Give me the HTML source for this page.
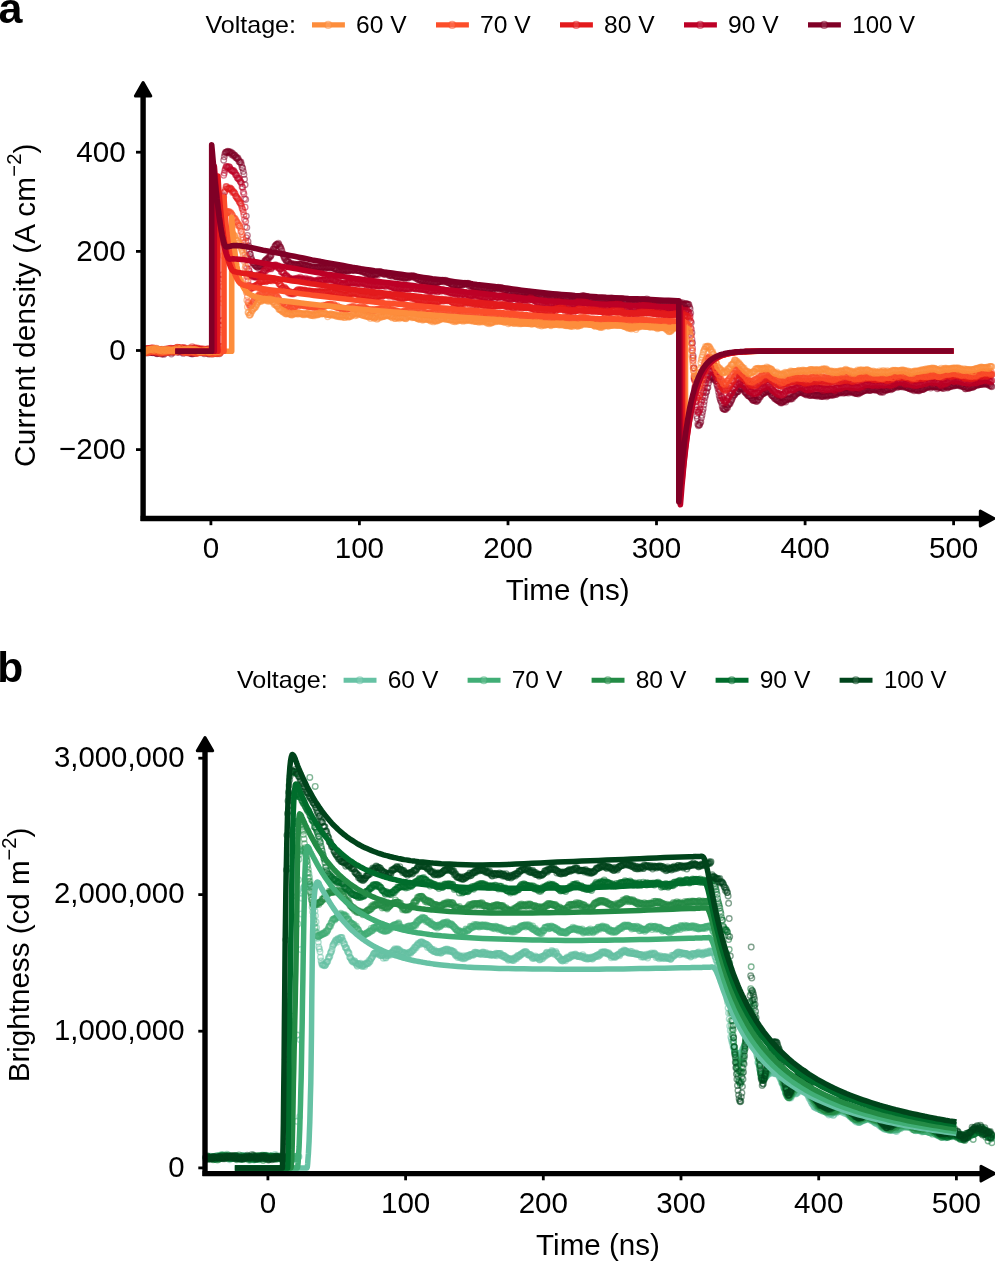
<!DOCTYPE html>
<html><head><meta charset="utf-8"><title>Figure</title>
<style>html,body{margin:0;padding:0;background:#fff}svg{display:block;will-change:transform}</style>
</head><body>
<svg width="995" height="1262" viewBox="0 0 995 1262">
<rect width="995" height="1262" fill="#fff"/>
<defs>
<marker id="r0" markerWidth="9" markerHeight="9" refX="4.5" refY="4.5" markerUnits="userSpaceOnUse"><circle cx="4.5" cy="4.5" r="2.8" fill="none" stroke="#FD8D3C" stroke-opacity=".5" stroke-width="1.35"/></marker>
<marker id="r1" markerWidth="9" markerHeight="9" refX="4.5" refY="4.5" markerUnits="userSpaceOnUse"><circle cx="4.5" cy="4.5" r="2.8" fill="none" stroke="#FC4E2A" stroke-opacity=".5" stroke-width="1.35"/></marker>
<marker id="r2" markerWidth="9" markerHeight="9" refX="4.5" refY="4.5" markerUnits="userSpaceOnUse"><circle cx="4.5" cy="4.5" r="2.8" fill="none" stroke="#E31A1C" stroke-opacity=".5" stroke-width="1.35"/></marker>
<marker id="r3" markerWidth="9" markerHeight="9" refX="4.5" refY="4.5" markerUnits="userSpaceOnUse"><circle cx="4.5" cy="4.5" r="2.8" fill="none" stroke="#BD0026" stroke-opacity=".5" stroke-width="1.35"/></marker>
<marker id="r4" markerWidth="9" markerHeight="9" refX="4.5" refY="4.5" markerUnits="userSpaceOnUse"><circle cx="4.5" cy="4.5" r="2.8" fill="none" stroke="#800026" stroke-opacity=".5" stroke-width="1.35"/></marker>
<marker id="g0" markerWidth="9" markerHeight="9" refX="4.5" refY="4.5" markerUnits="userSpaceOnUse"><circle cx="4.5" cy="4.5" r="2.8" fill="none" stroke="#66C2A4" stroke-opacity=".5" stroke-width="1.35"/></marker>
<marker id="g1" markerWidth="9" markerHeight="9" refX="4.5" refY="4.5" markerUnits="userSpaceOnUse"><circle cx="4.5" cy="4.5" r="2.8" fill="none" stroke="#41AE76" stroke-opacity=".5" stroke-width="1.35"/></marker>
<marker id="g2" markerWidth="9" markerHeight="9" refX="4.5" refY="4.5" markerUnits="userSpaceOnUse"><circle cx="4.5" cy="4.5" r="2.8" fill="none" stroke="#238B45" stroke-opacity=".5" stroke-width="1.35"/></marker>
<marker id="g3" markerWidth="9" markerHeight="9" refX="4.5" refY="4.5" markerUnits="userSpaceOnUse"><circle cx="4.5" cy="4.5" r="2.8" fill="none" stroke="#006D2C" stroke-opacity=".5" stroke-width="1.35"/></marker>
<marker id="g4" markerWidth="9" markerHeight="9" refX="4.5" refY="4.5" markerUnits="userSpaceOnUse"><circle cx="4.5" cy="4.5" r="2.8" fill="none" stroke="#00441B" stroke-opacity=".5" stroke-width="1.35"/></marker>
</defs>
<g fill="none" stroke="none">
<polyline points="144.1,351.4 144.7,350.9 145.2,351.5 145.8,351.7 146.4,352.1 147.0,351.6 147.6,352.9 148.2,350.7 148.8,351.9 149.4,351.1 150.0,352.6 150.6,351.3 151.2,351.7 151.8,352.2 152.4,352.5 153.0,352.7 153.6,350.9 154.2,351.4 154.8,352.2 155.3,352.2 155.9,352.8 156.5,353.6 157.1,353.7 157.7,352.9 158.3,352.7 158.9,353.4 159.5,352.1 160.1,352.4 160.7,352.7 161.3,354.1 161.9,353.1 162.5,352.9 163.1,353.8 163.7,354.4 164.3,351.5 164.9,352.3 165.4,352.9 166.0,351.4 166.6,351.7 167.2,352.0 167.8,352.1 168.4,351.6 169.0,351.1 169.6,352.0 170.2,352.2 170.8,351.6 171.4,354.0 172.0,351.9 172.6,352.2 173.2,351.9 173.8,351.9 174.4,351.5 175.0,351.5 175.5,351.4 176.1,351.5 176.7,350.9 177.3,351.5 177.9,350.4 178.5,352.2 179.1,350.8 179.7,350.6 180.3,351.8 180.9,351.2 181.5,350.1 182.1,351.2 182.7,351.8 183.3,353.4 183.9,351.2 184.5,351.6 185.1,351.4 185.6,350.5 186.2,352.1 186.8,352.1 187.4,352.8 188.0,352.5 188.6,352.6 189.2,352.2 189.8,352.5 190.4,353.6 191.0,353.5 191.6,352.4 192.2,354.1 192.8,353.0 193.4,352.4 194.0,353.1 194.6,353.3 195.2,352.4 195.7,353.0 196.3,353.1 196.9,353.1 197.5,351.9 198.1,352.1 198.7,351.3 199.3,352.4 199.9,352.3 200.5,352.2 201.1,351.6 201.7,352.2 202.3,351.0 202.9,351.3 203.5,352.2 204.1,353.7 204.7,352.9 205.3,350.8 205.8,351.9 206.4,351.9 207.0,352.5 207.6,352.0 208.2,353.7 208.8,353.9 209.4,353.8 210.0,352.7 210.6,352.4 211.2,352.6 211.8,353.2 212.4,354.0 213.0,352.6 213.6,353.4 214.2,353.2 214.8,353.2 215.4,353.4 216.0,353.6 216.5,353.4 217.1,353.8 217.7,352.6 218.3,352.8 218.9,351.8 219.5,353.7 220.1,351.5 220.7,352.3 221.3,347.7 221.9,320.4 222.5,274.8 223.1,195.8 223.7,160.2 224.3,156.8 224.9,153.9 225.5,152.4 226.1,152.4 226.6,151.9 227.2,152.0 227.8,151.1 228.4,151.9 229.0,152.0 229.6,152.0 230.2,152.9 230.8,151.9 231.4,154.4 232.0,153.2 232.6,153.5 233.2,155.7 233.8,154.7 234.4,155.5 235.0,155.5 235.6,157.4 236.2,156.9 236.7,158.3 237.3,158.5 237.9,157.9 238.5,159.6 239.1,161.7 239.7,161.8 240.3,162.5 240.9,162.0 241.5,164.7 242.1,167.5 242.7,168.2 243.3,171.4 243.9,174.4 244.5,179.2 245.1,184.8 245.7,199.4 246.3,216.1 246.8,227.6 247.4,235.4 248.0,241.4 248.6,245.8 249.2,250.9 249.8,254.0 250.4,254.2 251.0,257.5 251.6,259.5 252.2,260.7 252.8,262.9 253.4,262.9 254.0,263.6 254.6,265.3 255.2,264.8 255.8,266.1 256.4,265.9 256.9,266.9 257.5,267.0 258.1,267.5 258.7,266.1 259.3,266.3 259.9,265.9 260.5,266.2 261.1,265.8 261.7,264.9 262.3,263.7 262.9,263.4 263.5,263.6 264.1,262.4 264.7,260.9 265.3,261.5 265.9,259.6 266.5,260.2 267.0,258.9 267.6,259.6 268.2,257.7 268.8,258.6 269.4,256.7 270.0,256.2 270.6,256.4 271.2,254.9 271.8,252.0 272.4,251.3 273.0,249.4 273.6,249.0 274.2,249.9 274.8,246.5 275.4,246.0 276.0,245.0 276.6,244.4 277.1,244.4 277.7,244.5 278.3,243.1 278.9,244.4 279.5,246.1 280.1,247.1 280.7,247.5 281.3,249.3 281.9,251.0 282.5,253.5 283.1,254.4 283.7,256.3 284.3,258.2 284.9,257.4 285.5,259.4 286.1,260.4 286.7,261.6 287.2,261.1 287.8,260.7 288.4,262.2 289.0,262.4 289.6,264.3 290.2,263.6 290.8,263.9 291.4,263.2 292.0,264.5 292.6,265.3 293.2,264.9 293.8,265.2 294.4,264.0 295.0,264.6 295.6,264.8 296.2,264.9 296.8,264.4 297.4,265.3 297.9,265.5 298.5,266.1 299.1,263.9 299.7,264.4 300.3,264.2 300.9,264.6 301.5,263.5 302.1,265.3 302.7,263.8 303.3,265.3 303.9,265.1 304.5,265.7 305.1,264.9 305.7,265.4 306.3,265.1 306.9,266.1 307.5,266.9 308.0,265.8 308.6,265.6 309.2,266.2 309.8,266.9 310.4,266.8 311.0,268.4 311.6,267.5 312.2,266.6 312.8,267.1 313.4,268.0 314.0,266.8 314.6,267.5 315.2,266.9 315.8,268.4 316.4,267.9 317.0,267.3 317.6,267.3 318.1,267.2 318.7,267.6 319.3,267.7 319.9,267.2 320.5,266.9 321.1,268.5 321.7,267.6 322.3,267.4 322.9,267.1 323.5,266.5 324.1,268.1 324.7,266.7 325.3,268.3 325.9,267.5 326.5,267.3 327.1,267.0 327.7,267.2 328.2,267.1 328.8,267.0 329.4,266.9 330.0,268.1 330.6,267.9 331.2,267.4 331.8,266.9 332.4,266.9 333.0,265.8 333.6,268.0 334.2,268.9 334.8,268.5 335.4,268.5 336.0,269.1 336.6,270.2 337.2,269.8 337.8,270.0 338.3,271.1 338.9,271.2 339.5,269.7 340.1,272.2 340.7,270.7 341.3,271.0 341.9,269.9 342.5,270.5 343.1,271.5 343.7,270.1 344.3,271.3 344.9,269.5 345.5,269.7 346.1,270.9 346.7,270.3 347.3,270.7 347.9,271.4 348.4,270.0 349.0,270.4 349.6,270.0 350.2,269.8 350.8,269.5 351.4,269.7 352.0,270.4 352.6,270.2 353.2,269.9 353.8,270.2 354.4,270.3 355.0,268.8 355.6,269.7 356.2,268.8 356.8,270.6 357.4,270.2 358.0,270.5 358.5,270.6 359.1,270.7 359.7,270.7 360.3,271.0 360.9,269.7 361.5,270.6 362.1,271.7 362.7,271.8 363.3,271.1 363.9,271.4 364.5,272.4 365.1,271.6 365.7,273.5 366.3,273.1 366.9,271.9 367.5,275.1 368.1,273.8 368.6,273.2 369.2,274.3 369.8,274.9 370.4,275.2 371.0,276.1 371.6,275.6 372.2,274.6 372.8,275.0 373.4,274.5 374.0,274.5 374.6,274.0 375.2,275.1 375.8,274.0 376.4,273.9 377.0,273.7 377.6,274.0 378.2,274.8 378.8,272.8 379.3,272.6 379.9,271.5 380.5,272.6 381.1,272.0 381.7,272.7 382.3,273.5 382.9,273.0 383.5,274.2 384.1,273.4 384.7,273.7 385.3,274.5 385.9,273.1 386.5,273.3 387.1,273.9 387.7,273.8 388.3,273.4 388.9,274.7 389.4,275.7 390.0,275.5 390.6,274.5 391.2,274.9 391.8,276.2 392.4,274.4 393.0,275.3 393.6,274.5 394.2,275.0 394.8,276.3 395.4,276.1 396.0,276.8 396.6,277.0 397.2,276.8 397.8,276.3 398.4,275.8 399.0,277.5 399.5,276.5 400.1,277.1 400.7,277.3 401.3,276.5 401.9,277.6 402.5,276.5 403.1,277.7 403.7,278.1 404.3,276.9 404.9,278.4 405.5,278.1 406.1,277.3 406.7,277.0 407.3,277.1 407.9,278.2 408.5,277.6 409.1,276.3 409.6,276.2 410.2,277.2 410.8,276.3 411.4,276.3 412.0,275.8 412.6,277.1 413.2,275.7 413.8,277.1 414.4,276.1 415.0,276.7 415.6,278.3 416.2,278.1 416.8,278.0 417.4,277.8 418.0,279.7 418.6,279.4 419.2,278.9 419.7,279.3 420.3,280.7 420.9,280.8 421.5,280.2 422.1,281.4 422.7,280.8 423.3,280.6 423.9,281.4 424.5,283.5 425.1,281.0 425.7,281.2 426.3,281.1 426.9,281.6 427.5,283.4 428.1,281.4 428.7,282.2 429.3,281.8 429.8,282.6 430.4,282.7 431.0,282.7 431.6,281.5 432.2,282.5 432.8,282.9 433.4,283.7 434.0,282.6 434.6,282.9 435.2,282.8 435.8,282.2 436.4,282.4 437.0,282.7 437.6,282.4 438.2,282.3 438.8,281.6 439.4,281.3 439.9,281.4 440.5,281.8 441.1,280.4 441.7,280.2 442.3,281.4 442.9,280.3 443.5,280.9 444.1,282.1 444.7,280.7 445.3,280.2 445.9,281.5 446.5,281.7 447.1,280.7 447.7,282.5 448.3,282.7 448.9,282.6 449.5,282.3 450.0,282.7 450.6,283.8 451.2,284.1 451.8,284.2 452.4,284.8 453.0,285.4 453.6,285.8 454.2,284.7 454.8,285.5 455.4,283.4 456.0,285.1 456.6,286.1 457.2,285.6 457.8,285.4 458.4,285.3 459.0,285.3 459.6,285.2 460.2,285.5 460.7,284.8 461.3,283.6 461.9,285.2 462.5,285.0 463.1,284.0 463.7,283.5 464.3,283.7 464.9,283.3 465.5,284.2 466.1,284.3 466.7,283.7 467.3,283.8 467.9,283.3 468.5,283.5 469.1,286.0 469.7,284.4 470.3,285.5 470.8,286.7 471.4,285.2 472.0,285.8 472.6,286.1 473.2,287.0 473.8,287.1 474.4,286.8 475.0,287.9 475.6,287.2 476.2,287.4 476.8,287.8 477.4,287.7 478.0,288.2 478.6,289.1 479.2,289.1 479.8,288.4 480.4,287.9 480.9,288.5 481.5,288.9 482.1,288.5 482.7,289.8 483.3,289.3 483.9,288.9 484.5,288.7 485.1,289.0 485.7,289.1 486.3,289.9 486.9,289.6 487.5,289.2 488.1,290.8 488.7,290.4 489.3,289.9 489.9,288.7 490.5,289.2 491.0,288.5 491.6,288.6 492.2,289.7 492.8,289.2 493.4,289.8 494.0,288.0 494.6,288.1 495.2,288.1 495.8,287.9 496.4,287.9 497.0,288.0 497.6,287.9 498.2,287.3 498.8,288.7 499.4,288.9 500.0,288.2 500.6,287.5 501.1,288.2 501.7,288.6 502.3,288.0 502.9,288.6 503.5,290.2 504.1,289.8 504.7,290.8 505.3,289.8 505.9,290.3 506.5,290.1 507.1,289.3 507.7,291.5 508.3,291.4 508.9,292.0 509.5,293.9 510.1,292.7 510.7,292.8 511.2,292.2 511.8,293.1 512.4,293.4 513.0,292.1 513.6,292.5 514.2,293.1 514.8,293.0 515.4,292.8 516.0,292.0 516.6,291.7 517.2,293.7 517.8,292.1 518.4,292.9 519.0,292.8 519.6,292.5 520.2,293.9 520.8,292.7 521.3,294.3 521.9,293.8 522.5,294.1 523.1,292.3 523.7,292.3 524.3,292.9 524.9,293.0 525.5,293.7 526.1,292.0 526.7,292.2 527.3,292.5 527.9,293.2 528.5,293.4 529.1,293.2 529.7,292.3 530.3,294.0 530.9,293.3 531.4,292.4 532.0,293.0 532.6,292.5 533.2,293.5 533.8,293.6 534.4,293.0 535.0,293.6 535.6,293.9 536.2,294.6 536.8,295.4 537.4,293.5 538.0,295.0 538.6,295.5 539.2,294.6 539.8,296.1 540.4,296.7 541.0,296.5 541.6,296.4 542.1,296.5 542.7,296.6 543.3,296.5 543.9,297.5 544.5,297.4 545.1,298.0 545.7,298.5 546.3,297.9 546.9,298.1 547.5,297.1 548.1,298.0 548.7,298.8 549.3,297.8 549.9,298.3 550.5,296.8 551.1,298.8 551.7,297.8 552.2,297.6 552.8,296.9 553.4,296.8 554.0,297.7 554.6,297.8 555.2,296.4 555.8,295.5 556.4,295.5 557.0,296.8 557.6,296.2 558.2,297.2 558.8,297.6 559.4,295.7 560.0,296.1 560.6,296.8 561.2,296.9 561.8,296.1 562.3,296.6 562.9,297.2 563.5,297.0 564.1,297.4 564.7,297.9 565.3,298.3 565.9,297.4 566.5,298.6 567.1,299.4 567.7,297.5 568.3,298.2 568.9,298.9 569.5,299.5 570.1,299.6 570.7,300.9 571.3,300.0 571.9,299.9 572.4,300.2 573.0,299.7 573.6,300.4 574.2,299.6 574.8,300.5 575.4,299.2 576.0,299.3 576.6,299.5 577.2,298.6 577.8,298.1 578.4,298.3 579.0,297.0 579.6,297.9 580.2,296.6 580.8,296.6 581.4,297.3 582.0,295.7 582.5,297.5 583.1,296.0 583.7,296.2 584.3,295.6 584.9,297.2 585.5,296.9 586.1,296.8 586.7,296.4 587.3,296.6 587.9,297.0 588.5,297.5 589.1,298.2 589.7,299.0 590.3,298.8 590.9,298.5 591.5,298.6 592.1,300.0 592.6,299.3 593.2,301.2 593.8,300.0 594.4,301.5 595.0,300.7 595.6,301.6 596.2,301.6 596.8,301.2 597.4,299.8 598.0,301.1 598.6,300.1 599.2,300.2 599.8,300.0 600.4,300.0 601.0,299.7 601.6,300.9 602.2,300.0 602.7,299.8 603.3,300.4 603.9,299.7 604.5,300.6 605.1,299.4 605.7,300.3 606.3,300.0 606.9,299.2 607.5,298.9 608.1,299.9 608.7,299.9 609.3,298.7 609.9,301.3 610.5,298.4 611.1,298.3 611.7,299.9 612.3,298.3 612.8,298.8 613.4,298.7 614.0,300.5 614.6,299.2 615.2,299.0 615.8,299.0 616.4,299.0 617.0,298.9 617.6,300.7 618.2,298.9 618.8,299.3 619.4,299.0 620.0,299.4 620.6,299.2 621.2,299.2 621.8,298.4 622.4,300.5 622.9,299.1 623.5,300.8 624.1,301.6 624.7,302.4 625.3,301.2 625.9,303.2 626.5,302.0 627.1,302.7 627.7,303.6 628.3,303.9 628.9,303.3 629.5,303.6 630.1,303.2 630.7,303.7 631.3,303.9 631.9,303.1 632.5,304.2 633.1,302.7 633.6,303.1 634.2,303.8 634.8,303.6 635.4,303.0 636.0,303.9 636.6,301.5 637.2,301.6 637.8,302.8 638.4,301.9 639.0,300.5 639.6,301.1 640.2,301.8 640.8,302.4 641.4,301.8 642.0,299.7 642.6,300.1 643.2,301.0 643.7,299.5 644.3,300.2 644.9,300.4 645.5,300.3 646.1,300.4 646.7,299.0 647.3,301.0 647.9,300.8 648.5,299.9 649.1,300.1 649.7,302.1 650.3,300.4 650.9,301.4 651.5,303.6 652.1,301.7 652.7,304.3 653.3,303.1 653.8,304.6 654.4,305.2 655.0,303.6 655.6,304.0 656.2,304.4 656.8,304.2 657.4,304.4 658.0,304.5 658.6,305.0 659.2,303.8 659.8,304.1 660.4,304.2 661.0,304.4 661.6,304.1 662.2,304.9 662.8,304.0 663.4,304.5 663.9,302.9 664.5,304.4 665.1,304.0 665.7,303.7 666.3,303.2 666.9,303.5 667.5,303.8 668.1,302.4 668.7,303.9 669.3,303.8 669.9,302.2 670.5,304.7 671.1,303.4 671.7,303.8 672.3,305.0 672.9,304.6 673.5,303.6 674.0,305.1 674.6,304.2 675.2,303.4 675.8,304.1 676.4,303.7 677.0,304.3 677.6,304.3 678.2,304.2 678.8,304.1 679.4,303.4 680.0,303.9 680.6,302.6 681.2,303.7 681.8,304.0 682.4,302.7 683.0,304.4 683.6,304.9 684.1,304.3 684.7,305.1 685.3,304.0 685.9,303.4 686.5,303.9 687.1,304.6 687.7,304.4 688.3,304.3 688.9,304.8 689.5,307.1 690.1,308.8 690.7,313.1 691.3,322.6 691.9,332.8 692.5,342.8 693.1,355.7 693.7,368.0 694.2,379.1 694.8,390.5 695.4,401.2 696.0,410.0 696.6,416.1 697.2,418.6 697.8,424.3 698.4,425.7 699.0,424.8 699.6,425.0 700.2,422.9 700.8,421.9 701.4,418.0 702.0,415.3 702.6,412.0 703.2,409.0 703.8,404.9 704.3,401.6 704.9,397.7 705.5,395.6 706.1,392.6 706.7,391.5 707.3,388.2 707.9,387.4 708.5,383.2 709.1,380.4 709.7,379.3 710.3,376.2 710.9,377.6 711.5,376.8 712.1,377.4 712.7,377.4 713.3,377.9 713.9,379.2 714.5,379.6 715.0,378.4 715.6,380.9 716.2,381.1 716.8,384.5 717.4,386.2 718.0,388.7 718.6,392.3 719.2,395.5 719.8,398.0 720.4,400.0 721.0,401.2 721.6,402.8 722.2,406.3 722.8,408.4 723.4,408.5 724.0,409.3 724.6,409.2 725.1,408.9 725.7,409.6 726.3,407.0 726.9,407.4 727.5,407.8 728.1,404.9 728.7,404.4 729.3,403.6 729.9,404.0 730.5,402.2 731.1,400.8 731.7,400.0 732.3,398.3 732.9,396.8 733.5,395.5 734.1,394.7 734.7,394.8 735.2,392.7 735.8,393.0 736.4,391.8 737.0,391.7 737.6,391.7 738.2,391.5 738.8,389.1 739.4,389.1 740.0,388.2 740.6,387.3 741.2,388.8 741.8,389.1 742.4,388.1 743.0,388.5 743.6,389.6 744.2,390.5 744.8,392.1 745.3,391.9 745.9,393.2 746.5,393.2 747.1,393.7 747.7,395.4 748.3,395.4 748.9,396.0 749.5,396.2 750.1,396.2 750.7,397.5 751.3,398.1 751.9,398.6 752.5,400.0 753.1,400.2 753.7,400.4 754.3,400.1 754.9,400.2 755.4,399.5 756.0,401.6 756.6,400.6 757.2,401.2 757.8,399.8 758.4,399.8 759.0,397.1 759.6,396.7 760.2,397.2 760.8,395.5 761.4,394.7 762.0,393.5 762.6,393.7 763.2,393.7 763.8,393.3 764.4,392.3 765.0,392.0 765.5,392.1 766.1,392.2 766.7,390.4 767.3,391.5 767.9,391.2 768.5,390.8 769.1,391.7 769.7,391.4 770.3,393.5 770.9,392.8 771.5,394.9 772.1,395.7 772.7,396.1 773.3,396.0 773.9,397.3 774.5,398.4 775.1,397.2 775.6,399.2 776.2,399.1 776.8,399.4 777.4,400.5 778.0,400.4 778.6,400.7 779.2,401.6 779.8,401.1 780.4,402.4 781.0,402.9 781.6,402.0 782.2,402.7 782.8,401.6 783.4,401.6 784.0,401.5 784.6,400.4 785.2,400.1 785.7,402.1 786.3,399.9 786.9,399.2 787.5,398.6 788.1,399.0 788.7,399.1 789.3,398.0 789.9,397.4 790.5,399.2 791.1,398.6 791.7,397.7 792.3,398.8 792.9,397.0 793.5,395.7 794.1,396.6 794.7,395.3 795.3,395.6 795.9,394.3 796.4,393.7 797.0,392.9 797.6,393.4 798.2,392.3 798.8,392.5 799.4,392.8 800.0,391.3 800.6,392.6 801.2,392.1 801.8,390.6 802.4,391.8 803.0,393.2 803.6,392.6 804.2,393.4 804.8,393.4 805.4,394.6 806.0,393.6 806.5,395.0 807.1,393.9 807.7,394.0 808.3,393.7 808.9,392.8 809.5,395.5 810.1,395.3 810.7,395.2 811.3,394.9 811.9,393.9 812.5,394.8 813.1,395.0 813.7,395.4 814.3,395.2 814.9,395.1 815.5,395.0 816.1,396.0 816.6,395.2 817.2,394.8 817.8,395.0 818.4,396.2 819.0,394.8 819.6,394.8 820.2,395.2 820.8,396.3 821.4,396.5 822.0,395.5 822.6,396.3 823.2,396.6 823.8,395.1 824.4,395.2 825.0,395.4 825.6,395.0 826.2,395.3 826.7,396.7 827.3,395.0 827.9,395.7 828.5,395.3 829.1,394.4 829.7,395.0 830.3,394.1 830.9,394.9 831.5,395.0 832.1,395.0 832.7,394.3 833.3,395.2 833.9,393.8 834.5,393.6 835.1,393.7 835.7,394.6 836.3,394.4 836.8,392.2 837.4,393.2 838.0,391.5 838.6,392.8 839.2,392.0 839.8,393.2 840.4,392.6 841.0,392.4 841.6,391.8 842.2,391.1 842.8,391.6 843.4,393.3 844.0,392.3 844.6,392.5 845.2,392.8 845.8,392.0 846.4,391.3 846.9,392.7 847.5,391.6 848.1,391.4 848.7,393.1 849.3,391.0 849.9,391.0 850.5,392.0 851.1,390.9 851.7,392.0 852.3,391.4 852.9,391.8 853.5,392.9 854.1,392.3 854.7,392.7 855.3,393.0 855.9,393.6 856.5,393.3 857.0,393.6 857.6,391.9 858.2,394.0 858.8,392.4 859.4,392.7 860.0,393.0 860.6,391.4 861.2,392.3 861.8,390.7 862.4,391.4 863.0,390.9 863.6,391.0 864.2,390.3 864.8,389.8 865.4,390.6 866.0,390.1 866.6,388.7 867.1,390.2 867.7,388.4 868.3,389.8 868.9,389.8 869.5,390.5 870.1,389.9 870.7,390.4 871.3,389.6 871.9,388.6 872.5,389.1 873.1,389.4 873.7,389.7 874.3,389.5 874.9,390.1 875.5,390.0 876.1,387.9 876.7,389.3 877.3,390.3 877.8,389.4 878.4,389.1 879.0,390.9 879.6,390.8 880.2,391.8 880.8,392.2 881.4,390.2 882.0,388.8 882.6,391.7 883.2,392.2 883.8,390.0 884.4,390.1 885.0,390.3 885.6,389.4 886.2,390.4 886.8,389.7 887.4,389.1 887.9,389.7 888.5,388.9 889.1,389.2 889.7,388.4 890.3,388.4 890.9,389.7 891.5,388.0 892.1,388.9 892.7,388.2 893.3,388.5 893.9,386.6 894.5,387.1 895.1,387.0 895.7,385.6 896.3,385.8 896.9,386.4 897.5,387.6 898.0,385.6 898.6,386.3 899.2,386.4 899.8,385.6 900.4,386.7 901.0,386.4 901.6,385.8 902.2,386.1 902.8,387.1 903.4,385.8 904.0,386.1 904.6,385.7 905.2,387.2 905.8,387.2 906.4,386.7 907.0,387.3 907.6,387.6 908.1,387.9 908.7,388.2 909.3,388.6 909.9,388.8 910.5,388.2 911.1,388.9 911.7,389.8 912.3,388.9 912.9,388.0 913.5,388.3 914.1,390.8 914.7,390.1 915.3,389.1 915.9,389.7 916.5,389.8 917.1,390.1 917.7,390.0 918.2,390.8 918.8,389.3 919.4,390.8 920.0,390.1 920.6,388.8 921.2,388.9 921.8,389.5 922.4,389.3 923.0,389.4 923.6,389.1 924.2,388.7 924.8,387.3 925.4,388.3 926.0,387.3 926.6,387.2 927.2,387.0 927.8,387.2 928.3,386.4 928.9,386.6 929.5,386.5 930.1,386.8 930.7,387.9 931.3,385.9 931.9,385.9 932.5,386.8 933.1,386.6 933.7,386.4 934.3,387.3 934.9,386.3 935.5,386.4 936.1,386.5 936.7,386.6 937.3,388.7 937.9,387.1 938.4,387.9 939.0,386.9 939.6,387.0 940.2,387.2 940.8,387.8 941.4,385.7 942.0,387.7 942.6,388.3 943.2,386.8 943.8,388.4 944.4,386.0 945.0,386.6 945.6,386.4 946.2,386.5 946.8,386.9 947.4,388.0 948.0,387.4 948.5,386.4 949.1,386.8 949.7,386.2 950.3,386.7 950.9,386.6 951.5,385.6 952.1,385.0 952.7,385.3 953.3,385.8 953.9,386.1 954.5,383.4 955.1,385.5 955.7,385.2 956.3,385.1 956.9,384.0 957.5,385.1 958.1,384.3 958.7,384.6 959.2,385.7 959.8,384.9 960.4,386.0 961.0,385.5 961.6,385.1 962.2,386.0 962.8,386.7 963.4,386.6 964.0,386.7 964.6,386.7 965.2,388.7 965.8,388.7 966.4,387.3 967.0,387.9 967.6,388.0 968.2,387.9 968.8,388.1 969.3,388.2 969.9,387.7 970.5,387.1 971.1,387.1 971.7,387.1 972.3,387.5 972.9,386.4 973.5,387.1 974.1,386.5 974.7,385.7 975.3,385.5 975.9,384.7 976.5,384.7 977.1,384.8 977.7,385.2 978.3,384.8 978.9,384.8 979.4,383.2 980.0,383.9 980.6,384.5 981.2,384.5 981.8,382.9 982.4,384.3 983.0,383.5 983.6,383.6 984.2,383.0 984.8,384.4 985.4,383.6 986.0,383.9 986.6,383.6 987.2,383.3 987.8,384.2 988.4,384.6 989.0,383.9 989.5,385.7 990.1,384.7 990.7,385.8 991.3,386.2 991.9,386.7" marker-start="url(#r4)" marker-mid="url(#r4)" marker-end="url(#r4)"/>
<polyline points="144.1,351.6 144.7,350.9 145.2,350.5 145.8,352.7 146.4,351.0 147.0,350.9 147.6,350.5 148.2,350.2 148.8,350.5 149.4,351.6 150.0,350.7 150.6,351.8 151.2,350.8 151.8,351.4 152.4,351.4 153.0,351.2 153.6,352.4 154.2,351.4 154.8,352.0 155.3,350.4 155.9,350.2 156.5,352.0 157.1,352.5 157.7,350.8 158.3,351.4 158.9,351.7 159.5,349.5 160.1,351.5 160.7,352.0 161.3,351.5 161.9,351.2 162.5,350.4 163.1,351.4 163.7,352.5 164.3,352.0 164.9,350.4 165.4,352.9 166.0,351.7 166.6,350.9 167.2,351.4 167.8,351.7 168.4,352.1 169.0,351.3 169.6,351.0 170.2,351.1 170.8,350.5 171.4,350.9 172.0,350.1 172.6,350.8 173.2,350.1 173.8,350.8 174.4,349.3 175.0,349.5 175.5,349.8 176.1,350.9 176.7,350.0 177.3,352.2 177.9,350.4 178.5,350.0 179.1,350.8 179.7,350.1 180.3,349.8 180.9,349.1 181.5,350.5 182.1,351.7 182.7,352.4 183.3,351.0 183.9,350.3 184.5,350.3 185.1,351.1 185.6,351.7 186.2,351.9 186.8,351.6 187.4,351.5 188.0,351.3 188.6,351.7 189.2,350.5 189.8,351.9 190.4,351.7 191.0,351.4 191.6,351.5 192.2,352.6 192.8,353.2 193.4,352.9 194.0,351.7 194.6,351.4 195.2,351.5 195.7,351.1 196.3,350.7 196.9,352.1 197.5,349.8 198.1,349.7 198.7,351.1 199.3,351.8 199.9,351.5 200.5,352.7 201.1,351.7 201.7,352.3 202.3,351.8 202.9,352.0 203.5,350.3 204.1,352.3 204.7,351.4 205.3,351.9 205.8,350.4 206.4,350.7 207.0,352.5 207.6,352.0 208.2,351.0 208.8,351.6 209.4,350.7 210.0,351.0 210.6,351.8 211.2,351.2 211.8,350.8 212.4,351.3 213.0,351.2 213.6,351.2 214.2,351.6 214.8,350.7 215.4,352.5 216.0,351.3 216.5,351.9 217.1,351.2 217.7,350.8 218.3,350.9 218.9,350.8 219.5,350.6 220.1,350.8 220.7,351.3 221.3,346.5 221.9,320.9 222.5,279.1 223.1,206.4 223.7,175.3 224.3,173.1 224.9,170.3 225.5,168.6 226.1,166.8 226.6,166.4 227.2,167.0 227.8,167.9 228.4,166.9 229.0,166.7 229.6,167.2 230.2,168.8 230.8,169.7 231.4,170.2 232.0,171.0 232.6,170.2 233.2,171.4 233.8,170.8 234.4,171.9 235.0,173.0 235.6,174.9 236.2,174.7 236.7,175.6 237.3,177.7 237.9,178.5 238.5,178.8 239.1,178.2 239.7,180.2 240.3,181.8 240.9,182.0 241.5,183.4 242.1,186.9 242.7,187.4 243.3,192.0 243.9,194.0 244.5,198.6 245.1,207.2 245.7,221.4 246.3,237.8 246.8,250.5 247.4,257.5 248.0,264.0 248.6,269.4 249.2,271.2 249.8,274.0 250.4,274.4 251.0,274.8 251.6,275.6 252.2,275.3 252.8,276.4 253.4,277.0 254.0,275.8 254.6,276.5 255.2,277.1 255.8,276.9 256.4,277.1 256.9,276.5 257.5,276.9 258.1,274.7 258.7,274.8 259.3,276.8 259.9,275.5 260.5,274.5 261.1,274.5 261.7,275.1 262.3,272.6 262.9,273.4 263.5,271.5 264.1,271.1 264.7,269.8 265.3,271.0 265.9,268.6 266.5,270.3 267.0,268.0 267.6,268.0 268.2,268.1 268.8,268.9 269.4,266.7 270.0,267.0 270.6,268.5 271.2,268.9 271.8,267.2 272.4,267.1 273.0,265.7 273.6,265.8 274.2,265.4 274.8,265.8 275.4,264.7 276.0,265.7 276.6,266.3 277.1,267.2 277.7,265.5 278.3,266.8 278.9,268.3 279.5,268.5 280.1,269.0 280.7,269.1 281.3,272.0 281.9,271.7 282.5,271.8 283.1,272.8 283.7,273.3 284.3,273.2 284.9,275.8 285.5,276.2 286.1,275.5 286.7,275.6 287.2,276.8 287.8,277.6 288.4,278.6 289.0,277.7 289.6,278.2 290.2,279.5 290.8,279.4 291.4,279.9 292.0,279.1 292.6,279.8 293.2,278.9 293.8,278.9 294.4,279.7 295.0,279.0 295.6,279.0 296.2,278.6 296.8,279.8 297.4,278.9 297.9,277.9 298.5,278.6 299.1,279.3 299.7,278.8 300.3,277.3 300.9,279.2 301.5,279.4 302.1,278.4 302.7,279.3 303.3,280.2 303.9,280.3 304.5,279.2 305.1,279.7 305.7,278.3 306.3,279.8 306.9,280.5 307.5,280.3 308.0,280.8 308.6,279.3 309.2,281.0 309.8,279.6 310.4,280.5 311.0,279.7 311.6,281.3 312.2,280.7 312.8,282.8 313.4,281.7 314.0,281.9 314.6,280.5 315.2,281.3 315.8,280.7 316.4,281.6 317.0,281.9 317.6,281.0 318.1,279.9 318.7,280.8 319.3,279.5 319.9,280.7 320.5,280.6 321.1,280.4 321.7,280.2 322.3,280.3 322.9,279.8 323.5,280.1 324.1,280.1 324.7,278.2 325.3,278.6 325.9,279.4 326.5,279.6 327.1,280.3 327.7,278.8 328.2,279.7 328.8,277.9 329.4,280.6 330.0,279.2 330.6,278.6 331.2,280.0 331.8,278.4 332.4,279.3 333.0,279.6 333.6,281.2 334.2,280.2 334.8,280.5 335.4,281.4 336.0,280.5 336.6,281.8 337.2,283.8 337.8,282.1 338.3,281.2 338.9,283.0 339.5,282.1 340.1,283.2 340.7,282.9 341.3,284.9 341.9,284.4 342.5,283.5 343.1,283.8 343.7,284.8 344.3,283.0 344.9,283.3 345.5,284.2 346.1,285.0 346.7,283.0 347.3,283.7 347.9,282.7 348.4,282.3 349.0,283.2 349.6,283.0 350.2,282.2 350.8,282.9 351.4,284.0 352.0,282.1 352.6,282.3 353.2,282.9 353.8,282.1 354.4,282.7 355.0,282.7 355.6,281.8 356.2,283.4 356.8,283.5 357.4,282.5 358.0,283.4 358.5,281.9 359.1,283.0 359.7,283.8 360.3,282.9 360.9,284.3 361.5,281.8 362.1,282.9 362.7,282.5 363.3,282.8 363.9,283.2 364.5,284.3 365.1,283.2 365.7,284.1 366.3,284.6 366.9,285.7 367.5,283.5 368.1,284.8 368.6,285.0 369.2,286.2 369.8,284.3 370.4,285.1 371.0,284.3 371.6,285.1 372.2,285.7 372.8,284.7 373.4,286.3 374.0,286.3 374.6,285.3 375.2,284.7 375.8,284.5 376.4,285.5 377.0,285.6 377.6,285.4 378.2,285.8 378.8,286.0 379.3,285.4 379.9,286.1 380.5,285.9 381.1,284.9 381.7,285.5 382.3,286.0 382.9,285.1 383.5,285.6 384.1,285.0 384.7,286.0 385.3,285.9 385.9,286.4 386.5,284.6 387.1,284.4 387.7,284.6 388.3,285.3 388.9,285.6 389.4,286.1 390.0,285.8 390.6,286.6 391.2,287.4 391.8,286.3 392.4,286.7 393.0,287.2 393.6,287.8 394.2,288.1 394.8,287.9 395.4,287.9 396.0,288.9 396.6,288.4 397.2,288.9 397.8,287.4 398.4,289.1 399.0,289.1 399.5,288.9 400.1,288.2 400.7,289.0 401.3,287.2 401.9,287.9 402.5,290.1 403.1,288.3 403.7,288.2 404.3,289.3 404.9,288.5 405.5,288.4 406.1,289.0 406.7,288.6 407.3,288.3 407.9,288.9 408.5,288.6 409.1,289.4 409.6,288.0 410.2,288.8 410.8,287.5 411.4,286.8 412.0,287.0 412.6,288.4 413.2,287.8 413.8,288.2 414.4,287.8 415.0,288.7 415.6,288.9 416.2,288.4 416.8,289.0 417.4,287.8 418.0,288.3 418.6,288.7 419.2,289.1 419.7,289.2 420.3,288.5 420.9,289.1 421.5,289.2 422.1,288.0 422.7,289.2 423.3,289.5 423.9,289.6 424.5,288.7 425.1,290.1 425.7,290.3 426.3,289.4 426.9,289.6 427.5,289.6 428.1,291.4 428.7,290.6 429.3,291.4 429.8,290.8 430.4,292.1 431.0,291.1 431.6,290.1 432.2,290.6 432.8,292.3 433.4,289.9 434.0,290.2 434.6,290.7 435.2,290.5 435.8,290.8 436.4,289.8 437.0,290.7 437.6,291.9 438.2,291.4 438.8,289.7 439.4,290.0 439.9,290.3 440.5,291.4 441.1,290.4 441.7,290.0 442.3,290.7 442.9,290.2 443.5,290.0 444.1,290.1 444.7,290.6 445.3,290.7 445.9,292.1 446.5,291.6 447.1,291.0 447.7,290.6 448.3,291.9 448.9,291.4 449.5,292.3 450.0,293.1 450.6,292.3 451.2,292.3 451.8,293.3 452.4,293.4 453.0,292.8 453.6,293.3 454.2,292.7 454.8,294.1 455.4,292.7 456.0,293.9 456.6,293.4 457.2,294.9 457.8,293.3 458.4,294.0 459.0,292.8 459.6,295.5 460.2,295.7 460.7,293.9 461.3,293.9 461.9,295.7 462.5,294.1 463.1,293.8 463.7,293.5 464.3,294.4 464.9,295.5 465.5,295.8 466.1,293.0 466.7,294.3 467.3,294.0 467.9,295.0 468.5,295.0 469.1,295.1 469.7,295.8 470.3,295.5 470.8,296.1 471.4,295.7 472.0,294.7 472.6,295.5 473.2,296.0 473.8,294.3 474.4,294.6 475.0,295.5 475.6,296.8 476.2,294.7 476.8,294.7 477.4,296.1 478.0,294.8 478.6,296.5 479.2,296.3 479.8,296.6 480.4,296.3 480.9,296.7 481.5,295.8 482.1,297.3 482.7,297.0 483.3,297.4 483.9,297.5 484.5,298.3 485.1,297.9 485.7,297.0 486.3,297.4 486.9,298.8 487.5,298.3 488.1,298.6 488.7,298.3 489.3,298.2 489.9,298.4 490.5,297.1 491.0,296.7 491.6,297.1 492.2,297.4 492.8,296.9 493.4,297.6 494.0,296.3 494.6,295.4 495.2,298.9 495.8,296.8 496.4,297.1 497.0,296.9 497.6,297.2 498.2,298.0 498.8,296.9 499.4,297.1 500.0,296.8 500.6,296.6 501.1,296.8 501.7,294.9 502.3,297.4 502.9,296.8 503.5,297.6 504.1,297.0 504.7,296.1 505.3,297.5 505.9,298.3 506.5,298.9 507.1,297.9 507.7,299.0 508.3,298.3 508.9,299.3 509.5,299.3 510.1,299.0 510.7,300.1 511.2,298.1 511.8,299.6 512.4,298.6 513.0,298.4 513.6,297.0 514.2,298.3 514.8,298.1 515.4,299.1 516.0,299.0 516.6,299.1 517.2,298.5 517.8,300.1 518.4,299.3 519.0,297.7 519.6,300.5 520.2,301.2 520.8,300.3 521.3,300.1 521.9,298.9 522.5,299.7 523.1,299.3 523.7,300.5 524.3,300.0 524.9,299.8 525.5,300.5 526.1,299.6 526.7,299.9 527.3,299.5 527.9,300.5 528.5,300.8 529.1,298.4 529.7,299.3 530.3,299.3 530.9,297.5 531.4,298.7 532.0,299.2 532.6,300.1 533.2,299.7 533.8,300.1 534.4,300.8 535.0,300.0 535.6,300.9 536.2,301.4 536.8,302.8 537.4,303.1 538.0,302.2 538.6,303.2 539.2,304.0 539.8,303.7 540.4,304.1 541.0,304.7 541.6,304.7 542.1,304.2 542.7,304.6 543.3,305.5 543.9,305.6 544.5,304.9 545.1,305.9 545.7,305.1 546.3,305.3 546.9,306.1 547.5,306.8 548.1,305.6 548.7,304.9 549.3,304.7 549.9,303.7 550.5,304.4 551.1,304.3 551.7,303.8 552.2,304.2 552.8,302.6 553.4,304.0 554.0,304.0 554.6,303.5 555.2,302.2 555.8,303.2 556.4,303.2 557.0,302.2 557.6,301.7 558.2,302.8 558.8,302.1 559.4,303.1 560.0,301.8 560.6,303.6 561.2,303.2 561.8,303.5 562.3,304.0 562.9,303.6 563.5,303.4 564.1,304.7 564.7,303.0 565.3,304.5 565.9,304.7 566.5,305.7 567.1,305.4 567.7,304.9 568.3,306.3 568.9,306.1 569.5,306.1 570.1,306.4 570.7,304.9 571.3,305.7 571.9,303.7 572.4,305.5 573.0,304.6 573.6,304.1 574.2,304.5 574.8,305.0 575.4,303.7 576.0,302.9 576.6,303.2 577.2,302.1 577.8,303.3 578.4,301.5 579.0,300.0 579.6,300.6 580.2,300.4 580.8,301.2 581.4,301.2 582.0,300.2 582.5,301.3 583.1,300.8 583.7,302.1 584.3,301.5 584.9,301.9 585.5,303.9 586.1,302.8 586.7,302.6 587.3,302.9 587.9,303.3 588.5,303.0 589.1,304.2 589.7,305.0 590.3,304.1 590.9,303.5 591.5,305.5 592.1,304.4 592.6,305.8 593.2,307.0 593.8,306.7 594.4,306.9 595.0,305.6 595.6,306.4 596.2,306.8 596.8,306.4 597.4,305.5 598.0,306.5 598.6,306.9 599.2,306.2 599.8,307.0 600.4,306.1 601.0,305.8 601.6,306.4 602.2,306.9 602.7,306.5 603.3,307.6 603.9,305.5 604.5,304.9 605.1,306.5 605.7,307.8 606.3,306.7 606.9,307.1 607.5,307.2 608.1,305.8 608.7,305.7 609.3,305.8 609.9,304.5 610.5,305.1 611.1,305.7 611.7,304.6 612.3,305.7 612.8,305.0 613.4,305.3 614.0,304.4 614.6,304.8 615.2,304.9 615.8,304.3 616.4,304.2 617.0,304.3 617.6,303.7 618.2,305.3 618.8,304.4 619.4,303.6 620.0,304.9 620.6,306.7 621.2,304.7 621.8,305.9 622.4,305.6 622.9,306.3 623.5,306.5 624.1,306.5 624.7,307.7 625.3,307.7 625.9,309.6 626.5,309.7 627.1,309.6 627.7,308.7 628.3,310.6 628.9,310.5 629.5,309.9 630.1,310.7 630.7,311.2 631.3,311.5 631.9,309.3 632.5,310.4 633.1,309.0 633.6,308.5 634.2,309.2 634.8,307.8 635.4,309.2 636.0,307.5 636.6,307.8 637.2,306.7 637.8,306.4 638.4,306.2 639.0,305.7 639.6,306.5 640.2,306.9 640.8,306.6 641.4,305.0 642.0,306.3 642.6,305.7 643.2,305.1 643.7,305.4 644.3,306.0 644.9,306.8 645.5,304.7 646.1,305.8 646.7,306.6 647.3,306.0 647.9,305.6 648.5,307.1 649.1,305.7 649.7,305.9 650.3,305.7 650.9,306.1 651.5,306.9 652.1,307.5 652.7,306.7 653.3,307.2 653.8,305.9 654.4,307.4 655.0,307.2 655.6,307.7 656.2,309.2 656.8,307.6 657.4,308.7 658.0,309.5 658.6,308.3 659.2,307.8 659.8,308.8 660.4,308.9 661.0,309.1 661.6,308.9 662.2,307.7 662.8,308.3 663.4,308.0 663.9,307.9 664.5,310.3 665.1,308.2 665.7,308.0 666.3,308.3 666.9,309.6 667.5,309.1 668.1,308.1 668.7,308.3 669.3,308.2 669.9,309.2 670.5,308.1 671.1,307.2 671.7,308.0 672.3,307.1 672.9,307.3 673.5,307.4 674.0,308.4 674.6,308.5 675.2,308.6 675.8,307.5 676.4,307.6 677.0,309.4 677.6,309.8 678.2,309.0 678.8,308.4 679.4,309.4 680.0,309.4 680.6,309.7 681.2,309.9 681.8,310.6 682.4,310.4 683.0,310.4 683.6,311.1 684.1,310.0 684.7,311.9 685.3,311.5 685.9,311.8 686.5,310.4 687.1,310.3 687.7,311.4 688.3,311.7 688.9,312.8 689.5,314.6 690.1,316.4 690.7,321.1 691.3,329.1 691.9,339.1 692.5,347.9 693.1,357.8 693.7,368.0 694.2,378.1 694.8,387.2 695.4,396.0 696.0,401.9 696.6,406.8 697.2,409.8 697.8,411.9 698.4,412.7 699.0,411.8 699.6,409.9 700.2,408.7 700.8,404.3 701.4,402.0 702.0,400.2 702.6,396.6 703.2,392.5 703.8,391.0 704.3,387.9 704.9,385.2 705.5,383.3 706.1,380.2 706.7,379.0 707.3,376.9 707.9,375.2 708.5,373.8 709.1,371.3 709.7,371.3 710.3,371.0 710.9,370.9 711.5,370.5 712.1,370.2 712.7,370.8 713.3,371.5 713.9,372.9 714.5,373.3 715.0,374.3 715.6,376.6 716.2,376.7 716.8,378.4 717.4,381.1 718.0,382.7 718.6,386.1 719.2,389.3 719.8,390.5 720.4,391.9 721.0,395.6 721.6,396.5 722.2,397.4 722.8,399.0 723.4,399.9 724.0,400.4 724.6,402.9 725.1,401.1 725.7,402.2 726.3,401.0 726.9,400.3 727.5,398.2 728.1,398.7 728.7,396.5 729.3,396.8 729.9,393.5 730.5,394.4 731.1,393.2 731.7,393.1 732.3,391.7 732.9,389.4 733.5,389.1 734.1,389.1 734.7,387.8 735.2,386.8 735.8,384.8 736.4,385.4 737.0,384.5 737.6,383.5 738.2,382.2 738.8,383.0 739.4,384.0 740.0,383.8 740.6,382.0 741.2,383.1 741.8,385.0 742.4,384.4 743.0,384.9 743.6,385.3 744.2,385.3 744.8,385.9 745.3,386.1 745.9,389.0 746.5,388.2 747.1,389.1 747.7,390.3 748.3,389.5 748.9,391.4 749.5,391.8 750.1,390.2 750.7,391.5 751.3,391.7 751.9,391.8 752.5,393.9 753.1,392.4 753.7,393.5 754.3,393.3 754.9,393.0 755.4,393.0 756.0,393.5 756.6,392.8 757.2,392.3 757.8,391.2 758.4,392.9 759.0,389.9 759.6,391.0 760.2,388.3 760.8,389.0 761.4,387.7 762.0,388.7 762.6,387.0 763.2,387.4 763.8,386.9 764.4,386.4 765.0,387.9 765.5,386.8 766.1,386.5 766.7,385.1 767.3,385.2 767.9,384.5 768.5,385.1 769.1,384.8 769.7,386.6 770.3,386.5 770.9,387.7 771.5,388.8 772.1,389.9 772.7,389.4 773.3,390.7 773.9,391.0 774.5,391.9 775.1,392.5 775.6,390.1 776.2,392.4 776.8,393.8 777.4,393.4 778.0,393.6 778.6,395.0 779.2,393.5 779.8,395.1 780.4,394.2 781.0,394.9 781.6,395.1 782.2,392.0 782.8,394.4 783.4,394.6 784.0,393.5 784.6,393.3 785.2,391.3 785.7,391.3 786.3,392.0 786.9,389.5 787.5,390.5 788.1,390.9 788.7,389.0 789.3,389.1 789.9,390.2 790.5,390.2 791.1,389.5 791.7,389.9 792.3,388.9 792.9,389.0 793.5,389.9 794.1,389.7 794.7,388.8 795.3,387.5 795.9,388.5 796.4,387.4 797.0,387.9 797.6,386.9 798.2,387.3 798.8,386.4 799.4,387.2 800.0,387.0 800.6,385.1 801.2,386.0 801.8,387.7 802.4,386.2 803.0,387.5 803.6,386.7 804.2,389.0 804.8,388.4 805.4,389.0 806.0,389.4 806.5,389.9 807.1,387.9 807.7,389.3 808.3,389.5 808.9,390.3 809.5,388.2 810.1,388.1 810.7,388.9 811.3,389.6 811.9,388.0 812.5,388.3 813.1,389.2 813.7,386.6 814.3,387.5 814.9,388.6 815.5,388.5 816.1,387.4 816.6,387.2 817.2,387.7 817.8,387.9 818.4,388.6 819.0,387.0 819.6,388.8 820.2,388.5 820.8,388.5 821.4,389.0 822.0,388.4 822.6,387.9 823.2,390.6 823.8,389.3 824.4,388.3 825.0,388.3 825.6,389.7 826.2,388.9 826.7,389.3 827.3,389.3 827.9,389.9 828.5,388.8 829.1,388.6 829.7,388.3 830.3,389.2 830.9,389.3 831.5,388.5 832.1,386.9 832.7,389.4 833.3,389.2 833.9,387.9 834.5,389.8 835.1,390.7 835.7,388.2 836.3,387.8 836.8,387.8 837.4,387.9 838.0,387.7 838.6,388.7 839.2,387.3 839.8,388.5 840.4,388.7 841.0,387.5 841.6,388.0 842.2,387.7 842.8,387.1 843.4,386.8 844.0,386.3 844.6,387.1 845.2,386.8 845.8,386.5 846.4,386.3 846.9,386.2 847.5,386.1 848.1,386.7 848.7,386.7 849.3,386.7 849.9,387.3 850.5,387.3 851.1,388.1 851.7,387.4 852.3,386.9 852.9,388.1 853.5,386.7 854.1,387.9 854.7,386.8 855.3,386.3 855.9,387.3 856.5,387.7 857.0,387.1 857.6,387.6 858.2,387.9 858.8,386.4 859.4,388.3 860.0,386.1 860.6,387.1 861.2,385.6 861.8,386.4 862.4,384.4 863.0,385.8 863.6,386.8 864.2,382.9 864.8,384.8 865.4,384.7 866.0,384.6 866.6,384.7 867.1,384.3 867.7,385.0 868.3,383.0 868.9,385.1 869.5,384.2 870.1,383.8 870.7,384.9 871.3,384.2 871.9,385.2 872.5,385.5 873.1,385.3 873.7,383.9 874.3,383.9 874.9,385.2 875.5,383.8 876.1,385.1 876.7,384.3 877.3,383.9 877.8,385.8 878.4,383.9 879.0,384.6 879.6,385.4 880.2,383.8 880.8,384.1 881.4,384.0 882.0,384.5 882.6,384.8 883.2,385.3 883.8,384.6 884.4,385.2 885.0,384.9 885.6,384.4 886.2,384.2 886.8,384.5 887.4,384.7 887.9,385.1 888.5,384.3 889.1,384.1 889.7,385.3 890.3,385.2 890.9,385.4 891.5,384.8 892.1,384.7 892.7,382.8 893.3,383.0 893.9,384.6 894.5,382.8 895.1,383.2 895.7,384.0 896.3,382.3 896.9,382.7 897.5,381.8 898.0,381.4 898.6,382.1 899.2,380.5 899.8,381.4 900.4,382.0 901.0,382.7 901.6,380.0 902.2,382.3 902.8,381.9 903.4,381.9 904.0,381.7 904.6,383.4 905.2,384.4 905.8,382.7 906.4,384.0 907.0,383.3 907.6,381.8 908.1,383.8 908.7,383.1 909.3,384.6 909.9,381.9 910.5,384.4 911.1,384.0 911.7,384.6 912.3,385.0 912.9,383.9 913.5,385.0 914.1,385.5 914.7,385.3 915.3,385.1 915.9,384.9 916.5,384.8 917.1,385.4 917.7,385.2 918.2,383.2 918.8,384.7 919.4,383.4 920.0,384.5 920.6,383.8 921.2,384.3 921.8,385.1 922.4,384.0 923.0,382.8 923.6,382.4 924.2,382.5 924.8,383.5 925.4,383.2 926.0,383.7 926.6,382.5 927.2,382.0 927.8,382.2 928.3,382.7 928.9,381.7 929.5,381.8 930.1,381.4 930.7,381.8 931.3,381.5 931.9,382.2 932.5,382.3 933.1,383.6 933.7,381.7 934.3,381.9 934.9,382.8 935.5,381.2 936.1,381.5 936.7,381.4 937.3,382.9 937.9,383.2 938.4,383.0 939.0,382.8 939.6,382.6 940.2,384.6 940.8,384.2 941.4,385.7 942.0,384.5 942.6,383.7 943.2,383.8 943.8,382.5 944.4,383.4 945.0,383.9 945.6,383.8 946.2,382.7 946.8,381.4 947.4,383.0 948.0,382.4 948.5,381.3 949.1,381.2 949.7,380.1 950.3,380.8 950.9,380.3 951.5,380.3 952.1,380.1 952.7,379.3 953.3,381.2 953.9,381.5 954.5,381.4 955.1,380.5 955.7,380.2 956.3,379.9 956.9,380.1 957.5,380.2 958.1,381.6 958.7,380.9 959.2,380.2 959.8,381.5 960.4,381.2 961.0,381.3 961.6,380.9 962.2,382.0 962.8,382.8 963.4,382.1 964.0,382.2 964.6,381.5 965.2,382.6 965.8,382.5 966.4,382.7 967.0,382.8 967.6,381.0 968.2,384.3 968.8,382.1 969.3,383.0 969.9,382.4 970.5,383.5 971.1,382.2 971.7,382.8 972.3,381.8 972.9,381.1 973.5,382.9 974.1,383.1 974.7,381.1 975.3,380.4 975.9,381.7 976.5,383.0 977.1,382.5 977.7,380.6 978.3,379.8 978.9,381.0 979.4,381.8 980.0,379.9 980.6,381.5 981.2,381.0 981.8,380.8 982.4,380.7 983.0,379.7 983.6,380.7 984.2,379.8 984.8,379.0 985.4,379.0 986.0,378.8 986.6,380.1 987.2,381.1 987.8,379.9 988.4,380.1 989.0,380.3 989.5,381.0 990.1,380.7 990.7,382.0 991.3,380.9 991.9,380.5" marker-start="url(#r3)" marker-mid="url(#r3)" marker-end="url(#r3)"/>
<polyline points="144.1,349.1 144.7,349.2 145.2,348.8 145.8,349.1 146.4,348.7 147.0,349.2 147.6,348.6 148.2,348.6 148.8,348.4 149.4,348.6 150.0,349.1 150.6,348.8 151.2,347.9 151.8,349.0 152.4,348.8 153.0,347.8 153.6,348.6 154.2,348.6 154.8,349.8 155.3,350.0 155.9,349.4 156.5,348.3 157.1,351.0 157.7,351.1 158.3,349.6 158.9,349.8 159.5,350.7 160.1,349.4 160.7,349.8 161.3,350.2 161.9,349.9 162.5,350.2 163.1,349.6 163.7,350.2 164.3,350.5 164.9,350.2 165.4,349.5 166.0,348.9 166.6,350.1 167.2,350.3 167.8,349.4 168.4,348.8 169.0,349.8 169.6,348.4 170.2,349.9 170.8,348.3 171.4,348.7 172.0,350.2 172.6,348.6 173.2,349.0 173.8,348.8 174.4,349.1 175.0,348.5 175.5,348.9 176.1,348.3 176.7,347.6 177.3,347.3 177.9,347.5 178.5,347.6 179.1,347.9 179.7,348.3 180.3,348.9 180.9,347.5 181.5,348.5 182.1,348.1 182.7,349.2 183.3,348.0 183.9,347.5 184.5,348.7 185.1,348.2 185.6,349.0 186.2,349.0 186.8,349.5 187.4,351.1 188.0,349.1 188.6,349.0 189.2,348.9 189.8,348.0 190.4,348.5 191.0,348.6 191.6,349.3 192.2,346.8 192.8,349.5 193.4,348.8 194.0,348.9 194.6,347.8 195.2,348.3 195.7,348.1 196.3,349.7 196.9,348.9 197.5,347.9 198.1,349.0 198.7,349.6 199.3,348.7 199.9,349.4 200.5,349.1 201.1,349.0 201.7,350.1 202.3,349.6 202.9,348.7 203.5,349.9 204.1,349.9 204.7,350.2 205.3,349.6 205.8,349.5 206.4,350.4 207.0,349.7 207.6,348.6 208.2,350.8 208.8,349.0 209.4,349.1 210.0,350.8 210.6,351.0 211.2,350.3 211.8,349.1 212.4,350.5 213.0,350.1 213.6,350.0 214.2,350.2 214.8,348.8 215.4,349.9 216.0,350.9 216.5,349.9 217.1,349.6 217.7,350.8 218.3,349.9 218.9,350.4 219.5,350.9 220.1,350.6 220.7,349.5 221.3,346.5 221.9,325.0 222.5,286.5 223.1,222.7 223.7,197.0 224.3,192.5 224.9,191.7 225.5,189.5 226.1,186.5 226.6,186.8 227.2,187.9 227.8,188.7 228.4,188.9 229.0,188.7 229.6,188.2 230.2,188.0 230.8,189.3 231.4,189.0 232.0,190.5 232.6,192.4 233.2,191.5 233.8,191.9 234.4,193.0 235.0,193.6 235.6,195.9 236.2,196.5 236.7,197.4 237.3,198.2 237.9,199.0 238.5,199.5 239.1,201.3 239.7,202.5 240.3,203.0 240.9,204.0 241.5,205.8 242.1,208.2 242.7,209.4 243.3,212.0 243.9,215.1 244.5,219.4 245.1,226.8 245.7,241.4 246.3,256.9 246.8,268.1 247.4,276.8 248.0,280.9 248.6,285.7 249.2,285.5 249.8,287.5 250.4,288.5 251.0,288.2 251.6,288.6 252.2,286.9 252.8,286.8 253.4,287.2 254.0,287.3 254.6,286.2 255.2,286.0 255.8,285.7 256.4,285.5 256.9,285.6 257.5,284.9 258.1,284.0 258.7,284.1 259.3,283.2 259.9,281.0 260.5,281.9 261.1,281.3 261.7,282.1 262.3,280.8 262.9,281.5 263.5,281.0 264.1,280.7 264.7,281.1 265.3,279.9 265.9,281.8 266.5,281.2 267.0,280.6 267.6,280.8 268.2,280.3 268.8,279.0 269.4,280.5 270.0,279.9 270.6,280.2 271.2,280.2 271.8,280.9 272.4,279.1 273.0,278.5 273.6,279.4 274.2,278.7 274.8,280.6 275.4,280.0 276.0,280.3 276.6,280.1 277.1,281.1 277.7,281.3 278.3,281.3 278.9,283.8 279.5,283.8 280.1,284.2 280.7,285.7 281.3,285.7 281.9,287.8 282.5,287.9 283.1,288.0 283.7,289.6 284.3,287.3 284.9,288.0 285.5,288.8 286.1,289.5 286.7,289.8 287.2,291.0 287.8,291.3 288.4,292.9 289.0,291.2 289.6,292.3 290.2,293.7 290.8,293.1 291.4,292.3 292.0,293.8 292.6,293.0 293.2,294.0 293.8,292.7 294.4,292.2 295.0,293.6 295.6,292.2 296.2,291.2 296.8,291.4 297.4,289.9 297.9,290.1 298.5,289.7 299.1,291.1 299.7,290.8 300.3,289.8 300.9,289.7 301.5,290.4 302.1,290.3 302.7,290.9 303.3,290.8 303.9,290.4 304.5,289.9 305.1,290.7 305.7,290.7 306.3,291.4 306.9,291.2 307.5,291.0 308.0,292.3 308.6,291.0 309.2,291.2 309.8,290.9 310.4,291.2 311.0,291.9 311.6,291.6 312.2,291.2 312.8,293.0 313.4,291.8 314.0,291.7 314.6,291.7 315.2,292.1 315.8,292.3 316.4,291.9 317.0,292.2 317.6,291.0 318.1,292.0 318.7,292.1 319.3,291.6 319.9,292.2 320.5,292.2 321.1,291.4 321.7,291.5 322.3,292.3 322.9,292.9 323.5,292.4 324.1,291.5 324.7,292.9 325.3,291.9 325.9,291.6 326.5,292.5 327.1,290.7 327.7,291.6 328.2,292.5 328.8,292.2 329.4,291.3 330.0,290.7 330.6,291.5 331.2,291.7 331.8,292.1 332.4,291.0 333.0,291.3 333.6,293.4 334.2,292.5 334.8,292.2 335.4,292.9 336.0,292.6 336.6,292.7 337.2,293.9 337.8,292.6 338.3,293.6 338.9,293.2 339.5,293.9 340.1,294.3 340.7,293.5 341.3,294.3 341.9,293.6 342.5,294.4 343.1,293.4 343.7,295.4 344.3,294.8 344.9,295.3 345.5,295.5 346.1,294.5 346.7,295.6 347.3,294.5 347.9,293.5 348.4,293.9 349.0,294.5 349.6,294.2 350.2,293.4 350.8,292.7 351.4,293.8 352.0,293.4 352.6,293.1 353.2,293.4 353.8,293.0 354.4,293.0 355.0,292.3 355.6,293.7 356.2,293.3 356.8,293.3 357.4,294.2 358.0,294.2 358.5,294.2 359.1,295.4 359.7,295.0 360.3,295.6 360.9,295.3 361.5,295.6 362.1,295.6 362.7,294.9 363.3,294.7 363.9,295.0 364.5,296.2 365.1,295.5 365.7,296.7 366.3,295.5 366.9,295.5 367.5,296.3 368.1,296.1 368.6,295.7 369.2,295.8 369.8,296.7 370.4,296.9 371.0,297.6 371.6,296.8 372.2,297.0 372.8,296.7 373.4,296.4 374.0,297.7 374.6,297.3 375.2,297.0 375.8,297.9 376.4,296.9 377.0,297.0 377.6,296.4 378.2,296.1 378.8,296.0 379.3,296.5 379.9,296.1 380.5,296.0 381.1,295.3 381.7,297.0 382.3,295.8 382.9,296.0 383.5,295.3 384.1,294.5 384.7,294.9 385.3,294.9 385.9,295.3 386.5,294.6 387.1,294.6 387.7,295.5 388.3,294.4 388.9,295.2 389.4,296.4 390.0,295.3 390.6,294.9 391.2,295.1 391.8,295.5 392.4,295.8 393.0,295.5 393.6,295.7 394.2,297.4 394.8,296.9 395.4,296.5 396.0,296.7 396.6,296.3 397.2,296.4 397.8,297.2 398.4,297.8 399.0,296.7 399.5,298.6 400.1,298.4 400.7,297.2 401.3,298.3 401.9,298.4 402.5,298.8 403.1,298.0 403.7,296.7 404.3,298.2 404.9,298.3 405.5,297.2 406.1,296.4 406.7,297.2 407.3,297.8 407.9,296.9 408.5,297.6 409.1,296.4 409.6,297.2 410.2,296.8 410.8,297.2 411.4,296.9 412.0,299.0 412.6,297.6 413.2,297.9 413.8,298.1 414.4,299.5 415.0,297.8 415.6,299.4 416.2,298.8 416.8,299.7 417.4,299.7 418.0,300.0 418.6,300.9 419.2,300.4 419.7,299.2 420.3,301.0 420.9,300.3 421.5,301.7 422.1,299.9 422.7,301.7 423.3,301.7 423.9,301.2 424.5,300.9 425.1,302.3 425.7,301.6 426.3,301.3 426.9,301.7 427.5,302.3 428.1,301.5 428.7,301.1 429.3,300.3 429.8,300.9 430.4,302.9 431.0,300.9 431.6,301.0 432.2,301.5 432.8,301.2 433.4,300.8 434.0,301.7 434.6,302.3 435.2,301.6 435.8,301.0 436.4,301.7 437.0,301.7 437.6,302.1 438.2,300.8 438.8,301.8 439.4,301.1 439.9,301.3 440.5,299.8 441.1,299.9 441.7,298.9 442.3,300.8 442.9,301.0 443.5,300.0 444.1,301.1 444.7,300.5 445.3,299.7 445.9,300.2 446.5,299.7 447.1,300.8 447.7,300.7 448.3,300.6 448.9,300.0 449.5,300.0 450.0,300.1 450.6,301.0 451.2,301.7 451.8,301.8 452.4,301.8 453.0,303.1 453.6,303.0 454.2,303.9 454.8,302.8 455.4,303.1 456.0,304.2 456.6,303.1 457.2,303.9 457.8,304.1 458.4,303.7 459.0,303.9 459.6,304.8 460.2,304.4 460.7,304.8 461.3,303.2 461.9,303.5 462.5,302.6 463.1,303.5 463.7,303.6 464.3,301.9 464.9,302.0 465.5,303.5 466.1,301.8 466.7,303.0 467.3,301.5 467.9,302.2 468.5,303.1 469.1,302.9 469.7,303.0 470.3,305.0 470.8,302.7 471.4,303.5 472.0,302.9 472.6,305.5 473.2,303.3 473.8,303.9 474.4,304.8 475.0,302.8 475.6,303.6 476.2,304.9 476.8,304.9 477.4,304.0 478.0,303.2 478.6,304.0 479.2,304.7 479.8,303.2 480.4,304.8 480.9,303.6 481.5,304.1 482.1,304.8 482.7,305.3 483.3,305.4 483.9,305.2 484.5,304.4 485.1,305.6 485.7,306.2 486.3,304.8 486.9,305.1 487.5,305.8 488.1,305.0 488.7,305.7 489.3,304.6 489.9,305.9 490.5,306.4 491.0,306.1 491.6,305.7 492.2,305.7 492.8,306.1 493.4,306.1 494.0,306.5 494.6,305.9 495.2,304.4 495.8,305.6 496.4,306.0 497.0,305.8 497.6,305.8 498.2,305.4 498.8,305.9 499.4,304.6 500.0,306.0 500.6,305.6 501.1,304.5 501.7,305.5 502.3,304.7 502.9,305.7 503.5,305.0 504.1,304.1 504.7,306.2 505.3,305.3 505.9,306.5 506.5,305.8 507.1,306.4 507.7,306.0 508.3,307.1 508.9,307.9 509.5,306.2 510.1,306.7 510.7,306.0 511.2,306.9 511.8,307.1 512.4,307.8 513.0,308.2 513.6,307.3 514.2,308.2 514.8,306.5 515.4,306.5 516.0,307.1 516.6,306.6 517.2,307.4 517.8,307.7 518.4,305.6 519.0,307.3 519.6,306.2 520.2,307.6 520.8,306.7 521.3,306.4 521.9,308.1 522.5,308.0 523.1,307.5 523.7,307.3 524.3,307.0 524.9,307.6 525.5,307.5 526.1,307.7 526.7,307.7 527.3,306.7 527.9,307.3 528.5,307.7 529.1,307.8 529.7,307.6 530.3,308.3 530.9,307.3 531.4,307.4 532.0,308.9 532.6,308.7 533.2,308.9 533.8,308.4 534.4,309.8 535.0,309.8 535.6,310.6 536.2,310.8 536.8,310.8 537.4,308.3 538.0,309.9 538.6,310.6 539.2,310.7 539.8,312.1 540.4,311.8 541.0,310.6 541.6,311.2 542.1,310.5 542.7,311.3 543.3,311.0 543.9,311.3 544.5,311.1 545.1,311.2 545.7,310.7 546.3,311.8 546.9,311.6 547.5,311.9 548.1,311.4 548.7,311.1 549.3,311.3 549.9,312.7 550.5,311.7 551.1,311.5 551.7,311.3 552.2,311.4 552.8,311.0 553.4,309.9 554.0,309.9 554.6,309.2 555.2,311.0 555.8,310.4 556.4,310.3 557.0,308.5 557.6,308.5 558.2,309.3 558.8,309.2 559.4,308.6 560.0,307.9 560.6,307.8 561.2,309.4 561.8,308.5 562.3,309.4 562.9,308.4 563.5,307.9 564.1,309.5 564.7,309.6 565.3,312.0 565.9,310.0 566.5,311.7 567.1,311.1 567.7,310.2 568.3,312.0 568.9,309.4 569.5,311.5 570.1,310.6 570.7,311.6 571.3,310.7 571.9,311.6 572.4,311.2 573.0,312.7 573.6,310.3 574.2,310.4 574.8,310.9 575.4,310.8 576.0,311.1 576.6,310.7 577.2,309.8 577.8,309.6 578.4,309.1 579.0,308.6 579.6,308.5 580.2,308.8 580.8,308.7 581.4,309.1 582.0,308.0 582.5,309.4 583.1,309.5 583.7,308.8 584.3,310.2 584.9,309.6 585.5,310.6 586.1,310.3 586.7,307.4 587.3,311.1 587.9,309.3 588.5,310.5 589.1,310.9 589.7,311.2 590.3,309.7 590.9,310.4 591.5,310.2 592.1,309.1 592.6,311.2 593.2,311.9 593.8,310.4 594.4,309.7 595.0,310.7 595.6,309.9 596.2,310.3 596.8,310.9 597.4,311.8 598.0,311.2 598.6,310.6 599.2,311.0 599.8,311.4 600.4,311.2 601.0,311.6 601.6,311.1 602.2,311.9 602.7,310.7 603.3,311.7 603.9,311.9 604.5,313.4 605.1,313.7 605.7,312.3 606.3,312.5 606.9,310.8 607.5,312.5 608.1,312.6 608.7,311.2 609.3,313.0 609.9,311.4 610.5,312.2 611.1,313.0 611.7,312.1 612.3,310.7 612.8,310.4 613.4,310.3 614.0,310.5 614.6,309.6 615.2,309.2 615.8,309.2 616.4,308.0 617.0,308.5 617.6,309.8 618.2,309.8 618.8,310.2 619.4,309.7 620.0,309.4 620.6,309.4 621.2,310.8 621.8,311.8 622.4,312.6 622.9,313.4 623.5,311.6 624.1,313.4 624.7,314.0 625.3,312.8 625.9,314.8 626.5,314.8 627.1,314.8 627.7,316.7 628.3,316.6 628.9,313.7 629.5,315.8 630.1,317.6 630.7,316.7 631.3,316.3 631.9,315.7 632.5,316.0 633.1,316.5 633.6,315.4 634.2,314.3 634.8,315.1 635.4,315.2 636.0,314.8 636.6,315.3 637.2,312.6 637.8,313.1 638.4,313.2 639.0,312.8 639.6,312.0 640.2,313.0 640.8,313.5 641.4,311.7 642.0,314.0 642.6,312.5 643.2,311.4 643.7,311.1 644.3,312.1 644.9,312.1 645.5,312.1 646.1,312.2 646.7,312.1 647.3,311.1 647.9,311.8 648.5,311.0 649.1,311.8 649.7,312.5 650.3,312.5 650.9,310.9 651.5,312.9 652.1,311.9 652.7,313.4 653.3,312.5 653.8,313.2 654.4,313.4 655.0,313.8 655.6,313.8 656.2,313.3 656.8,312.6 657.4,313.4 658.0,314.4 658.6,313.6 659.2,315.8 659.8,314.2 660.4,312.7 661.0,316.0 661.6,314.6 662.2,313.8 662.8,313.3 663.4,313.8 663.9,315.1 664.5,313.7 665.1,313.9 665.7,315.4 666.3,315.2 666.9,316.0 667.5,315.7 668.1,314.5 668.7,316.3 669.3,314.6 669.9,315.1 670.5,314.9 671.1,315.4 671.7,314.3 672.3,314.7 672.9,314.6 673.5,315.5 674.0,314.3 674.6,314.5 675.2,313.5 675.8,313.9 676.4,314.0 677.0,314.2 677.6,314.2 678.2,314.2 678.8,313.2 679.4,314.7 680.0,314.8 680.6,313.7 681.2,313.1 681.8,314.1 682.4,314.8 683.0,313.5 683.6,315.0 684.1,315.9 684.7,315.7 685.3,315.3 685.9,316.5 686.5,315.8 687.1,316.6 687.7,316.3 688.3,316.9 688.9,319.6 689.5,318.3 690.1,321.6 690.7,327.4 691.3,335.1 691.9,343.4 692.5,350.7 693.1,360.6 693.7,368.2 694.2,376.8 694.8,380.3 695.4,387.3 696.0,392.2 696.6,396.2 697.2,397.8 697.8,397.7 698.4,400.1 699.0,395.8 699.6,395.4 700.2,393.1 700.8,389.7 701.4,385.5 702.0,383.6 702.6,379.8 703.2,378.5 703.8,375.5 704.3,372.0 704.9,371.3 705.5,370.6 706.1,367.9 706.7,366.5 707.3,365.4 707.9,363.9 708.5,363.2 709.1,363.4 709.7,362.3 710.3,362.5 710.9,362.3 711.5,363.3 712.1,362.7 712.7,364.1 713.3,363.9 713.9,366.8 714.5,366.2 715.0,369.1 715.6,369.2 716.2,371.6 716.8,373.1 717.4,373.8 718.0,377.4 718.6,377.8 719.2,379.0 719.8,381.8 720.4,384.9 721.0,384.8 721.6,386.6 722.2,387.7 722.8,388.9 723.4,389.0 724.0,389.2 724.6,390.4 725.1,389.6 725.7,390.6 726.3,388.0 726.9,389.6 727.5,388.8 728.1,387.5 728.7,385.8 729.3,384.9 729.9,385.9 730.5,383.8 731.1,382.9 731.7,380.4 732.3,381.4 732.9,381.1 733.5,380.2 734.1,378.1 734.7,376.7 735.2,376.1 735.8,375.7 736.4,375.8 737.0,374.9 737.6,374.6 738.2,372.7 738.8,374.6 739.4,375.4 740.0,375.2 740.6,375.4 741.2,377.2 741.8,376.3 742.4,376.7 743.0,377.3 743.6,378.7 744.2,378.9 744.8,379.2 745.3,379.5 745.9,380.5 746.5,382.3 747.1,381.5 747.7,381.5 748.3,383.2 748.9,385.3 749.5,383.2 750.1,383.5 750.7,384.6 751.3,385.2 751.9,384.4 752.5,384.9 753.1,385.6 753.7,385.7 754.3,385.4 754.9,384.7 755.4,385.0 756.0,385.5 756.6,384.7 757.2,383.7 757.8,383.0 758.4,383.2 759.0,381.8 759.6,382.3 760.2,380.7 760.8,379.9 761.4,380.1 762.0,380.4 762.6,379.7 763.2,381.3 763.8,378.4 764.4,379.6 765.0,379.4 765.5,378.6 766.1,378.7 766.7,377.9 767.3,377.9 767.9,377.8 768.5,377.1 769.1,377.8 769.7,378.9 770.3,378.9 770.9,379.8 771.5,379.0 772.1,381.0 772.7,381.1 773.3,380.2 773.9,382.0 774.5,382.2 775.1,382.4 775.6,384.3 776.2,383.4 776.8,383.2 777.4,384.1 778.0,384.2 778.6,385.5 779.2,385.1 779.8,385.5 780.4,385.4 781.0,386.3 781.6,385.7 782.2,384.8 782.8,385.3 783.4,384.1 784.0,383.1 784.6,383.6 785.2,383.4 785.7,382.7 786.3,383.5 786.9,382.9 787.5,383.1 788.1,382.8 788.7,381.0 789.3,382.6 789.9,382.1 790.5,382.3 791.1,382.3 791.7,382.1 792.3,381.9 792.9,381.3 793.5,381.6 794.1,380.9 794.7,381.1 795.3,381.0 795.9,380.8 796.4,379.4 797.0,381.3 797.6,380.6 798.2,380.1 798.8,380.3 799.4,381.5 800.0,381.8 800.6,381.3 801.2,380.7 801.8,381.2 802.4,382.0 803.0,382.3 803.6,382.3 804.2,382.4 804.8,383.2 805.4,383.2 806.0,382.2 806.5,380.8 807.1,381.8 807.7,383.0 808.3,382.4 808.9,381.6 809.5,382.1 810.1,381.2 810.7,381.8 811.3,381.8 811.9,382.2 812.5,381.0 813.1,381.1 813.7,381.0 814.3,380.8 814.9,381.4 815.5,380.4 816.1,381.9 816.6,380.6 817.2,381.3 817.8,381.3 818.4,381.4 819.0,380.6 819.6,380.8 820.2,380.3 820.8,381.7 821.4,381.1 822.0,382.0 822.6,381.1 823.2,380.6 823.8,382.3 824.4,381.0 825.0,382.4 825.6,380.7 826.2,381.6 826.7,381.3 827.3,382.4 827.9,380.5 828.5,381.7 829.1,381.9 829.7,380.9 830.3,382.1 830.9,381.7 831.5,381.8 832.1,382.0 832.7,380.7 833.3,380.2 833.9,381.9 834.5,380.1 835.1,380.4 835.7,381.3 836.3,380.5 836.8,379.6 837.4,381.3 838.0,381.3 838.6,381.6 839.2,379.6 839.8,380.3 840.4,381.5 841.0,381.1 841.6,380.5 842.2,381.0 842.8,379.9 843.4,380.5 844.0,379.6 844.6,380.0 845.2,380.0 845.8,380.4 846.4,379.8 846.9,379.4 847.5,381.0 848.1,379.7 848.7,379.3 849.3,379.6 849.9,380.1 850.5,380.6 851.1,381.3 851.7,381.2 852.3,380.9 852.9,381.4 853.5,380.5 854.1,380.9 854.7,380.6 855.3,379.4 855.9,380.0 856.5,379.5 857.0,380.9 857.6,379.2 858.2,380.0 858.8,378.3 859.4,380.2 860.0,379.6 860.6,378.5 861.2,377.6 861.8,379.8 862.4,378.8 863.0,379.0 863.6,377.3 864.2,376.8 864.8,377.9 865.4,377.4 866.0,378.3 866.6,378.6 867.1,377.6 867.7,378.3 868.3,377.5 868.9,378.4 869.5,377.4 870.1,378.5 870.7,378.6 871.3,378.1 871.9,378.7 872.5,378.0 873.1,379.4 873.7,379.6 874.3,378.4 874.9,378.7 875.5,379.4 876.1,379.7 876.7,379.4 877.3,378.9 877.8,379.0 878.4,379.5 879.0,379.4 879.6,378.5 880.2,378.1 880.8,377.9 881.4,379.5 882.0,379.8 882.6,378.7 883.2,379.4 883.8,378.8 884.4,378.8 885.0,379.7 885.6,379.6 886.2,380.6 886.8,380.6 887.4,379.1 887.9,378.1 888.5,380.5 889.1,380.2 889.7,379.4 890.3,378.3 890.9,379.8 891.5,378.3 892.1,377.1 892.7,379.2 893.3,378.3 893.9,376.8 894.5,376.3 895.1,377.4 895.7,376.2 896.3,376.0 896.9,377.4 897.5,376.5 898.0,376.8 898.6,376.6 899.2,376.3 899.8,377.1 900.4,377.7 901.0,377.4 901.6,377.4 902.2,376.7 902.8,376.1 903.4,377.1 904.0,377.3 904.6,377.3 905.2,376.5 905.8,377.3 906.4,377.4 907.0,378.0 907.6,377.8 908.1,378.3 908.7,377.5 909.3,378.5 909.9,377.9 910.5,378.6 911.1,378.9 911.7,380.2 912.3,379.2 912.9,379.7 913.5,378.3 914.1,378.6 914.7,378.4 915.3,378.5 915.9,377.4 916.5,379.4 917.1,377.5 917.7,378.1 918.2,378.5 918.8,378.3 919.4,377.9 920.0,377.7 920.6,377.3 921.2,378.5 921.8,378.6 922.4,377.5 923.0,377.4 923.6,378.8 924.2,378.4 924.8,377.6 925.4,377.8 926.0,376.9 926.6,377.6 927.2,377.4 927.8,374.7 928.3,375.8 928.9,375.3 929.5,375.9 930.1,376.5 930.7,375.1 931.3,374.8 931.9,375.8 932.5,375.8 933.1,375.1 933.7,375.5 934.3,376.4 934.9,374.9 935.5,374.9 936.1,376.7 936.7,374.3 937.3,376.4 937.9,376.5 938.4,376.3 939.0,375.8 939.6,375.9 940.2,377.0 940.8,375.8 941.4,375.6 942.0,376.4 942.6,377.5 943.2,376.7 943.8,376.4 944.4,375.5 945.0,376.3 945.6,375.6 946.2,374.0 946.8,375.9 947.4,376.0 948.0,375.2 948.5,374.9 949.1,374.7 949.7,375.5 950.3,376.3 950.9,376.7 951.5,375.9 952.1,375.5 952.7,376.0 953.3,376.1 953.9,375.3 954.5,375.3 955.1,375.4 955.7,373.8 956.3,374.4 956.9,376.0 957.5,374.5 958.1,375.3 958.7,375.9 959.2,375.9 959.8,373.8 960.4,375.9 961.0,376.7 961.6,376.4 962.2,376.0 962.8,376.6 963.4,377.1 964.0,377.9 964.6,378.0 965.2,378.6 965.8,377.9 966.4,377.6 967.0,377.8 967.6,378.2 968.2,377.2 968.8,377.9 969.3,377.8 969.9,378.9 970.5,378.5 971.1,378.5 971.7,377.5 972.3,378.3 972.9,378.2 973.5,378.1 974.1,376.8 974.7,378.0 975.3,377.9 975.9,376.9 976.5,376.8 977.1,375.5 977.7,375.4 978.3,375.8 978.9,375.9 979.4,375.6 980.0,374.5 980.6,375.1 981.2,374.9 981.8,376.9 982.4,376.0 983.0,375.3 983.6,374.7 984.2,374.7 984.8,375.0 985.4,376.2 986.0,374.8 986.6,375.4 987.2,376.2 987.8,375.3 988.4,374.9 989.0,374.4 989.5,374.0 990.1,374.4 990.7,374.5 991.3,374.9 991.9,374.7" marker-start="url(#r2)" marker-mid="url(#r2)" marker-end="url(#r2)"/>
<polyline points="144.1,352.6 144.7,351.9 145.2,352.0 145.8,351.9 146.4,352.9 147.0,351.9 147.6,352.4 148.2,352.6 148.8,351.8 149.4,351.9 150.0,351.2 150.6,351.1 151.2,351.4 151.8,350.9 152.4,351.0 153.0,351.2 153.6,351.7 154.2,350.5 154.8,350.6 155.3,350.6 155.9,352.1 156.5,352.2 157.1,351.5 157.7,351.1 158.3,351.8 158.9,351.1 159.5,352.7 160.1,351.6 160.7,353.4 161.3,352.6 161.9,352.8 162.5,351.7 163.1,352.5 163.7,352.1 164.3,351.5 164.9,352.4 165.4,351.3 166.0,352.5 166.6,350.8 167.2,352.2 167.8,352.2 168.4,350.9 169.0,350.1 169.6,352.2 170.2,350.2 170.8,350.0 171.4,350.6 172.0,351.8 172.6,351.5 173.2,350.4 173.8,352.2 174.4,349.9 175.0,349.3 175.5,351.4 176.1,351.2 176.7,349.9 177.3,350.8 177.9,349.9 178.5,350.8 179.1,350.9 179.7,350.8 180.3,350.4 180.9,350.6 181.5,351.2 182.1,350.4 182.7,350.4 183.3,351.1 183.9,352.7 184.5,352.3 185.1,352.1 185.6,351.6 186.2,351.1 186.8,352.5 187.4,351.2 188.0,352.9 188.6,351.8 189.2,352.3 189.8,352.1 190.4,351.0 191.0,352.1 191.6,351.7 192.2,350.5 192.8,351.5 193.4,352.7 194.0,352.6 194.6,352.2 195.2,351.8 195.7,351.9 196.3,353.4 196.9,353.1 197.5,353.3 198.1,352.4 198.7,352.2 199.3,352.6 199.9,352.1 200.5,352.6 201.1,352.4 201.7,351.4 202.3,351.9 202.9,352.8 203.5,352.6 204.1,351.6 204.7,352.4 205.3,352.9 205.8,352.1 206.4,353.3 207.0,352.3 207.6,352.8 208.2,352.3 208.8,351.0 209.4,352.5 210.0,353.4 210.6,354.0 211.2,352.7 211.8,353.1 212.4,353.9 213.0,353.4 213.6,353.0 214.2,353.8 214.8,353.1 215.4,352.6 216.0,353.4 216.5,352.0 217.1,353.4 217.7,353.5 218.3,351.9 218.9,352.9 219.5,353.0 220.1,353.1 220.7,352.0 221.3,349.6 221.9,330.0 222.5,299.0 223.1,242.9 223.7,218.5 224.3,216.3 224.9,214.1 225.5,212.0 226.1,212.0 226.6,211.1 227.2,212.5 227.8,211.4 228.4,212.1 229.0,211.4 229.6,213.0 230.2,212.7 230.8,212.8 231.4,214.0 232.0,214.7 232.6,215.8 233.2,218.1 233.8,217.8 234.4,218.6 235.0,218.4 235.6,219.8 236.2,221.6 236.7,221.4 237.3,222.8 237.9,225.3 238.5,224.3 239.1,226.0 239.7,225.5 240.3,228.0 240.9,231.5 241.5,231.5 242.1,234.5 242.7,237.5 243.3,239.8 243.9,242.7 244.5,247.5 245.1,254.7 245.7,266.2 246.3,280.3 246.8,291.7 247.4,296.4 248.0,302.3 248.6,303.1 249.2,304.8 249.8,306.4 250.4,305.3 251.0,305.9 251.6,304.2 252.2,304.6 252.8,303.1 253.4,301.5 254.0,300.2 254.6,299.3 255.2,298.3 255.8,297.7 256.4,298.0 256.9,297.1 257.5,296.8 258.1,295.7 258.7,296.5 259.3,295.3 259.9,293.3 260.5,294.0 261.1,294.5 261.7,293.4 262.3,293.7 262.9,293.9 263.5,294.1 264.1,294.5 264.7,293.8 265.3,293.7 265.9,293.8 266.5,292.8 267.0,293.9 267.6,293.8 268.2,293.2 268.8,293.5 269.4,295.6 270.0,294.2 270.6,294.8 271.2,294.6 271.8,293.4 272.4,293.0 273.0,294.0 273.6,296.1 274.2,295.1 274.8,295.3 275.4,295.9 276.0,295.0 276.6,296.4 277.1,296.9 277.7,298.0 278.3,298.1 278.9,299.5 279.5,301.0 280.1,300.6 280.7,301.7 281.3,302.8 281.9,303.6 282.5,303.1 283.1,303.4 283.7,302.4 284.3,304.6 284.9,305.1 285.5,305.1 286.1,304.9 286.7,306.7 287.2,306.4 287.8,305.6 288.4,305.7 289.0,307.6 289.6,308.5 290.2,307.4 290.8,307.5 291.4,306.6 292.0,306.6 292.6,307.1 293.2,307.5 293.8,306.5 294.4,307.2 295.0,307.0 295.6,306.2 296.2,304.6 296.8,304.5 297.4,304.5 297.9,306.5 298.5,304.8 299.1,305.6 299.7,304.6 300.3,304.2 300.9,304.3 301.5,305.3 302.1,305.5 302.7,304.4 303.3,304.1 303.9,305.7 304.5,305.9 305.1,305.6 305.7,306.0 306.3,305.1 306.9,305.2 307.5,305.5 308.0,306.6 308.6,306.9 309.2,306.6 309.8,306.4 310.4,305.9 311.0,306.3 311.6,307.0 312.2,306.5 312.8,306.4 313.4,307.1 314.0,307.8 314.6,306.8 315.2,306.5 315.8,306.7 316.4,307.9 317.0,306.8 317.6,307.0 318.1,307.1 318.7,307.0 319.3,307.2 319.9,307.3 320.5,306.5 321.1,306.7 321.7,306.5 322.3,307.4 322.9,306.3 323.5,305.2 324.1,306.9 324.7,306.0 325.3,305.8 325.9,305.4 326.5,304.9 327.1,305.6 327.7,304.4 328.2,304.5 328.8,305.1 329.4,304.5 330.0,304.1 330.6,304.1 331.2,305.4 331.8,304.8 332.4,305.6 333.0,306.3 333.6,304.2 334.2,305.3 334.8,305.7 335.4,306.7 336.0,306.5 336.6,307.2 337.2,305.8 337.8,307.7 338.3,307.5 338.9,307.1 339.5,308.0 340.1,307.5 340.7,308.2 341.3,308.6 341.9,308.7 342.5,310.2 343.1,308.3 343.7,308.6 344.3,308.8 344.9,308.9 345.5,309.7 346.1,308.9 346.7,309.4 347.3,309.0 347.9,309.3 348.4,308.5 349.0,307.3 349.6,307.5 350.2,308.4 350.8,308.2 351.4,306.8 352.0,307.7 352.6,306.9 353.2,306.4 353.8,306.9 354.4,308.4 355.0,309.3 355.6,306.7 356.2,308.8 356.8,308.8 357.4,308.2 358.0,308.1 358.5,307.4 359.1,308.2 359.7,308.3 360.3,307.0 360.9,308.2 361.5,305.6 362.1,308.4 362.7,307.4 363.3,306.7 363.9,307.6 364.5,309.0 365.1,308.1 365.7,307.5 366.3,309.1 366.9,310.0 367.5,309.3 368.1,311.0 368.6,309.5 369.2,309.6 369.8,310.2 370.4,311.2 371.0,309.7 371.6,309.6 372.2,309.7 372.8,310.7 373.4,309.9 374.0,310.6 374.6,309.2 375.2,310.2 375.8,310.6 376.4,309.8 377.0,309.1 377.6,309.5 378.2,309.4 378.8,309.9 379.3,309.0 379.9,309.0 380.5,308.8 381.1,308.9 381.7,308.7 382.3,309.1 382.9,307.1 383.5,309.4 384.1,308.0 384.7,307.3 385.3,309.3 385.9,309.2 386.5,307.6 387.1,306.4 387.7,307.6 388.3,308.9 388.9,309.2 389.4,309.5 390.0,310.2 390.6,310.0 391.2,309.2 391.8,310.3 392.4,309.9 393.0,309.8 393.6,310.9 394.2,310.9 394.8,310.6 395.4,311.5 396.0,311.0 396.6,310.8 397.2,311.4 397.8,312.8 398.4,311.6 399.0,312.0 399.5,312.0 400.1,312.8 400.7,311.9 401.3,312.0 401.9,312.2 402.5,312.2 403.1,311.7 403.7,312.7 404.3,311.0 404.9,311.4 405.5,310.1 406.1,312.0 406.7,310.9 407.3,310.2 407.9,310.1 408.5,310.5 409.1,309.5 409.6,310.5 410.2,309.7 410.8,310.1 411.4,310.2 412.0,310.5 412.6,310.4 413.2,310.3 413.8,309.7 414.4,310.3 415.0,310.6 415.6,309.5 416.2,309.8 416.8,309.6 417.4,310.1 418.0,309.1 418.6,309.9 419.2,310.4 419.7,310.4 420.3,310.3 420.9,311.1 421.5,310.9 422.1,311.7 422.7,310.8 423.3,312.2 423.9,314.6 424.5,312.1 425.1,313.0 425.7,313.1 426.3,312.7 426.9,315.2 427.5,314.6 428.1,313.6 428.7,314.4 429.3,313.1 429.8,313.2 430.4,313.8 431.0,312.9 431.6,314.8 432.2,313.5 432.8,312.7 433.4,312.3 434.0,312.7 434.6,311.9 435.2,312.4 435.8,312.6 436.4,312.1 437.0,310.4 437.6,310.4 438.2,311.5 438.8,311.3 439.4,311.2 439.9,312.5 440.5,311.8 441.1,311.3 441.7,311.9 442.3,311.5 442.9,312.3 443.5,311.5 444.1,310.8 444.7,311.4 445.3,311.0 445.9,311.7 446.5,312.2 447.1,311.6 447.7,313.0 448.3,312.4 448.9,312.2 449.5,312.5 450.0,312.0 450.6,313.0 451.2,312.0 451.8,312.3 452.4,313.1 453.0,313.9 453.6,314.5 454.2,313.5 454.8,314.4 455.4,312.6 456.0,314.1 456.6,313.9 457.2,315.6 457.8,315.1 458.4,315.5 459.0,316.9 459.6,315.1 460.2,315.5 460.7,315.4 461.3,314.8 461.9,314.2 462.5,314.4 463.1,313.5 463.7,315.0 464.3,313.8 464.9,314.8 465.5,314.3 466.1,313.3 466.7,313.7 467.3,313.9 467.9,313.9 468.5,313.6 469.1,313.3 469.7,313.8 470.3,314.5 470.8,313.7 471.4,314.3 472.0,314.1 472.6,314.1 473.2,313.5 473.8,314.0 474.4,314.3 475.0,315.0 475.6,314.9 476.2,313.8 476.8,314.6 477.4,313.6 478.0,314.3 478.6,314.4 479.2,314.8 479.8,313.3 480.4,314.6 480.9,315.1 481.5,315.3 482.1,317.6 482.7,316.8 483.3,315.5 483.9,315.6 484.5,317.1 485.1,318.1 485.7,317.5 486.3,316.3 486.9,316.7 487.5,315.8 488.1,316.6 488.7,316.1 489.3,315.9 489.9,316.2 490.5,316.3 491.0,316.3 491.6,315.9 492.2,315.6 492.8,314.8 493.4,315.3 494.0,315.6 494.6,315.9 495.2,315.6 495.8,314.7 496.4,314.9 497.0,314.0 497.6,315.0 498.2,315.2 498.8,313.9 499.4,314.2 500.0,314.1 500.6,315.8 501.1,315.1 501.7,315.0 502.3,315.1 502.9,316.9 503.5,315.4 504.1,315.6 504.7,315.0 505.3,316.0 505.9,315.9 506.5,316.2 507.1,316.9 507.7,315.8 508.3,314.9 508.9,316.9 509.5,315.2 510.1,315.2 510.7,317.3 511.2,317.3 511.8,317.0 512.4,317.2 513.0,317.1 513.6,317.4 514.2,317.0 514.8,316.5 515.4,316.3 516.0,317.0 516.6,317.6 517.2,316.7 517.8,316.7 518.4,317.8 519.0,317.1 519.6,318.2 520.2,318.1 520.8,317.6 521.3,317.9 521.9,317.0 522.5,317.8 523.1,317.5 523.7,316.8 524.3,318.6 524.9,317.0 525.5,316.5 526.1,317.4 526.7,316.5 527.3,318.0 527.9,317.9 528.5,318.3 529.1,316.4 529.7,318.2 530.3,317.3 530.9,318.9 531.4,317.1 532.0,318.8 532.6,318.3 533.2,319.7 533.8,318.8 534.4,317.3 535.0,319.0 535.6,317.1 536.2,316.8 536.8,318.7 537.4,319.8 538.0,319.4 538.6,319.3 539.2,321.2 539.8,320.5 540.4,320.2 541.0,320.3 541.6,322.1 542.1,320.9 542.7,320.9 543.3,320.2 543.9,320.7 544.5,320.2 545.1,320.5 545.7,321.4 546.3,318.8 546.9,320.1 547.5,320.3 548.1,320.5 548.7,319.0 549.3,319.8 549.9,319.2 550.5,319.1 551.1,319.1 551.7,319.9 552.2,318.9 552.8,317.0 553.4,317.9 554.0,318.4 554.6,318.5 555.2,318.4 555.8,318.1 556.4,317.9 557.0,316.8 557.6,317.7 558.2,316.9 558.8,319.4 559.4,318.5 560.0,319.9 560.6,320.3 561.2,318.7 561.8,320.3 562.3,319.2 562.9,320.0 563.5,318.7 564.1,318.7 564.7,320.7 565.3,319.1 565.9,319.7 566.5,319.4 567.1,320.2 567.7,319.0 568.3,319.2 568.9,320.1 569.5,321.3 570.1,321.9 570.7,319.6 571.3,320.3 571.9,321.5 572.4,321.1 573.0,318.6 573.6,321.2 574.2,320.1 574.8,319.3 575.4,318.5 576.0,319.7 576.6,319.4 577.2,320.4 577.8,318.9 578.4,319.1 579.0,319.6 579.6,319.5 580.2,317.6 580.8,317.6 581.4,316.4 582.0,318.5 582.5,319.7 583.1,316.8 583.7,317.9 584.3,317.1 584.9,318.9 585.5,318.8 586.1,317.5 586.7,319.3 587.3,319.0 587.9,319.1 588.5,318.7 589.1,318.9 589.7,320.5 590.3,319.6 590.9,320.8 591.5,321.2 592.1,321.4 592.6,321.2 593.2,322.3 593.8,322.2 594.4,323.4 595.0,324.0 595.6,323.9 596.2,323.0 596.8,323.1 597.4,322.9 598.0,323.9 598.6,323.3 599.2,322.5 599.8,321.7 600.4,321.6 601.0,322.0 601.6,322.0 602.2,322.3 602.7,321.3 603.3,319.9 603.9,320.8 604.5,320.9 605.1,320.2 605.7,318.3 606.3,320.5 606.9,320.8 607.5,321.3 608.1,321.4 608.7,319.6 609.3,319.6 609.9,320.2 610.5,319.4 611.1,319.3 611.7,320.2 612.3,319.5 612.8,319.1 613.4,320.7 614.0,319.8 614.6,319.6 615.2,320.9 615.8,317.9 616.4,318.8 617.0,318.2 617.6,320.6 618.2,319.6 618.8,318.8 619.4,320.1 620.0,318.4 620.6,320.9 621.2,320.4 621.8,320.9 622.4,322.1 622.9,321.3 623.5,321.4 624.1,322.4 624.7,322.1 625.3,321.2 625.9,321.4 626.5,321.7 627.1,321.6 627.7,321.2 628.3,322.2 628.9,322.6 629.5,322.0 630.1,322.0 630.7,322.5 631.3,321.9 631.9,321.9 632.5,321.3 633.1,322.8 633.6,321.2 634.2,322.2 634.8,323.0 635.4,321.1 636.0,321.4 636.6,321.6 637.2,322.3 637.8,320.7 638.4,321.9 639.0,321.7 639.6,320.9 640.2,320.0 640.8,320.5 641.4,320.4 642.0,321.0 642.6,319.7 643.2,320.5 643.7,319.9 644.3,318.3 644.9,320.2 645.5,321.2 646.1,321.6 646.7,321.4 647.3,321.5 647.9,320.8 648.5,320.1 649.1,321.1 649.7,321.5 650.3,320.9 650.9,322.1 651.5,321.7 652.1,321.0 652.7,321.0 653.3,322.3 653.8,322.4 654.4,322.7 655.0,322.3 655.6,321.6 656.2,322.9 656.8,324.0 657.4,322.5 658.0,322.7 658.6,322.7 659.2,323.0 659.8,323.9 660.4,324.3 661.0,323.1 661.6,323.5 662.2,323.0 662.8,322.0 663.4,324.0 663.9,323.8 664.5,323.6 665.1,323.1 665.7,322.8 666.3,322.8 666.9,324.0 667.5,323.1 668.1,324.6 668.7,324.2 669.3,323.8 669.9,324.3 670.5,325.3 671.1,324.9 671.7,324.2 672.3,323.7 672.9,324.9 673.5,324.5 674.0,323.9 674.6,322.6 675.2,323.0 675.8,323.2 676.4,324.0 677.0,324.0 677.6,322.7 678.2,323.7 678.8,322.3 679.4,323.7 680.0,323.0 680.6,322.7 681.2,323.0 681.8,323.6 682.4,322.2 683.0,323.9 683.6,323.7 684.1,324.4 684.7,323.6 685.3,323.6 685.9,323.7 686.5,324.3 687.1,323.8 687.7,325.1 688.3,325.6 688.9,325.6 689.5,328.9 690.1,332.0 690.7,336.1 691.3,343.3 691.9,350.5 692.5,358.0 693.1,364.4 693.7,371.1 694.2,376.0 694.8,380.7 695.4,383.2 696.0,387.0 696.6,388.1 697.2,389.1 697.8,387.5 698.4,388.0 699.0,385.9 699.6,383.0 700.2,383.4 700.8,379.5 701.4,377.4 702.0,372.2 702.6,370.2 703.2,368.1 703.8,365.9 704.3,363.6 704.9,362.0 705.5,360.8 706.1,359.0 706.7,358.5 707.3,356.8 707.9,358.7 708.5,357.9 709.1,357.2 709.7,357.3 710.3,358.6 710.9,357.8 711.5,358.7 712.1,359.1 712.7,361.6 713.3,361.9 713.9,364.2 714.5,365.4 715.0,366.6 715.6,368.9 716.2,370.1 716.8,370.0 717.4,373.2 718.0,373.4 718.6,374.1 719.2,375.3 719.8,377.7 720.4,379.4 721.0,378.8 721.6,380.9 722.2,381.4 722.8,382.7 723.4,383.9 724.0,383.8 724.6,383.8 725.1,384.9 725.7,382.4 726.3,383.1 726.9,381.1 727.5,380.6 728.1,380.9 728.7,379.6 729.3,378.9 729.9,377.7 730.5,376.7 731.1,375.6 731.7,374.5 732.3,373.7 732.9,373.2 733.5,372.9 734.1,370.8 734.7,370.4 735.2,369.3 735.8,370.0 736.4,369.4 737.0,370.4 737.6,369.7 738.2,370.4 738.8,370.3 739.4,369.2 740.0,370.9 740.6,372.0 741.2,372.2 741.8,372.9 742.4,373.5 743.0,374.0 743.6,374.7 744.2,375.4 744.8,375.5 745.3,376.4 745.9,376.8 746.5,378.5 747.1,379.3 747.7,378.6 748.3,381.8 748.9,381.0 749.5,380.9 750.1,380.9 750.7,381.8 751.3,381.5 751.9,382.2 752.5,381.4 753.1,382.2 753.7,380.1 754.3,380.5 754.9,380.9 755.4,378.9 756.0,379.5 756.6,379.9 757.2,378.5 757.8,378.8 758.4,379.4 759.0,377.5 759.6,376.1 760.2,378.0 760.8,376.7 761.4,375.6 762.0,375.6 762.6,374.9 763.2,375.5 763.8,374.1 764.4,374.8 765.0,374.6 765.5,374.1 766.1,374.5 766.7,374.4 767.3,374.6 767.9,375.0 768.5,375.1 769.1,375.9 769.7,374.9 770.3,375.5 770.9,377.6 771.5,376.9 772.1,377.1 772.7,378.2 773.3,377.7 773.9,378.8 774.5,378.7 775.1,379.7 775.6,379.2 776.2,379.5 776.8,378.4 777.4,379.2 778.0,380.5 778.6,380.9 779.2,381.1 779.8,381.2 780.4,383.0 781.0,381.7 781.6,381.2 782.2,381.6 782.8,382.4 783.4,382.5 784.0,382.5 784.6,379.8 785.2,380.2 785.7,379.5 786.3,380.4 786.9,380.4 787.5,380.8 788.1,379.2 788.7,380.2 789.3,379.6 789.9,378.1 790.5,377.8 791.1,379.0 791.7,378.1 792.3,378.5 792.9,378.2 793.5,379.3 794.1,378.1 794.7,378.0 795.3,377.8 795.9,377.7 796.4,377.7 797.0,377.4 797.6,378.2 798.2,377.4 798.8,378.3 799.4,377.6 800.0,378.1 800.6,378.3 801.2,378.3 801.8,378.4 802.4,377.5 803.0,378.7 803.6,377.9 804.2,377.8 804.8,376.7 805.4,377.5 806.0,378.9 806.5,379.0 807.1,378.1 807.7,377.8 808.3,378.5 808.9,377.3 809.5,379.3 810.1,379.3 810.7,378.3 811.3,377.3 811.9,377.1 812.5,377.6 813.1,376.6 813.7,377.2 814.3,377.5 814.9,376.3 815.5,377.1 816.1,377.8 816.6,376.9 817.2,377.8 817.8,376.3 818.4,377.2 819.0,378.3 819.6,376.2 820.2,376.8 820.8,377.5 821.4,377.1 822.0,376.9 822.6,377.5 823.2,377.4 823.8,376.9 824.4,378.1 825.0,377.9 825.6,376.7 826.2,378.3 826.7,378.7 827.3,378.3 827.9,377.8 828.5,379.2 829.1,378.9 829.7,379.3 830.3,377.8 830.9,378.3 831.5,379.0 832.1,378.5 832.7,380.2 833.3,379.7 833.9,378.9 834.5,378.1 835.1,379.9 835.7,378.4 836.3,378.6 836.8,378.3 837.4,377.7 838.0,378.3 838.6,376.2 839.2,377.4 839.8,376.5 840.4,377.3 841.0,376.8 841.6,377.4 842.2,375.0 842.8,374.1 843.4,375.9 844.0,375.7 844.6,374.5 845.2,376.4 845.8,375.9 846.4,376.7 846.9,375.7 847.5,376.2 848.1,375.9 848.7,376.1 849.3,377.8 849.9,377.6 850.5,377.2 851.1,377.2 851.7,377.8 852.3,377.5 852.9,377.5 853.5,378.5 854.1,378.4 854.7,378.8 855.3,379.4 855.9,378.0 856.5,377.4 857.0,378.8 857.6,377.5 858.2,377.5 858.8,378.9 859.4,378.6 860.0,378.6 860.6,377.4 861.2,376.9 861.8,378.0 862.4,378.5 863.0,377.2 863.6,376.3 864.2,376.8 864.8,376.9 865.4,378.0 866.0,376.4 866.6,377.1 867.1,376.8 867.7,376.8 868.3,377.2 868.9,377.6 869.5,376.9 870.1,376.6 870.7,375.8 871.3,377.2 871.9,377.8 872.5,375.7 873.1,376.3 873.7,377.6 874.3,377.3 874.9,377.1 875.5,376.2 876.1,377.2 876.7,376.2 877.3,377.2 877.8,377.9 878.4,377.4 879.0,378.8 879.6,378.1 880.2,377.4 880.8,378.4 881.4,378.1 882.0,378.7 882.6,377.8 883.2,378.9 883.8,377.8 884.4,377.0 885.0,377.7 885.6,376.7 886.2,376.9 886.8,376.7 887.4,377.6 887.9,377.2 888.5,377.8 889.1,377.6 889.7,377.4 890.3,376.7 890.9,375.9 891.5,377.8 892.1,375.7 892.7,378.2 893.3,377.8 893.9,375.0 894.5,375.2 895.1,375.7 895.7,375.5 896.3,375.6 896.9,377.0 897.5,375.0 898.0,375.8 898.6,376.9 899.2,375.1 899.8,375.0 900.4,374.5 901.0,374.7 901.6,375.6 902.2,374.9 902.8,375.3 903.4,375.1 904.0,373.9 904.6,375.5 905.2,377.1 905.8,375.8 906.4,376.7 907.0,376.5 907.6,375.1 908.1,376.0 908.7,377.1 909.3,376.9 909.9,376.4 910.5,377.1 911.1,376.3 911.7,378.3 912.3,377.6 912.9,377.7 913.5,378.5 914.1,377.6 914.7,377.2 915.3,376.7 915.9,378.7 916.5,377.0 917.1,376.4 917.7,375.8 918.2,376.2 918.8,376.2 919.4,376.6 920.0,375.1 920.6,376.2 921.2,375.1 921.8,376.1 922.4,376.0 923.0,376.8 923.6,377.1 924.2,376.0 924.8,376.2 925.4,375.1 926.0,376.9 926.6,376.7 927.2,375.0 927.8,376.2 928.3,376.3 928.9,376.9 929.5,376.0 930.1,374.9 930.7,374.6 931.3,376.6 931.9,375.1 932.5,376.0 933.1,376.0 933.7,375.2 934.3,375.8 934.9,375.6 935.5,375.5 936.1,375.6 936.7,375.9 937.3,375.6 937.9,376.6 938.4,376.9 939.0,376.9 939.6,376.2 940.2,376.6 940.8,375.8 941.4,375.8 942.0,374.4 942.6,375.9 943.2,374.1 943.8,374.3 944.4,373.0 945.0,374.8 945.6,373.9 946.2,374.6 946.8,374.4 947.4,373.9 948.0,373.4 948.5,373.0 949.1,374.3 949.7,374.5 950.3,373.9 950.9,373.2 951.5,373.5 952.1,373.5 952.7,373.3 953.3,373.9 953.9,373.5 954.5,372.4 955.1,373.4 955.7,374.2 956.3,374.0 956.9,373.9 957.5,373.6 958.1,373.4 958.7,374.9 959.2,374.4 959.8,374.3 960.4,374.8 961.0,375.6 961.6,375.3 962.2,373.8 962.8,375.6 963.4,373.7 964.0,374.9 964.6,375.0 965.2,373.8 965.8,373.9 966.4,376.1 967.0,374.7 967.6,375.0 968.2,376.0 968.8,375.8 969.3,376.3 969.9,374.6 970.5,374.0 971.1,376.8 971.7,376.3 972.3,375.8 972.9,376.3 973.5,374.8 974.1,375.2 974.7,375.4 975.3,376.3 975.9,376.1 976.5,374.9 977.1,376.1 977.7,374.0 978.3,374.8 978.9,373.6 979.4,373.9 980.0,373.5 980.6,373.4 981.2,374.0 981.8,373.7 982.4,373.4 983.0,372.9 983.6,372.3 984.2,372.8 984.8,371.6 985.4,372.8 986.0,373.3 986.6,373.0 987.2,373.0 987.8,371.7 988.4,372.2 989.0,372.7 989.5,373.2 990.1,373.2 990.7,374.5 991.3,372.2 991.9,373.8" marker-start="url(#r1)" marker-mid="url(#r1)" marker-end="url(#r1)"/>
<polyline points="144.1,350.0 144.7,352.2 145.2,350.5 145.8,351.0 146.4,349.9 147.0,349.6 147.6,350.1 148.2,350.6 148.8,349.8 149.4,349.4 150.0,349.1 150.6,349.0 151.2,349.8 151.8,349.3 152.4,349.3 153.0,348.5 153.6,350.3 154.2,350.3 154.8,348.5 155.3,348.5 155.9,348.9 156.5,349.6 157.1,348.9 157.7,349.7 158.3,350.3 158.9,349.5 159.5,350.9 160.1,350.0 160.7,350.5 161.3,350.3 161.9,349.2 162.5,351.5 163.1,350.3 163.7,349.7 164.3,350.0 164.9,350.3 165.4,351.2 166.0,349.6 166.6,350.8 167.2,349.1 167.8,350.5 168.4,349.8 169.0,349.9 169.6,350.8 170.2,350.5 170.8,349.7 171.4,350.8 172.0,349.9 172.6,350.6 173.2,350.0 173.8,350.3 174.4,350.1 175.0,349.3 175.5,350.7 176.1,350.7 176.7,351.2 177.3,347.8 177.9,350.1 178.5,348.9 179.1,349.9 179.7,350.0 180.3,350.3 180.9,348.3 181.5,350.4 182.1,350.6 182.7,349.6 183.3,349.6 183.9,349.8 184.5,350.7 185.1,349.9 185.6,349.4 186.2,350.4 186.8,348.7 187.4,350.1 188.0,349.3 188.6,349.4 189.2,349.7 189.8,348.7 190.4,350.4 191.0,349.6 191.6,350.4 192.2,349.4 192.8,351.1 193.4,349.5 194.0,350.5 194.6,349.5 195.2,350.5 195.7,349.2 196.3,350.5 196.9,350.6 197.5,350.9 198.1,350.8 198.7,351.6 199.3,350.5 199.9,351.9 200.5,350.8 201.1,351.2 201.7,351.1 202.3,351.5 202.9,351.2 203.5,351.1 204.1,350.9 204.7,350.0 205.3,351.3 205.8,350.6 206.4,350.6 207.0,350.7 207.6,351.4 208.2,349.9 208.8,352.3 209.4,351.7 210.0,351.1 210.6,351.8 211.2,351.1 211.8,350.7 212.4,351.1 213.0,351.2 213.6,350.6 214.2,351.1 214.8,351.2 215.4,352.0 216.0,350.3 216.5,349.5 217.1,351.3 217.7,351.1 218.3,349.7 218.9,351.5 219.5,351.4 220.1,350.4 220.7,350.7 221.3,347.6 221.9,332.3 222.5,303.1 223.1,255.8 223.7,234.0 224.3,231.8 224.9,231.6 225.5,229.7 226.1,230.2 226.6,230.6 227.2,230.2 227.8,230.9 228.4,230.2 229.0,230.7 229.6,229.6 230.2,231.6 230.8,230.6 231.4,231.6 232.0,233.9 232.6,233.6 233.2,234.5 233.8,235.6 234.4,236.2 235.0,235.6 235.6,238.0 236.2,239.8 236.7,240.6 237.3,241.4 237.9,240.5 238.5,243.3 239.1,242.8 239.7,245.8 240.3,246.1 240.9,247.3 241.5,248.9 242.1,250.4 242.7,252.5 243.3,255.4 243.9,259.1 244.5,261.8 245.1,268.2 245.7,278.9 246.3,292.4 246.8,300.2 247.4,306.9 248.0,312.4 248.6,312.8 249.2,315.0 249.8,315.3 250.4,314.5 251.0,313.1 251.6,310.6 252.2,311.1 252.8,309.4 253.4,308.5 254.0,308.1 254.6,308.1 255.2,306.2 255.8,306.9 256.4,304.4 256.9,304.8 257.5,302.9 258.1,301.6 258.7,302.1 259.3,300.6 259.9,299.7 260.5,301.0 261.1,301.5 261.7,300.3 262.3,299.6 262.9,300.5 263.5,299.8 264.1,299.7 264.7,299.3 265.3,299.0 265.9,299.6 266.5,300.5 267.0,300.2 267.6,301.2 268.2,299.7 268.8,298.8 269.4,301.3 270.0,300.2 270.6,300.3 271.2,299.0 271.8,299.9 272.4,302.0 273.0,301.5 273.6,302.2 274.2,304.5 274.8,303.7 275.4,304.7 276.0,304.0 276.6,306.0 277.1,306.2 277.7,306.2 278.3,307.2 278.9,309.4 279.5,309.2 280.1,309.4 280.7,309.8 281.3,310.7 281.9,310.3 282.5,311.8 283.1,311.9 283.7,311.0 284.3,312.5 284.9,313.6 285.5,311.9 286.1,314.1 286.7,313.9 287.2,313.5 287.8,313.3 288.4,313.6 289.0,313.6 289.6,313.9 290.2,314.2 290.8,314.6 291.4,314.9 292.0,315.0 292.6,313.0 293.2,313.9 293.8,314.2 294.4,313.4 295.0,313.7 295.6,313.5 296.2,313.6 296.8,313.2 297.4,313.4 297.9,314.3 298.5,313.2 299.1,312.9 299.7,313.3 300.3,313.6 300.9,313.3 301.5,313.6 302.1,314.4 302.7,313.8 303.3,314.4 303.9,314.9 304.5,313.8 305.1,313.9 305.7,313.5 306.3,314.3 306.9,313.7 307.5,313.9 308.0,313.6 308.6,314.5 309.2,313.4 309.8,314.6 310.4,315.6 311.0,314.4 311.6,315.5 312.2,313.9 312.8,315.5 313.4,314.7 314.0,315.9 314.6,314.5 315.2,313.7 315.8,314.9 316.4,313.7 317.0,314.5 317.6,315.0 318.1,314.2 318.7,314.4 319.3,313.3 319.9,313.2 320.5,312.3 321.1,313.9 321.7,313.4 322.3,313.7 322.9,313.9 323.5,313.6 324.1,313.2 324.7,313.2 325.3,313.1 325.9,314.3 326.5,314.3 327.1,314.6 327.7,316.8 328.2,314.5 328.8,314.5 329.4,314.9 330.0,314.3 330.6,313.7 331.2,315.2 331.8,314.1 332.4,314.9 333.0,314.7 333.6,314.9 334.2,315.1 334.8,314.1 335.4,315.4 336.0,315.7 336.6,316.5 337.2,314.7 337.8,315.6 338.3,316.0 338.9,316.7 339.5,316.3 340.1,315.0 340.7,316.8 341.3,316.9 341.9,315.3 342.5,317.1 343.1,316.0 343.7,315.2 344.3,317.5 344.9,317.4 345.5,315.8 346.1,315.8 346.7,315.3 347.3,316.5 347.9,316.5 348.4,317.4 349.0,316.6 349.6,316.3 350.2,315.9 350.8,316.5 351.4,315.8 352.0,314.7 352.6,314.1 353.2,314.5 353.8,314.1 354.4,313.5 355.0,315.7 355.6,312.9 356.2,314.1 356.8,315.2 357.4,313.8 358.0,313.5 358.5,314.5 359.1,313.3 359.7,313.6 360.3,312.7 360.9,314.5 361.5,314.6 362.1,315.0 362.7,315.6 363.3,314.7 363.9,313.6 364.5,315.7 365.1,316.0 365.7,315.5 366.3,316.3 366.9,315.6 367.5,316.3 368.1,316.7 368.6,316.9 369.2,316.7 369.8,315.9 370.4,318.5 371.0,316.0 371.6,317.2 372.2,316.5 372.8,317.0 373.4,317.2 374.0,318.2 374.6,318.2 375.2,316.9 375.8,317.0 376.4,315.8 377.0,319.3 377.6,317.3 378.2,318.6 378.8,315.2 379.3,317.0 379.9,317.4 380.5,315.9 381.1,315.8 381.7,317.1 382.3,316.7 382.9,316.3 383.5,315.0 384.1,316.6 384.7,316.0 385.3,315.1 385.9,315.6 386.5,315.9 387.1,315.4 387.7,314.5 388.3,315.5 388.9,314.8 389.4,316.3 390.0,316.0 390.6,316.4 391.2,315.5 391.8,317.2 392.4,317.9 393.0,316.6 393.6,316.4 394.2,315.8 394.8,318.6 395.4,318.5 396.0,316.7 396.6,317.2 397.2,318.0 397.8,317.4 398.4,316.8 399.0,317.2 399.5,318.8 400.1,317.6 400.7,317.5 401.3,316.9 401.9,316.8 402.5,317.6 403.1,317.3 403.7,318.0 404.3,318.3 404.9,317.4 405.5,318.4 406.1,318.7 406.7,318.1 407.3,316.6 407.9,316.8 408.5,316.8 409.1,315.5 409.6,316.3 410.2,316.7 410.8,315.7 411.4,316.6 412.0,317.8 412.6,317.2 413.2,317.3 413.8,316.9 414.4,317.3 415.0,317.1 415.6,317.6 416.2,318.0 416.8,318.2 417.4,318.2 418.0,318.5 418.6,319.3 419.2,319.0 419.7,318.1 420.3,319.4 420.9,317.7 421.5,318.6 422.1,319.1 422.7,320.2 423.3,319.3 423.9,319.6 424.5,319.1 425.1,318.7 425.7,318.9 426.3,319.2 426.9,319.1 427.5,318.6 428.1,319.4 428.7,319.5 429.3,320.3 429.8,319.9 430.4,319.7 431.0,321.3 431.6,318.9 432.2,320.4 432.8,319.8 433.4,321.9 434.0,320.2 434.6,321.1 435.2,320.3 435.8,320.9 436.4,320.7 437.0,321.0 437.6,318.7 438.2,319.9 438.8,320.0 439.4,320.1 439.9,319.0 440.5,317.6 441.1,318.7 441.7,319.1 442.3,318.5 442.9,318.9 443.5,318.6 444.1,319.0 444.7,317.5 445.3,317.1 445.9,319.0 446.5,319.5 447.1,318.8 447.7,319.0 448.3,318.6 448.9,319.8 449.5,319.8 450.0,319.8 450.6,320.1 451.2,319.8 451.8,319.9 452.4,320.0 453.0,321.6 453.6,320.1 454.2,320.3 454.8,321.8 455.4,320.4 456.0,321.0 456.6,320.5 457.2,321.2 457.8,319.9 458.4,319.9 459.0,319.7 459.6,320.1 460.2,320.1 460.7,320.1 461.3,319.7 461.9,320.5 462.5,320.0 463.1,321.4 463.7,320.0 464.3,320.6 464.9,319.3 465.5,319.9 466.1,320.8 466.7,319.8 467.3,320.3 467.9,319.1 468.5,319.9 469.1,320.0 469.7,319.9 470.3,320.7 470.8,320.0 471.4,320.3 472.0,320.2 472.6,319.6 473.2,321.4 473.8,320.8 474.4,319.8 475.0,321.2 475.6,321.5 476.2,321.2 476.8,320.6 477.4,321.5 478.0,320.7 478.6,322.3 479.2,320.6 479.8,321.8 480.4,321.1 480.9,320.8 481.5,322.0 482.1,320.1 482.7,321.3 483.3,321.8 483.9,320.4 484.5,321.1 485.1,320.1 485.7,321.7 486.3,322.7 486.9,321.6 487.5,323.2 488.1,321.4 488.7,322.0 489.3,323.7 489.9,322.1 490.5,322.6 491.0,323.2 491.6,322.5 492.2,322.4 492.8,321.6 493.4,322.2 494.0,320.6 494.6,319.8 495.2,320.8 495.8,321.7 496.4,321.0 497.0,320.8 497.6,321.3 498.2,320.9 498.8,319.7 499.4,321.2 500.0,320.1 500.6,320.9 501.1,321.6 501.7,321.2 502.3,320.6 502.9,321.4 503.5,321.9 504.1,321.8 504.7,322.5 505.3,321.8 505.9,321.3 506.5,321.3 507.1,320.8 507.7,321.6 508.3,323.7 508.9,321.8 509.5,323.1 510.1,322.4 510.7,322.7 511.2,321.9 511.8,322.3 512.4,322.7 513.0,322.4 513.6,323.6 514.2,323.3 514.8,322.3 515.4,321.5 516.0,323.2 516.6,322.0 517.2,323.1 517.8,322.1 518.4,323.8 519.0,322.8 519.6,322.1 520.2,323.8 520.8,323.0 521.3,323.7 521.9,323.2 522.5,322.8 523.1,323.2 523.7,323.4 524.3,322.8 524.9,323.4 525.5,323.1 526.1,323.4 526.7,322.7 527.3,323.4 527.9,323.5 528.5,323.6 529.1,323.8 529.7,322.8 530.3,322.4 530.9,323.3 531.4,324.1 532.0,324.3 532.6,323.6 533.2,323.6 533.8,323.3 534.4,323.3 535.0,322.9 535.6,323.9 536.2,322.0 536.8,324.2 537.4,323.9 538.0,323.9 538.6,324.5 539.2,325.6 539.8,323.6 540.4,322.1 541.0,323.9 541.6,326.1 542.1,324.9 542.7,325.1 543.3,324.1 543.9,324.9 544.5,325.0 545.1,325.3 545.7,324.4 546.3,324.9 546.9,324.3 547.5,324.2 548.1,324.4 548.7,324.4 549.3,324.6 549.9,324.4 550.5,325.2 551.1,325.8 551.7,324.4 552.2,323.7 552.8,324.4 553.4,324.6 554.0,324.0 554.6,324.7 555.2,324.6 555.8,324.2 556.4,323.9 557.0,324.0 557.6,323.1 558.2,324.3 558.8,325.1 559.4,324.8 560.0,324.6 560.6,324.3 561.2,325.0 561.8,323.8 562.3,323.9 562.9,324.9 563.5,323.6 564.1,324.7 564.7,325.4 565.3,325.3 565.9,325.6 566.5,324.6 567.1,325.9 567.7,324.7 568.3,325.4 568.9,325.8 569.5,325.4 570.1,325.9 570.7,326.1 571.3,326.6 571.9,325.1 572.4,324.0 573.0,326.4 573.6,325.6 574.2,324.4 574.8,324.3 575.4,324.6 576.0,325.8 576.6,324.9 577.2,325.8 577.8,326.5 578.4,325.5 579.0,325.3 579.6,324.3 580.2,325.5 580.8,325.4 581.4,324.2 582.0,323.7 582.5,322.6 583.1,323.2 583.7,323.5 584.3,322.9 584.9,320.8 585.5,324.1 586.1,322.8 586.7,321.6 587.3,322.8 587.9,323.8 588.5,323.8 589.1,323.1 589.7,324.5 590.3,324.0 590.9,324.4 591.5,324.3 592.1,324.4 592.6,324.6 593.2,325.2 593.8,325.0 594.4,325.7 595.0,326.4 595.6,325.9 596.2,325.5 596.8,325.3 597.4,324.7 598.0,326.2 598.6,326.7 599.2,326.8 599.8,326.0 600.4,327.5 601.0,327.2 601.6,326.0 602.2,326.0 602.7,327.2 603.3,325.7 603.9,326.0 604.5,325.5 605.1,325.1 605.7,325.8 606.3,325.6 606.9,325.2 607.5,326.1 608.1,324.9 608.7,326.3 609.3,324.4 609.9,324.7 610.5,325.5 611.1,325.0 611.7,325.4 612.3,324.7 612.8,324.1 613.4,325.0 614.0,324.6 614.6,323.9 615.2,324.7 615.8,323.9 616.4,325.0 617.0,324.7 617.6,323.9 618.2,323.6 618.8,325.3 619.4,324.6 620.0,323.7 620.6,324.5 621.2,325.5 621.8,324.8 622.4,325.6 622.9,324.6 623.5,326.2 624.1,326.6 624.7,326.0 625.3,326.4 625.9,326.6 626.5,327.5 627.1,326.6 627.7,327.5 628.3,328.4 628.9,325.7 629.5,327.7 630.1,328.6 630.7,327.7 631.3,329.1 631.9,327.7 632.5,327.6 633.1,328.1 633.6,327.9 634.2,327.7 634.8,326.9 635.4,325.8 636.0,329.6 636.6,327.3 637.2,327.6 637.8,326.1 638.4,326.9 639.0,326.5 639.6,326.9 640.2,325.6 640.8,325.7 641.4,326.0 642.0,324.7 642.6,324.5 643.2,325.5 643.7,325.9 644.3,326.3 644.9,324.3 645.5,326.4 646.1,325.6 646.7,326.4 647.3,326.4 647.9,326.5 648.5,324.9 649.1,326.2 649.7,327.2 650.3,326.7 650.9,327.1 651.5,326.4 652.1,326.6 652.7,325.2 653.3,327.1 653.8,327.4 654.4,326.6 655.0,325.6 655.6,327.3 656.2,327.8 656.8,326.4 657.4,328.7 658.0,327.7 658.6,328.0 659.2,327.2 659.8,327.3 660.4,327.7 661.0,327.8 661.6,327.4 662.2,327.6 662.8,327.7 663.4,327.3 663.9,327.3 664.5,326.4 665.1,327.5 665.7,328.9 666.3,328.6 666.9,329.9 667.5,328.9 668.1,330.4 668.7,331.5 669.3,331.8 669.9,330.6 670.5,331.3 671.1,331.0 671.7,329.6 672.3,329.5 672.9,328.4 673.5,327.8 674.0,326.5 674.6,326.6 675.2,326.6 675.8,328.0 676.4,327.2 677.0,328.3 677.6,328.1 678.2,328.3 678.8,328.9 679.4,329.6 680.0,327.8 680.6,328.5 681.2,329.3 681.8,328.7 682.4,329.2 683.0,328.6 683.6,329.4 684.1,328.8 684.7,330.7 685.3,327.6 685.9,328.3 686.5,329.0 687.1,329.2 687.7,329.7 688.3,329.6 688.9,330.5 689.5,331.6 690.1,336.0 690.7,342.0 691.3,349.8 691.9,355.9 692.5,361.2 693.1,368.2 693.7,371.3 694.2,375.1 694.8,376.2 695.4,378.1 696.0,376.2 696.6,379.6 697.2,378.4 697.8,375.7 698.4,373.0 699.0,372.7 699.6,369.6 700.2,368.0 700.8,362.8 701.4,359.8 702.0,357.3 702.6,355.2 703.2,352.4 703.8,351.1 704.3,349.4 704.9,349.1 705.5,346.5 706.1,347.4 706.7,346.6 707.3,346.5 707.9,346.0 708.5,347.2 709.1,346.5 709.7,347.5 710.3,349.5 710.9,349.3 711.5,351.6 712.1,352.7 712.7,351.8 713.3,354.2 713.9,355.0 714.5,358.1 715.0,360.1 715.6,362.0 716.2,361.9 716.8,363.9 717.4,366.6 718.0,367.0 718.6,367.8 719.2,369.0 719.8,368.1 720.4,369.7 721.0,369.8 721.6,370.8 722.2,372.6 722.8,372.3 723.4,373.0 724.0,371.8 724.6,372.2 725.1,372.8 725.7,371.1 726.3,369.9 726.9,371.7 727.5,371.5 728.1,369.2 728.7,368.2 729.3,369.0 729.9,367.7 730.5,366.7 731.1,365.0 731.7,364.6 732.3,364.9 732.9,363.9 733.5,363.3 734.1,361.8 734.7,359.9 735.2,360.1 735.8,360.6 736.4,362.3 737.0,361.1 737.6,362.9 738.2,363.5 738.8,362.8 739.4,364.4 740.0,364.4 740.6,365.2 741.2,366.7 741.8,366.8 742.4,367.1 743.0,368.1 743.6,369.5 744.2,368.3 744.8,370.3 745.3,371.1 745.9,371.5 746.5,371.1 747.1,372.0 747.7,371.3 748.3,373.9 748.9,373.3 749.5,372.8 750.1,373.0 750.7,373.6 751.3,373.1 751.9,372.5 752.5,372.2 753.1,371.6 753.7,371.4 754.3,371.6 754.9,371.7 755.4,369.2 756.0,368.8 756.6,369.5 757.2,368.5 757.8,368.5 758.4,368.3 759.0,369.3 759.6,368.7 760.2,369.0 760.8,369.8 761.4,369.6 762.0,368.5 762.6,368.6 763.2,368.3 763.8,368.6 764.4,368.5 765.0,368.4 765.5,369.3 766.1,369.1 766.7,366.9 767.3,368.3 767.9,367.7 768.5,369.0 769.1,368.8 769.7,368.1 770.3,369.1 770.9,369.2 771.5,369.3 772.1,370.3 772.7,371.5 773.3,372.0 773.9,372.3 774.5,372.8 775.1,373.6 775.6,373.3 776.2,373.3 776.8,371.9 777.4,374.1 778.0,373.7 778.6,374.2 779.2,374.4 779.8,375.3 780.4,374.2 781.0,375.0 781.6,373.8 782.2,374.3 782.8,375.3 783.4,373.6 784.0,374.9 784.6,375.1 785.2,372.2 785.7,373.1 786.3,372.6 786.9,373.4 787.5,373.2 788.1,373.3 788.7,372.8 789.3,372.7 789.9,373.2 790.5,371.0 791.1,372.5 791.7,371.1 792.3,372.4 792.9,371.5 793.5,372.2 794.1,371.8 794.7,371.5 795.3,371.8 795.9,371.4 796.4,371.5 797.0,371.8 797.6,371.1 798.2,371.0 798.8,370.3 799.4,371.0 800.0,371.7 800.6,371.3 801.2,370.9 801.8,371.1 802.4,370.5 803.0,370.0 803.6,370.9 804.2,370.9 804.8,370.8 805.4,371.4 806.0,371.1 806.5,370.5 807.1,370.5 807.7,372.0 808.3,370.9 808.9,370.9 809.5,370.5 810.1,369.5 810.7,369.5 811.3,371.1 811.9,369.5 812.5,370.8 813.1,369.8 813.7,370.2 814.3,370.5 814.9,371.0 815.5,369.8 816.1,369.9 816.6,371.4 817.2,369.4 817.8,370.4 818.4,369.9 819.0,370.8 819.6,370.2 820.2,370.2 820.8,372.2 821.4,369.1 822.0,369.7 822.6,370.2 823.2,368.8 823.8,369.1 824.4,369.3 825.0,371.0 825.6,368.8 826.2,370.0 826.7,369.3 827.3,371.1 827.9,370.7 828.5,371.3 829.1,371.3 829.7,371.7 830.3,371.8 830.9,370.7 831.5,371.6 832.1,371.8 832.7,373.1 833.3,371.7 833.9,372.7 834.5,371.3 835.1,372.3 835.7,371.7 836.3,372.3 836.8,372.6 837.4,372.9 838.0,371.3 838.6,371.8 839.2,372.5 839.8,371.5 840.4,370.8 841.0,371.3 841.6,370.7 842.2,371.4 842.8,372.3 843.4,371.7 844.0,370.9 844.6,370.4 845.2,369.9 845.8,369.2 846.4,370.5 846.9,370.6 847.5,370.2 848.1,370.8 848.7,371.4 849.3,371.4 849.9,370.6 850.5,371.9 851.1,373.3 851.7,371.2 852.3,372.4 852.9,371.5 853.5,372.8 854.1,373.8 854.7,372.6 855.3,373.1 855.9,371.7 856.5,371.5 857.0,371.7 857.6,370.0 858.2,371.8 858.8,371.7 859.4,370.5 860.0,370.0 860.6,370.3 861.2,370.9 861.8,369.6 862.4,371.6 863.0,371.0 863.6,370.3 864.2,371.4 864.8,370.1 865.4,370.3 866.0,370.2 866.6,370.0 867.1,369.7 867.7,370.1 868.3,370.2 868.9,371.7 869.5,370.7 870.1,371.4 870.7,371.4 871.3,372.9 871.9,372.1 872.5,371.8 873.1,370.9 873.7,372.9 874.3,373.5 874.9,372.4 875.5,371.4 876.1,372.2 876.7,373.0 877.3,372.5 877.8,373.3 878.4,372.5 879.0,372.7 879.6,371.0 880.2,372.9 880.8,371.9 881.4,371.9 882.0,372.2 882.6,372.0 883.2,370.5 883.8,373.1 884.4,372.0 885.0,371.5 885.6,372.8 886.2,373.0 886.8,373.3 887.4,370.8 887.9,371.7 888.5,372.5 889.1,372.4 889.7,372.1 890.3,371.6 890.9,372.3 891.5,371.1 892.1,371.0 892.7,370.3 893.3,370.9 893.9,370.6 894.5,370.7 895.1,370.1 895.7,370.4 896.3,371.0 896.9,371.1 897.5,371.1 898.0,370.6 898.6,371.2 899.2,370.6 899.8,371.1 900.4,370.5 901.0,370.7 901.6,370.4 902.2,369.8 902.8,370.6 903.4,372.0 904.0,370.3 904.6,370.8 905.2,370.8 905.8,371.1 906.4,371.6 907.0,372.2 907.6,371.1 908.1,371.0 908.7,372.9 909.3,372.3 909.9,373.4 910.5,373.4 911.1,371.7 911.7,372.5 912.3,371.4 912.9,373.5 913.5,372.3 914.1,371.7 914.7,371.6 915.3,370.8 915.9,371.7 916.5,371.5 917.1,371.4 917.7,371.0 918.2,371.1 918.8,371.2 919.4,371.1 920.0,370.3 920.6,370.9 921.2,371.0 921.8,369.6 922.4,370.3 923.0,370.2 923.6,369.7 924.2,370.2 924.8,370.5 925.4,369.2 926.0,369.0 926.6,370.4 927.2,369.9 927.8,369.3 928.3,368.7 928.9,368.9 929.5,368.7 930.1,369.4 930.7,368.8 931.3,368.1 931.9,369.5 932.5,368.0 933.1,368.4 933.7,369.0 934.3,368.2 934.9,368.4 935.5,369.3 936.1,369.2 936.7,369.8 937.3,369.5 937.9,370.3 938.4,370.6 939.0,369.1 939.6,370.8 940.2,370.7 940.8,370.3 941.4,368.1 942.0,370.5 942.6,369.7 943.2,369.8 943.8,368.7 944.4,369.7 945.0,368.3 945.6,369.1 946.2,368.1 946.8,368.8 947.4,369.0 948.0,369.8 948.5,369.4 949.1,369.0 949.7,369.1 950.3,368.5 950.9,368.9 951.5,368.2 952.1,368.8 952.7,368.9 953.3,368.0 953.9,368.4 954.5,368.0 955.1,368.2 955.7,368.9 956.3,368.3 956.9,368.2 957.5,368.5 958.1,367.6 958.7,370.1 959.2,368.7 959.8,368.9 960.4,368.4 961.0,369.5 961.6,369.1 962.2,369.9 962.8,370.5 963.4,370.2 964.0,368.6 964.6,370.6 965.2,369.4 965.8,370.7 966.4,369.3 967.0,369.4 967.6,369.8 968.2,370.4 968.8,370.0 969.3,369.8 969.9,370.3 970.5,371.4 971.1,369.5 971.7,369.8 972.3,369.8 972.9,369.9 973.5,371.9 974.1,369.5 974.7,369.5 975.3,368.7 975.9,368.7 976.5,369.3 977.1,368.3 977.7,368.7 978.3,368.3 978.9,368.4 979.4,367.8 980.0,367.7 980.6,367.8 981.2,366.9 981.8,367.2 982.4,367.5 983.0,368.1 983.6,367.9 984.2,367.6 984.8,367.5 985.4,368.1 986.0,368.2 986.6,367.1 987.2,367.3 987.8,367.2 988.4,368.5 989.0,368.4 989.5,367.0 990.1,366.4 990.7,366.4 991.3,366.8 991.9,366.7" marker-start="url(#r0)" marker-mid="url(#r0)" marker-end="url(#r0)"/>
</g>
<g fill="none" stroke-width="5.6" stroke-linejoin="round" stroke-linecap="butt">
<polyline points="175.3,351.3 231.7,351.3 231.7,217.2 232.4,227.4 233.2,236.3 233.9,244.0 234.7,250.7 235.4,256.6 236.2,261.7 236.9,266.2 237.6,270.0 238.4,273.4 239.1,276.4 239.9,278.9 240.6,281.2 241.4,283.2 242.1,284.9 242.8,286.4 243.6,287.7 244.3,288.9 245.1,289.9 245.8,290.9 246.5,291.7 247.3,292.4 248.0,293.0 248.8,293.6 249.5,294.1 250.3,294.5 251.0,294.9 251.7,295.3 252.5,295.6 253.2,295.9 254.0,296.2 254.7,296.5 255.5,296.7 256.2,296.9 256.9,297.1 257.7,297.3 258.4,297.5 259.2,297.7 259.9,297.8 260.7,298.0 261.4,298.1 262.1,298.2 262.9,298.4 263.6,298.5 264.4,298.6 265.1,298.7 269.6,299.3 274.0,299.8 278.5,300.3 282.9,300.9 287.4,301.4 291.9,301.9 296.3,302.4 300.8,303.0 305.2,303.5 309.7,304.0 314.1,304.5 318.6,305.0 323.0,305.5 327.5,305.9 332.0,306.4 336.4,306.9 340.9,307.3 345.3,307.8 349.8,308.2 354.2,308.6 358.7,309.1 363.2,309.5 367.6,309.9 372.1,310.3 376.5,310.6 381.0,311.0 385.4,311.3 389.9,311.7 394.3,312.0 398.8,312.4 403.3,312.7 407.7,313.1 412.2,313.4 416.6,313.8 421.1,314.1 425.5,314.5 430.0,314.8 434.5,315.2 438.9,315.5 443.4,315.9 447.8,316.2 452.3,316.6 456.7,316.9 461.2,317.2 465.6,317.5 470.1,317.8 474.6,318.1 479.0,318.4 483.5,318.7 487.9,319.0 492.4,319.3 496.8,319.7 501.3,320.0 505.8,320.3 510.2,320.6 514.7,320.9 519.1,321.3 523.6,321.6 528.0,321.9 532.5,322.2 536.9,322.5 541.4,322.8 545.9,323.0 550.3,323.3 554.8,323.5 559.2,323.7 563.7,323.9 568.1,324.1 572.6,324.3 577.1,324.5 581.5,324.7 586.0,324.8 590.4,325.0 594.9,325.1 599.3,325.3 603.8,325.4 608.2,325.6 612.7,325.7 617.2,325.9 621.6,326.0 626.1,326.1 630.5,326.3 635.0,326.4 639.4,326.5 643.9,326.7 648.4,326.8 652.8,326.9 657.3,327.1 661.7,327.2 666.2,327.3 670.6,327.5 675.1,327.6 685.5,327.7 685.5,434.8 686.2,430.0 687.0,425.5 687.7,421.2 688.5,417.2 689.2,413.4 689.9,409.9 690.7,406.5 691.4,403.3 692.2,400.3 692.9,397.5 693.7,394.9 694.4,392.4 695.1,390.0 695.9,387.8 696.6,385.7 697.4,383.7 698.1,381.8 698.9,380.1 699.6,378.4 700.3,376.8 701.1,375.4 701.8,374.0 702.6,372.6 703.3,371.4 704.1,370.2 704.8,369.1 705.5,368.1 706.3,367.1 707.0,366.2 707.8,365.3 708.5,364.5 709.3,363.7 710.0,363.0 710.7,362.3 711.5,361.7 712.2,361.1 713.0,360.5 713.7,360.0 714.5,359.4 715.2,359.0 715.9,358.5 716.7,358.1 717.4,357.7 718.2,357.3 718.9,356.9 719.6,356.6 720.4,356.3 721.1,356.0 721.9,355.7 722.6,355.4 723.4,355.2 724.1,354.9 724.8,354.7 725.6,354.5 726.3,354.3 727.1,354.1 727.8,353.9 728.6,353.8 729.3,353.6 730.0,353.5 730.8,353.3 731.5,353.2 732.3,353.1 733.0,352.9 733.8,352.8 734.5,352.7 735.2,352.6 736.0,352.5 736.7,352.4 737.5,352.4 738.2,352.3 739.0,352.2 739.7,352.1 740.4,352.1 741.2,352.0 741.9,352.0 742.7,351.9 743.4,351.8 744.2,351.8 744.9,351.8 745.6,351.7 746.4,351.7 747.1,351.6 747.9,351.6 748.6,351.6 749.4,351.5 750.1,351.5 750.8,351.5 751.6,351.4 752.3,351.4 759.8,351.2 767.2,351.1 774.6,351.1 782.0,351.0 789.5,351.0 796.9,351.0 804.3,351.0 811.7,351.0 819.2,351.0 826.6,351.0 834.0,351.0 841.5,351.0 848.9,351.0 856.3,351.0 863.7,351.0 871.2,351.0 878.6,351.0 886.0,351.0 893.4,351.0 900.9,351.0 908.3,351.0 915.7,351.0 923.1,351.0 930.6,351.0 938.0,351.0 945.4,351.0 952.9,351.0 953.6,351.0" stroke="#FD8D3C"/>
<polyline points="175.3,351.3 224.0,351.3 224.0,197.3 224.7,208.1 225.5,217.5 226.2,225.9 226.9,233.2 227.7,239.7 228.4,245.3 229.2,250.4 229.9,254.8 230.7,258.7 231.4,262.2 232.1,265.3 232.9,268.1 233.6,270.5 234.4,272.8 235.1,274.8 235.9,276.5 236.6,278.1 237.3,279.5 238.1,280.7 238.8,281.8 239.6,282.7 240.3,283.4 241.1,283.9 241.8,284.3 242.5,284.6 243.3,284.9 244.0,285.2 244.8,285.4 245.5,285.6 246.3,285.8 247.0,286.0 247.7,286.2 248.5,286.4 249.2,286.6 250.0,286.7 250.7,286.9 251.5,287.0 252.2,287.1 252.9,287.3 253.7,287.4 254.4,287.5 255.2,287.7 255.9,287.8 260.4,288.5 264.8,289.1 269.3,289.7 273.7,290.2 278.2,290.8 282.6,291.3 287.1,291.9 291.6,292.5 296.0,293.1 300.5,293.7 304.9,294.2 309.4,294.8 313.8,295.4 318.3,295.9 322.8,296.4 327.2,296.9 331.7,297.5 336.1,298.0 340.6,298.5 345.0,299.0 349.5,299.5 353.9,300.0 358.4,300.4 362.9,300.9 367.3,301.3 371.8,301.8 376.2,302.2 380.7,302.6 385.1,303.0 389.6,303.3 394.0,303.7 398.5,304.1 403.0,304.5 407.4,304.9 411.9,305.3 416.3,305.7 420.8,306.1 425.2,306.5 429.7,306.9 434.2,307.3 438.6,307.7 443.1,308.1 447.5,308.4 452.0,308.8 456.4,309.2 460.9,309.5 465.3,309.9 469.8,310.2 474.3,310.6 478.7,310.9 483.2,311.3 487.6,311.6 492.1,311.9 496.5,312.3 501.0,312.6 505.5,313.0 509.9,313.4 514.4,313.8 518.8,314.1 523.3,314.5 527.7,314.9 532.2,315.2 536.6,315.6 541.1,315.9 545.6,316.2 550.0,316.4 554.5,316.7 558.9,316.9 563.4,317.1 567.8,317.4 572.3,317.6 576.8,317.8 581.2,318.0 585.7,318.1 590.1,318.3 594.6,318.5 599.0,318.7 603.5,318.8 607.9,319.0 612.4,319.1 616.9,319.3 621.3,319.4 625.8,319.6 630.2,319.7 634.7,319.8 639.1,320.0 643.6,320.1 648.1,320.3 652.5,320.4 657.0,320.6 661.4,320.7 665.9,320.8 670.3,321.0 674.8,321.1 683.7,321.3 683.7,457.1 684.4,450.8 685.2,444.9 685.9,439.3 686.7,434.1 687.4,429.2 688.2,424.6 688.9,420.2 689.6,416.1 690.4,412.3 691.1,408.6 691.9,405.2 692.6,402.0 693.4,399.0 694.1,396.2 694.8,393.5 695.6,391.0 696.3,388.6 697.1,386.4 697.8,384.3 698.6,382.3 699.3,380.5 700.0,378.7 700.8,377.1 701.5,375.5 702.3,374.1 703.0,372.7 703.8,371.4 704.5,370.2 705.2,369.1 706.0,368.0 706.7,367.0 707.5,366.1 708.2,365.2 709.0,364.3 709.7,363.5 710.4,362.8 711.2,362.1 711.9,361.5 712.7,360.8 713.4,360.3 714.2,359.7 714.9,359.2 715.6,358.7 716.4,358.2 717.1,357.8 717.9,357.4 718.6,357.0 719.4,356.7 720.1,356.3 720.8,356.0 721.6,355.7 722.3,355.4 723.1,355.2 723.8,354.9 724.6,354.7 725.3,354.5 726.0,354.3 726.8,354.1 727.5,353.9 728.3,353.7 729.0,353.6 729.8,353.4 730.5,353.3 731.2,353.1 732.0,353.0 732.7,352.9 733.5,352.8 734.2,352.7 734.9,352.6 735.7,352.5 736.4,352.4 737.2,352.3 737.9,352.2 738.7,352.2 739.4,352.1 740.1,352.0 740.9,352.0 741.6,351.9 742.4,351.9 743.1,351.8 743.9,351.8 744.6,351.7 745.3,351.7 746.1,351.6 746.8,351.6 747.6,351.6 748.3,351.5 749.1,351.5 749.8,351.5 750.5,351.4 758.0,351.2 765.4,351.1 772.8,351.1 780.3,351.0 787.7,351.0 795.1,351.0 802.5,351.0 810.0,351.0 817.4,351.0 824.8,351.0 832.2,351.0 839.7,351.0 847.1,351.0 854.5,351.0 862.0,351.0 869.4,351.0 876.8,351.0 884.2,351.0 891.7,351.0 899.1,351.0 906.5,351.0 913.9,351.0 921.4,351.0 928.8,351.0 936.2,351.0 943.6,351.0 951.1,351.0 953.6,351.0" stroke="#FC4E2A"/>
<polyline points="175.3,351.3 217.9,351.3 217.9,176.0 218.6,186.9 219.4,196.6 220.1,205.4 220.9,213.2 221.6,220.3 222.3,226.7 223.1,232.5 223.8,237.8 224.6,242.6 225.3,246.9 226.1,250.8 226.8,254.4 227.5,257.6 228.3,260.4 229.0,262.9 229.8,265.0 230.5,266.9 231.2,268.5 232.0,269.8 232.7,270.7 233.5,271.3 234.2,271.5 235.0,271.7 235.7,271.9 236.4,272.1 237.2,272.3 237.9,272.4 238.7,272.6 239.4,272.7 240.2,272.8 240.9,272.9 241.6,273.0 242.4,273.2 243.1,273.3 243.9,273.4 244.6,273.5 245.4,273.6 246.1,273.7 246.8,273.8 247.6,274.0 248.3,274.1 252.8,274.8 257.2,275.5 261.7,276.3 266.2,277.0 270.6,277.6 275.1,278.2 279.5,278.9 284.0,279.6 288.4,280.2 292.9,280.9 297.4,281.6 301.8,282.3 306.3,283.0 310.7,283.7 315.2,284.3 319.6,284.9 324.1,285.5 328.5,286.2 333.0,286.8 337.5,287.4 341.9,288.0 346.4,288.6 350.8,289.2 355.3,289.7 359.7,290.3 364.2,290.8 368.6,291.3 373.1,291.8 377.6,292.3 382.0,292.7 386.5,293.2 390.9,293.7 395.4,294.1 399.8,294.5 404.3,295.0 408.8,295.5 413.2,295.9 417.7,296.4 422.1,296.9 426.6,297.3 431.0,297.8 435.5,298.3 439.9,298.8 444.4,299.2 448.9,299.7 453.3,300.1 457.8,300.5 462.2,300.9 466.7,301.4 471.1,301.8 475.6,302.2 480.1,302.6 484.5,303.0 489.0,303.4 493.4,303.8 497.9,304.2 502.3,304.6 506.8,305.1 511.2,305.5 515.7,306.0 520.2,306.4 524.6,306.9 529.1,307.3 533.5,307.7 538.0,308.1 542.4,308.5 546.9,308.8 551.4,309.1 555.8,309.4 560.3,309.7 564.7,309.9 569.2,310.2 573.6,310.4 578.1,310.7 582.5,310.9 587.0,311.1 591.5,311.3 595.9,311.5 600.4,311.7 604.8,311.9 609.3,312.1 613.7,312.2 618.2,312.4 622.7,312.6 627.1,312.7 631.6,312.9 636.0,313.1 640.5,313.2 644.9,313.4 649.4,313.6 653.8,313.7 658.3,313.9 662.8,314.1 667.2,314.2 671.7,314.4 676.1,314.5 682.1,314.7 682.1,480.4 682.8,472.5 683.6,465.2 684.3,458.3 685.0,451.8 685.8,445.7 686.5,439.9 687.3,434.5 688.0,429.5 688.8,424.7 689.5,420.2 690.2,416.1 691.0,412.1 691.7,408.4 692.5,404.9 693.2,401.7 694.0,398.6 694.7,395.7 695.4,393.0 696.2,390.5 696.9,388.1 697.7,385.8 698.4,383.7 699.2,381.7 699.9,379.9 700.6,378.1 701.4,376.5 702.1,374.9 702.9,373.5 703.6,372.1 704.3,370.8 705.1,369.6 705.8,368.5 706.6,367.4 707.3,366.4 708.1,365.5 708.8,364.6 709.5,363.8 710.3,363.0 711.0,362.3 711.8,361.6 712.5,361.0 713.3,360.4 714.0,359.8 714.7,359.3 715.5,358.8 716.2,358.3 717.0,357.9 717.7,357.4 718.5,357.0 719.2,356.7 719.9,356.3 720.7,356.0 721.4,355.7 722.2,355.4 722.9,355.2 723.7,354.9 724.4,354.7 725.1,354.4 725.9,354.2 726.6,354.0 727.4,353.9 728.1,353.7 728.9,353.5 729.6,353.4 730.3,353.2 731.1,353.1 731.8,353.0 732.6,352.8 733.3,352.7 734.1,352.6 734.8,352.5 735.5,352.4 736.3,352.3 737.0,352.3 737.8,352.2 738.5,352.1 739.3,352.0 740.0,352.0 740.7,351.9 741.5,351.9 742.2,351.8 743.0,351.8 743.7,351.7 744.5,351.7 745.2,351.6 745.9,351.6 746.7,351.6 747.4,351.5 748.2,351.5 748.9,351.5 756.3,351.2 763.8,351.1 771.2,351.1 778.6,351.0 786.0,351.0 793.5,351.0 800.9,351.0 808.3,351.0 815.8,351.0 823.2,351.0 830.6,351.0 838.0,351.0 845.5,351.0 852.9,351.0 860.3,351.0 867.7,351.0 875.2,351.0 882.6,351.0 890.0,351.0 897.5,351.0 904.9,351.0 912.3,351.0 919.7,351.0 927.2,351.0 934.6,351.0 942.0,351.0 949.4,351.0 953.6,351.0" stroke="#E31A1C"/>
<polyline points="175.3,351.3 214.3,351.3 214.3,166.1 215.1,175.5 215.8,184.1 216.5,192.0 217.3,199.3 218.0,206.1 218.8,212.4 219.5,218.3 220.3,223.7 221.0,228.7 221.7,233.4 222.5,237.7 223.2,241.6 224.0,245.2 224.7,248.4 225.5,251.3 226.2,253.8 226.9,255.8 227.7,257.5 228.4,258.6 229.2,259.1 229.9,259.1 230.7,259.1 231.4,259.0 232.1,259.0 232.9,258.9 233.6,258.9 234.4,258.9 235.1,259.0 235.9,259.0 236.6,259.1 237.3,259.1 238.1,259.2 238.8,259.3 239.6,259.3 240.3,259.4 241.1,259.5 241.8,259.5 242.5,259.6 243.3,259.7 244.0,259.8 248.5,260.5 252.9,261.3 257.4,262.1 261.8,263.0 266.3,263.8 270.8,264.5 275.2,265.2 279.7,266.0 284.1,266.7 288.6,267.5 293.0,268.3 297.5,269.1 302.0,269.9 306.4,270.7 310.9,271.5 315.3,272.2 319.8,272.9 324.2,273.7 328.7,274.4 333.1,275.1 337.6,275.8 342.1,276.5 346.5,277.2 351.0,277.8 355.4,278.5 359.9,279.1 364.3,279.7 368.8,280.3 373.3,280.9 377.7,281.4 382.2,282.0 386.6,282.5 391.1,283.0 395.5,283.6 400.0,284.1 404.4,284.6 408.9,285.1 413.4,285.6 417.8,286.2 422.3,286.7 426.7,287.3 431.2,287.9 435.6,288.4 440.1,288.9 444.6,289.5 449.0,290.0 453.5,290.5 457.9,291.0 462.4,291.5 466.8,292.0 471.3,292.4 475.7,292.9 480.2,293.4 484.7,293.9 489.1,294.3 493.6,294.8 498.0,295.3 502.5,295.8 506.9,296.3 511.4,296.8 515.9,297.4 520.3,297.9 524.8,298.4 529.2,298.9 533.7,299.4 538.1,299.9 542.6,300.3 547.0,300.7 551.5,301.0 556.0,301.3 560.4,301.7 564.9,302.0 569.3,302.3 573.8,302.5 578.2,302.8 582.7,303.1 587.2,303.3 591.6,303.5 596.1,303.8 600.5,304.0 605.0,304.2 609.4,304.4 613.9,304.6 618.3,304.8 622.8,305.0 627.3,305.2 631.7,305.4 636.2,305.5 640.6,305.7 645.1,305.9 649.5,306.1 654.0,306.3 658.5,306.5 662.9,306.7 667.4,306.9 671.8,307.1 676.3,307.2 680.4,307.3 680.4,504.7 681.2,495.1 681.9,486.2 682.7,477.8 683.4,469.9 684.1,462.5 684.9,455.6 685.6,449.1 686.4,443.0 687.1,437.3 687.9,431.9 688.6,426.9 689.3,422.2 690.1,417.8 690.8,413.6 691.6,409.7 692.3,406.1 693.1,402.7 693.8,399.5 694.5,396.5 695.3,393.6 696.0,391.0 696.8,388.5 697.5,386.2 698.3,384.0 699.0,381.9 699.7,380.0 700.5,378.2 701.2,376.5 702.0,374.9 702.7,373.5 703.5,372.1 704.2,370.8 704.9,369.5 705.7,368.4 706.4,367.3 707.2,366.3 707.9,365.3 708.7,364.4 709.4,363.6 710.1,362.8 710.9,362.1 711.6,361.4 712.4,360.8 713.1,360.2 713.9,359.6 714.6,359.0 715.3,358.5 716.1,358.1 716.8,357.6 717.6,357.2 718.3,356.8 719.1,356.5 719.8,356.1 720.5,355.8 721.3,355.5 722.0,355.2 722.8,355.0 723.5,354.7 724.3,354.5 725.0,354.3 725.7,354.1 726.5,353.9 727.2,353.7 728.0,353.5 728.7,353.4 729.5,353.2 730.2,353.1 730.9,353.0 731.7,352.8 732.4,352.7 733.2,352.6 733.9,352.5 734.7,352.4 735.4,352.3 736.1,352.3 736.9,352.2 737.6,352.1 738.4,352.0 739.1,352.0 739.9,351.9 740.6,351.8 741.3,351.8 742.1,351.7 742.8,351.7 743.6,351.7 744.3,351.6 745.0,351.6 745.8,351.5 746.5,351.5 747.3,351.5 754.7,351.2 762.1,351.1 769.6,351.1 777.0,351.0 784.4,351.0 791.8,351.0 799.3,351.0 806.7,351.0 814.1,351.0 821.5,351.0 829.0,351.0 836.4,351.0 843.8,351.0 851.3,351.0 858.7,351.0 866.1,351.0 873.5,351.0 881.0,351.0 888.4,351.0 895.8,351.0 903.2,351.0 910.7,351.0 918.1,351.0 925.5,351.0 933.0,351.0 940.4,351.0 947.8,351.0 953.6,351.0" stroke="#BD0026"/>
<polyline points="175.3,351.3 211.7,351.3 211.7,144.8 212.5,153.4 213.2,161.7 213.9,169.7 214.7,177.4 215.4,184.8 216.2,191.9 216.9,198.6 217.7,204.9 218.4,210.9 219.1,216.6 219.9,221.8 220.6,226.7 221.4,231.1 222.1,235.1 222.9,238.6 223.6,241.6 224.3,244.0 225.1,245.8 225.8,246.8 226.6,246.9 227.3,246.8 228.1,246.7 228.8,246.5 229.5,246.4 230.3,246.2 231.0,246.0 231.8,245.9 232.5,245.7 233.3,245.6 234.0,245.6 234.7,245.6 235.5,245.6 236.2,245.6 237.0,245.6 237.7,245.7 238.5,245.7 239.2,245.8 239.9,245.8 240.7,245.9 240.8,245.9 245.3,246.5 249.7,247.3 254.2,248.2 258.7,249.2 263.1,250.2 267.6,251.0 272.0,251.9 276.5,252.7 280.9,253.6 285.4,254.5 289.8,255.4 294.3,256.3 298.8,257.2 303.2,258.1 307.7,259.0 312.1,259.9 316.6,260.7 321.0,261.6 325.5,262.4 330.0,263.2 334.4,264.0 338.9,264.8 343.3,265.6 347.8,266.4 352.2,267.2 356.7,267.9 361.1,268.7 365.6,269.4 370.1,270.0 374.5,270.7 379.0,271.3 383.4,271.9 387.9,272.5 392.3,273.1 396.8,273.7 401.3,274.3 405.7,274.9 410.2,275.5 414.6,276.1 419.1,276.8 423.5,277.4 428.0,278.0 432.4,278.7 436.9,279.3 441.4,279.9 445.8,280.5 450.3,281.1 454.7,281.7 459.2,282.3 463.6,282.8 468.1,283.4 472.6,283.9 477.0,284.5 481.5,285.0 485.9,285.5 490.4,286.1 494.8,286.6 499.3,287.2 503.7,287.8 508.2,288.4 512.7,289.0 517.1,289.6 521.6,290.2 526.0,290.8 530.5,291.4 534.9,291.9 539.4,292.4 543.9,292.9 548.3,293.3 552.8,293.7 557.2,294.1 561.7,294.5 566.1,294.8 570.6,295.1 575.0,295.5 579.5,295.8 584.0,296.0 588.4,296.3 592.9,296.6 597.3,296.9 601.8,297.1 606.2,297.4 610.7,297.6 615.2,297.8 619.6,298.0 624.1,298.2 628.5,298.5 633.0,298.7 637.4,298.9 641.9,299.1 646.3,299.3 650.8,299.5 655.3,299.8 659.7,300.0 664.2,300.2 668.6,300.4 673.1,300.6 677.5,300.8 678.8,300.8 678.8,501.7 679.5,492.1 680.3,483.1 681.0,474.7 681.8,466.8 682.5,459.4 683.3,452.5 684.0,446.1 684.7,440.0 685.5,434.4 686.2,429.0 687.0,424.1 687.7,419.4 688.5,415.1 689.2,411.0 689.9,407.2 690.7,403.6 691.4,400.2 692.2,397.1 692.9,394.2 693.7,391.4 694.4,388.8 695.1,386.4 695.9,384.2 696.6,382.1 697.4,380.1 698.1,378.2 698.9,376.5 699.6,374.9 700.3,373.4 701.1,371.9 701.8,370.6 702.6,369.4 703.3,368.2 704.1,367.1 704.8,366.1 705.5,365.1 706.3,364.2 707.0,363.4 707.8,362.6 708.5,361.8 709.3,361.1 710.0,360.5 710.7,359.9 711.5,359.3 712.2,358.8 713.0,358.3 713.7,357.8 714.5,357.4 715.2,357.0 715.9,356.6 716.7,356.3 717.4,355.9 718.2,355.6 718.9,355.3 719.6,355.0 720.4,354.8 721.1,354.5 721.9,354.3 722.6,354.1 723.4,353.9 724.1,353.7 724.8,353.5 725.6,353.4 726.3,353.2 727.1,353.1 727.8,353.0 728.6,352.8 729.3,352.7 730.0,352.6 730.8,352.5 731.5,352.4 732.3,352.3 733.0,352.2 733.8,352.2 734.5,352.1 735.2,352.0 736.0,351.9 736.7,351.9 737.5,351.8 738.2,351.8 739.0,351.7 739.7,351.7 740.4,351.6 741.2,351.6 741.9,351.6 742.7,351.5 743.4,351.5 744.2,351.5 744.9,351.4 745.6,351.4 753.1,351.2 760.5,351.1 767.9,351.1 775.4,351.0 782.8,351.0 790.2,351.0 797.6,351.0 805.1,351.0 812.5,351.0 819.9,351.0 827.3,351.0 834.8,351.0 842.2,351.0 849.6,351.0 857.0,351.0 864.5,351.0 871.9,351.0 879.3,351.0 886.8,351.0 894.2,351.0 901.6,351.0 909.0,351.0 916.5,351.0 923.9,351.0 931.3,351.0 938.7,351.0 946.2,351.0 953.6,351.0" stroke="#800026"/>
</g>
<g fill="none" stroke="none">
<polyline points="205.9,1158.0 206.5,1158.4 207.0,1157.5 207.6,1157.5 208.1,1157.8 208.7,1157.5 209.2,1157.0 209.8,1158.0 210.3,1156.3 210.9,1158.0 211.4,1156.8 212.0,1158.8 212.5,1157.0 213.1,1156.8 213.6,1156.4 214.2,1158.2 214.7,1157.6 215.3,1158.0 215.8,1156.5 216.4,1157.9 217.0,1157.6 217.5,1157.9 218.1,1158.3 218.6,1156.7 219.2,1157.7 219.7,1158.0 220.3,1156.6 220.8,1157.8 221.4,1157.2 221.9,1158.5 222.5,1157.6 223.0,1155.7 223.6,1156.2 224.1,1156.4 224.7,1157.0 225.2,1156.0 225.8,1155.9 226.3,1155.9 226.9,1156.2 227.4,1156.7 228.0,1155.7 228.5,1157.0 229.1,1157.0 229.6,1159.7 230.2,1157.5 230.7,1157.9 231.3,1158.3 231.8,1157.1 232.4,1158.3 232.9,1157.4 233.5,1157.6 234.0,1157.6 234.6,1158.5 235.1,1157.4 235.7,1156.7 236.2,1157.1 236.8,1156.2 237.3,1158.2 237.9,1158.8 238.4,1157.2 239.0,1156.9 239.5,1157.7 240.1,1157.2 240.6,1158.0 241.2,1157.4 241.7,1156.9 242.3,1157.0 242.8,1155.6 243.4,1156.1 243.9,1156.9 244.5,1157.4 245.0,1155.4 245.6,1157.9 246.1,1157.2 246.7,1156.6 247.2,1157.9 247.8,1157.2 248.3,1156.0 248.9,1156.6 249.4,1157.9 250.0,1157.5 250.5,1157.6 251.1,1156.8 251.7,1158.5 252.2,1158.8 252.8,1158.0 253.3,1157.8 253.9,1159.9 254.4,1159.8 255.0,1158.6 255.5,1158.9 256.1,1158.1 256.6,1157.1 257.2,1159.1 257.7,1157.9 258.3,1157.8 258.8,1158.5 259.4,1156.6 259.9,1157.3 260.5,1159.0 261.0,1157.1 261.6,1157.7 262.1,1156.6 262.7,1157.6 263.2,1156.6 263.8,1156.1 264.3,1158.2 264.9,1157.2 265.4,1157.3 266.0,1157.5 266.5,1156.9 267.1,1156.4 267.6,1156.9 268.2,1156.7 268.7,1157.1 269.3,1156.8 269.8,1156.7 270.4,1156.8 270.9,1156.4 271.5,1156.1 272.0,1155.7 272.6,1156.6 273.1,1157.3 273.7,1157.7 274.2,1157.0 274.8,1156.8 275.3,1154.6 275.9,1157.1 276.4,1158.4 277.0,1157.1 277.5,1157.9 278.1,1157.4 278.6,1157.8 279.2,1157.1 279.7,1156.3 280.3,1156.6 280.8,1157.4 281.4,1156.4 281.9,1157.4 282.5,1157.5 283.0,1160.9 283.6,1158.8 284.1,1158.4 284.7,1158.3 285.3,1158.4 285.8,1158.3 286.4,1158.4 286.9,1157.1 287.5,1158.6 288.0,1158.3 288.6,1157.3 289.1,1156.1 289.7,1156.9 290.2,1158.7 290.8,1157.5 291.3,1157.7 291.9,1156.8 292.4,1159.3 293.0,1157.5 293.5,1158.5 294.1,1159.6 294.6,1156.4 295.2,1156.8 295.7,1157.0 296.3,1158.0 296.8,1156.1 297.4,1156.5 297.9,1156.8 298.5,1156.8 299.0,1156.8 299.6,1116.8 300.1,1039.7 300.7,949.6 301.2,913.9 301.8,898.2 302.3,893.5 302.9,891.4 303.4,887.7 304.0,888.1 304.5,886.2 305.1,886.5 305.6,886.8 306.2,887.0 306.7,884.4 307.3,886.8 307.8,885.6 308.4,886.7 308.9,885.9 309.5,887.1 310.0,884.6 310.6,884.7 311.1,886.0 311.7,887.1 312.2,889.2 312.8,894.6 313.3,896.6 313.9,902.5 314.4,907.0 315.0,911.0 315.5,915.8 316.1,922.0 316.6,927.8 317.2,932.8 317.7,938.2 318.3,942.3 318.8,946.9 319.4,949.1 320.0,951.8 320.5,957.3 321.1,961.0 321.6,963.2 322.2,965.0 322.7,964.6 323.3,964.7 323.8,964.8 324.4,965.7 324.9,965.4 325.5,965.1 326.0,963.7 326.6,962.3 327.1,961.8 327.7,961.4 328.2,958.9 328.8,957.1 329.3,957.4 329.9,955.9 330.4,953.2 331.0,952.2 331.5,951.2 332.1,949.3 332.6,946.2 333.2,944.7 333.7,944.4 334.3,943.0 334.8,942.2 335.4,941.1 335.9,940.1 336.5,940.4 337.0,942.2 337.6,939.3 338.1,938.6 338.7,939.4 339.2,939.6 339.8,939.5 340.3,937.5 340.9,938.2 341.4,937.4 342.0,937.6 342.5,940.6 343.1,941.1 343.6,943.1 344.2,944.5 344.7,944.1 345.3,947.4 345.8,947.8 346.4,947.7 346.9,949.5 347.5,951.5 348.0,951.7 348.6,953.3 349.1,953.2 349.7,957.2 350.2,957.5 350.8,958.3 351.3,959.5 351.9,960.9 352.4,960.7 353.0,961.9 353.5,962.0 354.1,960.9 354.7,960.9 355.2,962.5 355.8,962.9 356.3,963.9 356.9,965.2 357.4,966.3 358.0,963.6 358.5,963.9 359.1,964.4 359.6,965.4 360.2,964.1 360.7,963.3 361.3,964.5 361.8,966.1 362.4,966.4 362.9,965.3 363.5,965.4 364.0,964.4 364.6,966.4 365.1,963.9 365.7,964.6 366.2,962.9 366.8,963.8 367.3,962.9 367.9,963.3 368.4,963.5 369.0,960.5 369.5,961.7 370.1,961.5 370.6,959.6 371.2,958.4 371.7,957.9 372.3,957.0 372.8,955.9 373.4,954.5 373.9,953.4 374.5,953.4 375.0,953.1 375.6,952.5 376.1,954.0 376.7,952.9 377.2,952.1 377.8,953.9 378.3,952.6 378.9,953.7 379.4,953.2 380.0,955.2 380.5,955.4 381.1,953.8 381.6,955.3 382.2,955.7 382.7,955.2 383.3,958.2 383.8,954.9 384.4,954.3 384.9,955.8 385.5,957.6 386.0,957.9 386.6,955.8 387.1,954.0 387.7,955.5 388.2,955.1 388.8,954.1 389.4,955.0 389.9,953.3 390.5,955.0 391.0,953.2 391.6,952.8 392.1,952.2 392.7,953.4 393.2,951.3 393.8,949.9 394.3,950.8 394.9,948.7 395.4,950.0 396.0,949.6 396.5,951.2 397.1,949.0 397.6,949.5 398.2,949.0 398.7,951.1 399.3,950.7 399.8,950.2 400.4,951.8 400.9,952.4 401.5,953.9 402.0,951.8 402.6,952.4 403.1,954.5 403.7,952.8 404.2,952.6 404.8,953.0 405.3,953.8 405.9,953.7 406.4,955.2 407.0,953.9 407.5,953.8 408.1,954.4 408.6,952.4 409.2,953.0 409.7,951.9 410.3,952.7 410.8,953.3 411.4,951.5 411.9,951.5 412.5,950.3 413.0,950.5 413.6,948.8 414.1,949.9 414.7,947.2 415.2,947.7 415.8,946.4 416.3,947.8 416.9,945.3 417.4,945.2 418.0,943.6 418.5,944.6 419.1,943.6 419.6,944.7 420.2,942.5 420.7,942.0 421.3,942.0 421.8,942.9 422.4,942.1 423.0,942.7 423.5,944.0 424.1,943.5 424.6,944.0 425.2,943.7 425.7,944.1 426.3,944.6 426.8,944.6 427.4,947.6 427.9,945.4 428.5,945.8 429.0,947.2 429.6,947.5 430.1,947.8 430.7,949.4 431.2,949.7 431.8,949.4 432.3,949.2 432.9,951.0 433.4,951.2 434.0,951.3 434.5,950.1 435.1,951.6 435.6,952.1 436.2,951.8 436.7,952.6 437.3,952.8 437.8,951.6 438.4,951.6 438.9,952.7 439.5,951.9 440.0,951.3 440.6,952.9 441.1,953.0 441.7,950.9 442.2,952.3 442.8,950.7 443.3,950.4 443.9,950.8 444.4,951.1 445.0,949.7 445.5,949.2 446.1,951.2 446.6,949.8 447.2,949.1 447.7,949.4 448.3,950.4 448.8,950.4 449.4,951.5 449.9,950.1 450.5,951.2 451.0,950.3 451.6,950.6 452.1,951.5 452.7,951.7 453.2,951.4 453.8,953.1 454.3,951.8 454.9,953.4 455.4,955.2 456.0,955.7 456.5,954.4 457.1,955.2 457.7,957.4 458.2,955.9 458.8,954.9 459.3,956.4 459.9,957.7 460.4,956.4 461.0,956.4 461.5,957.9 462.1,956.9 462.6,958.7 463.2,955.8 463.7,957.1 464.3,958.7 464.8,957.6 465.4,957.6 465.9,957.9 466.5,955.8 467.0,956.1 467.6,956.2 468.1,955.4 468.7,956.7 469.2,956.3 469.8,954.8 470.3,954.7 470.9,954.8 471.4,954.9 472.0,954.2 472.5,954.7 473.1,954.9 473.6,955.0 474.2,953.0 474.7,952.2 475.3,953.5 475.8,952.3 476.4,953.0 476.9,953.8 477.5,952.4 478.0,953.5 478.6,953.6 479.1,953.3 479.7,953.5 480.2,954.4 480.8,953.8 481.3,953.9 481.9,952.9 482.4,952.5 483.0,951.9 483.5,952.8 484.1,954.4 484.6,954.4 485.2,953.6 485.7,952.5 486.3,954.3 486.8,953.9 487.4,954.6 487.9,954.0 488.5,954.7 489.0,953.9 489.6,954.6 490.1,954.0 490.7,955.4 491.2,954.3 491.8,954.7 492.4,954.6 492.9,955.2 493.5,954.5 494.0,954.7 494.6,955.0 495.1,954.1 495.7,955.2 496.2,953.2 496.8,955.7 497.3,954.1 497.9,953.4 498.4,954.1 499.0,953.4 499.5,954.2 500.1,953.4 500.6,953.4 501.2,955.5 501.7,956.0 502.3,954.9 502.8,956.3 503.4,955.5 503.9,955.5 504.5,957.6 505.0,956.6 505.6,957.4 506.1,957.1 506.7,958.6 507.2,957.9 507.8,958.6 508.3,960.3 508.9,959.7 509.4,958.4 510.0,959.2 510.5,959.1 511.1,959.1 511.6,959.8 512.2,960.6 512.7,959.0 513.3,960.0 513.8,960.4 514.4,958.4 514.9,957.5 515.5,957.9 516.0,958.3 516.6,958.8 517.1,956.5 517.7,955.5 518.2,956.7 518.8,955.6 519.3,956.6 519.9,955.8 520.4,954.4 521.0,954.1 521.5,954.6 522.1,954.2 522.6,953.1 523.2,952.8 523.7,952.8 524.3,952.4 524.8,951.4 525.4,952.7 525.9,951.4 526.5,952.5 527.1,952.7 527.6,954.7 528.2,954.6 528.7,954.5 529.3,955.6 529.8,954.4 530.4,954.8 530.9,955.1 531.5,956.4 532.0,957.5 532.6,958.5 533.1,956.2 533.7,957.4 534.2,958.4 534.8,957.5 535.3,955.9 535.9,957.4 536.4,957.7 537.0,957.0 537.5,957.7 538.1,958.3 538.6,957.6 539.2,959.4 539.7,960.1 540.3,959.0 540.8,956.8 541.4,957.1 541.9,959.1 542.5,956.6 543.0,958.2 543.6,956.3 544.1,955.4 544.7,956.2 545.2,954.8 545.8,956.0 546.3,953.0 546.9,952.3 547.4,953.1 548.0,954.4 548.5,953.7 549.1,953.7 549.6,953.1 550.2,952.6 550.7,953.2 551.3,952.2 551.8,950.6 552.4,951.4 552.9,952.1 553.5,953.6 554.0,952.5 554.6,954.5 555.1,953.8 555.7,951.6 556.2,953.1 556.8,953.4 557.3,956.1 557.9,956.3 558.4,957.0 559.0,956.8 559.5,958.0 560.1,958.8 560.7,959.8 561.2,960.4 561.8,959.3 562.3,961.1 562.9,960.8 563.4,959.5 564.0,959.6 564.5,959.9 565.1,958.9 565.6,960.7 566.2,958.6 566.7,958.5 567.3,957.1 567.8,958.1 568.4,958.6 568.9,956.9 569.5,958.0 570.0,956.9 570.6,956.9 571.1,955.0 571.7,955.0 572.2,956.3 572.8,955.2 573.3,955.4 573.9,956.0 574.4,954.4 575.0,955.1 575.5,953.9 576.1,955.1 576.6,955.5 577.2,955.9 577.7,956.6 578.3,956.5 578.8,956.6 579.4,956.1 579.9,955.8 580.5,956.0 581.0,957.2 581.6,956.3 582.1,956.2 582.7,954.7 583.2,956.4 583.8,958.1 584.3,957.9 584.9,958.2 585.4,956.9 586.0,958.6 586.5,957.2 587.1,959.3 587.6,958.5 588.2,958.2 588.7,958.7 589.3,957.7 589.8,958.8 590.4,958.2 590.9,957.9 591.5,957.0 592.0,958.7 592.6,959.0 593.1,957.2 593.7,957.4 594.2,957.0 594.8,956.4 595.4,956.3 595.9,956.8 596.5,955.7 597.0,955.2 597.6,955.0 598.1,956.6 598.7,954.5 599.2,955.7 599.8,953.7 600.3,954.7 600.9,954.0 601.4,952.0 602.0,952.6 602.5,952.4 603.1,952.3 603.6,952.8 604.2,951.5 604.7,952.8 605.3,952.9 605.8,952.0 606.4,953.4 606.9,953.0 607.5,952.9 608.0,954.3 608.6,952.8 609.1,953.7 609.7,954.8 610.2,954.5 610.8,955.9 611.3,957.8 611.9,956.1 612.4,956.2 613.0,956.1 613.5,956.8 614.1,957.0 614.6,956.6 615.2,957.0 615.7,957.2 616.3,955.7 616.8,955.6 617.4,954.9 617.9,955.1 618.5,954.1 619.0,954.5 619.6,955.7 620.1,953.9 620.7,952.4 621.2,951.7 621.8,953.0 622.3,951.5 622.9,952.6 623.4,951.3 624.0,949.9 624.5,951.0 625.1,951.1 625.6,950.6 626.2,951.3 626.7,951.8 627.3,952.2 627.8,952.7 628.4,953.1 628.9,952.7 629.5,952.9 630.1,951.3 630.6,952.9 631.2,953.3 631.7,951.5 632.3,953.4 632.8,953.5 633.4,953.2 633.9,953.2 634.5,953.8 635.0,953.9 635.6,952.7 636.1,954.1 636.7,954.3 637.2,953.8 637.8,954.2 638.3,954.3 638.9,954.6 639.4,954.7 640.0,954.9 640.5,954.8 641.1,957.1 641.6,954.7 642.2,954.8 642.7,956.8 643.3,956.1 643.8,957.2 644.4,956.6 644.9,955.3 645.5,955.3 646.0,956.4 646.6,954.3 647.1,955.6 647.7,958.1 648.2,955.9 648.8,953.9 649.3,955.0 649.9,953.9 650.4,954.8 651.0,954.2 651.5,952.9 652.1,954.6 652.6,954.6 653.2,953.8 653.7,953.5 654.3,953.1 654.8,954.4 655.4,954.1 655.9,957.6 656.5,956.2 657.0,956.3 657.6,955.4 658.1,957.7 658.7,956.7 659.2,958.8 659.8,956.8 660.3,955.7 660.9,957.9 661.4,957.2 662.0,957.7 662.5,956.8 663.1,958.4 663.6,956.7 664.2,957.1 664.8,958.5 665.3,956.8 665.9,956.8 666.4,957.8 667.0,957.4 667.5,958.5 668.1,958.4 668.6,956.9 669.2,958.3 669.7,958.3 670.3,959.2 670.8,959.3 671.4,958.3 671.9,955.3 672.5,957.1 673.0,955.4 673.6,955.3 674.1,956.1 674.7,955.2 675.2,954.8 675.8,954.0 676.3,953.4 676.9,953.5 677.4,952.3 678.0,953.2 678.5,952.1 679.1,952.2 679.6,954.8 680.2,952.8 680.7,954.3 681.3,952.8 681.8,953.2 682.4,953.2 682.9,953.0 683.5,954.0 684.0,954.0 684.6,953.3 685.1,953.5 685.7,953.5 686.2,954.0 686.8,953.5 687.3,955.6 687.9,954.4 688.4,954.4 689.0,955.6 689.5,954.7 690.1,955.8 690.6,957.1 691.2,956.3 691.7,954.0 692.3,953.8 692.8,953.8 693.4,954.7 693.9,953.8 694.5,955.7 695.0,954.7 695.6,953.4 696.1,953.5 696.7,954.6 697.2,953.3 697.8,952.6 698.4,953.8 698.9,951.9 699.5,953.9 700.0,953.6 700.6,954.1 701.1,953.4 701.7,953.4 702.2,954.7 702.8,955.0 703.3,953.0 703.9,952.3 704.4,953.5 705.0,954.0 705.5,953.2 706.1,952.9 706.6,953.2 707.2,951.6 707.7,952.7 708.3,952.9 708.8,952.7 709.4,952.9 709.9,950.8 710.5,951.5 711.0,951.4 711.6,951.8 712.1,951.5 712.7,952.2 713.2,952.5 713.8,953.3 714.3,954.3 714.9,956.5 715.4,957.2 716.0,959.9 716.5,959.9 717.1,962.2 717.6,964.8 718.2,965.0 718.7,966.1 719.3,967.5 719.8,970.3 720.4,972.3 720.9,974.5 721.5,974.9 722.0,976.0 722.6,979.3 723.1,980.5 723.7,981.9 724.2,985.0 724.8,986.0 725.3,988.2 725.9,991.5 726.4,994.8 727.0,999.0 727.5,1002.3 728.1,1007.9 728.6,1013.0 729.2,1019.0 729.7,1025.9 730.3,1030.7 730.8,1037.0 731.4,1039.3 731.9,1041.8 732.5,1043.8 733.1,1047.0 733.6,1047.5 734.2,1049.7 734.7,1050.7 735.3,1052.9 735.8,1053.0 736.4,1053.0 736.9,1053.4 737.5,1053.3 738.0,1054.0 738.6,1054.4 739.1,1056.8 739.7,1053.6 740.2,1053.8 740.8,1053.5 741.3,1052.4 741.9,1052.2 742.4,1050.3 743.0,1049.0 743.5,1047.7 744.1,1047.7 744.6,1045.2 745.2,1043.6 745.7,1042.4 746.3,1040.7 746.8,1039.1 747.4,1037.8 747.9,1033.4 748.5,1034.3 749.0,1032.9 749.6,1030.3 750.1,1029.5 750.7,1029.1 751.2,1029.8 751.8,1033.1 752.3,1034.5 752.9,1034.8 753.4,1037.7 754.0,1041.2 754.5,1043.1 755.1,1046.9 755.6,1049.7 756.2,1052.1 756.7,1054.5 757.3,1057.1 757.8,1062.4 758.4,1062.6 758.9,1065.0 759.5,1068.3 760.0,1070.1 760.6,1072.8 761.1,1074.8 761.7,1078.1 762.2,1076.9 762.8,1078.6 763.3,1079.2 763.9,1078.6 764.4,1077.2 765.0,1076.9 765.5,1076.5 766.1,1075.9 766.6,1074.6 767.2,1073.0 767.8,1073.9 768.3,1074.5 768.9,1073.7 769.4,1072.6 770.0,1073.4 770.5,1072.7 771.1,1072.0 771.6,1070.3 772.2,1071.2 772.7,1072.8 773.3,1072.5 773.8,1071.0 774.4,1073.4 774.9,1073.8 775.5,1073.5 776.0,1072.5 776.6,1072.4 777.1,1074.2 777.7,1073.8 778.2,1074.0 778.8,1075.0 779.3,1077.1 779.9,1077.3 780.4,1079.2 781.0,1079.6 781.5,1082.3 782.1,1083.3 782.6,1083.9 783.2,1086.0 783.7,1087.4 784.3,1089.0 784.8,1089.6 785.4,1092.9 785.9,1093.4 786.5,1093.6 787.0,1094.2 787.6,1094.0 788.1,1095.0 788.7,1096.0 789.2,1097.0 789.8,1097.8 790.3,1095.1 790.9,1097.9 791.4,1093.9 792.0,1095.7 792.5,1093.8 793.1,1093.4 793.6,1092.8 794.2,1092.9 794.7,1093.1 795.3,1092.8 795.8,1094.1 796.4,1093.4 796.9,1092.9 797.5,1091.6 798.0,1091.0 798.6,1092.3 799.1,1089.8 799.7,1089.8 800.2,1090.0 800.8,1089.5 801.3,1088.0 801.9,1088.5 802.5,1088.7 803.0,1089.5 803.6,1089.0 804.1,1088.2 804.7,1091.0 805.2,1091.1 805.8,1090.9 806.3,1091.7 806.9,1092.3 807.4,1094.5 808.0,1095.1 808.5,1096.4 809.1,1098.6 809.6,1097.2 810.2,1098.8 810.7,1100.9 811.3,1101.6 811.8,1103.6 812.4,1103.2 812.9,1104.5 813.5,1105.0 814.0,1106.7 814.6,1107.2 815.1,1107.1 815.7,1106.7 816.2,1108.0 816.8,1107.2 817.3,1108.4 817.9,1108.8 818.4,1107.1 819.0,1108.8 819.5,1109.2 820.1,1109.7 820.6,1109.7 821.2,1109.8 821.7,1110.8 822.3,1110.4 822.8,1110.6 823.4,1109.4 823.9,1111.2 824.5,1111.0 825.0,1111.2 825.6,1111.2 826.1,1111.6 826.7,1110.4 827.2,1113.3 827.8,1111.6 828.3,1113.2 828.9,1114.9 829.4,1112.4 830.0,1113.8 830.5,1112.4 831.1,1114.4 831.6,1114.0 832.2,1113.1 832.7,1112.7 833.3,1115.5 833.8,1114.4 834.4,1111.7 834.9,1111.4 835.5,1112.4 836.1,1111.8 836.6,1113.1 837.2,1111.2 837.7,1111.6 838.3,1111.3 838.8,1110.6 839.4,1111.2 839.9,1110.0 840.5,1111.3 841.0,1110.8 841.6,1111.8 842.1,1110.4 842.7,1112.5 843.2,1111.8 843.8,1110.8 844.3,1112.3 844.9,1113.6 845.4,1111.7 846.0,1111.4 846.5,1112.5 847.1,1114.1 847.6,1114.5 848.2,1114.3 848.7,1114.4 849.3,1115.6 849.8,1116.5 850.4,1116.2 850.9,1117.1 851.5,1116.6 852.0,1118.5 852.6,1117.5 853.1,1118.8 853.7,1118.3 854.2,1119.8 854.8,1120.4 855.3,1120.9 855.9,1120.2 856.4,1121.9 857.0,1120.5 857.5,1120.8 858.1,1122.1 858.6,1122.6 859.2,1120.2 859.7,1121.9 860.3,1121.9 860.8,1121.7 861.4,1120.2 861.9,1120.1 862.5,1119.7 863.0,1120.7 863.6,1119.0 864.1,1119.9 864.7,1119.3 865.2,1119.0 865.8,1119.8 866.3,1118.4 866.9,1118.3 867.4,1119.0 868.0,1118.0 868.5,1118.1 869.1,1118.7 869.6,1117.6 870.2,1119.4 870.8,1120.0 871.3,1120.7 871.9,1119.4 872.4,1120.6 873.0,1121.0 873.5,1120.0 874.1,1122.2 874.6,1121.8 875.2,1122.4 875.7,1123.3 876.3,1123.4 876.8,1122.9 877.4,1123.1 877.9,1123.5 878.5,1124.3 879.0,1125.2 879.6,1125.2 880.1,1124.0 880.7,1126.5 881.2,1126.9 881.8,1125.7 882.3,1126.2 882.9,1127.3 883.4,1127.1 884.0,1129.0 884.5,1127.7 885.1,1128.3 885.6,1129.3 886.2,1129.4 886.7,1128.7 887.3,1128.5 887.8,1129.2 888.4,1127.5 888.9,1130.2 889.5,1129.5 890.0,1129.6 890.6,1129.7 891.1,1129.4 891.7,1130.2 892.2,1129.0 892.8,1130.1 893.3,1129.7 893.9,1130.0 894.4,1130.1 895.0,1129.0 895.5,1131.1 896.1,1129.7 896.6,1131.6 897.2,1129.2 897.7,1129.8 898.3,1128.5 898.8,1128.4 899.4,1127.2 899.9,1127.5 900.5,1127.0 901.0,1126.4 901.6,1127.6 902.1,1125.9 902.7,1126.3 903.2,1125.1 903.8,1127.3 904.3,1125.6 904.9,1126.0 905.5,1126.0 906.0,1126.0 906.6,1123.4 907.1,1125.4 907.7,1124.9 908.2,1126.0 908.8,1127.2 909.3,1124.6 909.9,1123.9 910.4,1125.8 911.0,1127.2 911.5,1127.1 912.1,1126.0 912.6,1127.5 913.2,1126.3 913.7,1128.8 914.3,1127.3 914.8,1130.3 915.4,1129.3 915.9,1130.8 916.5,1128.4 917.0,1128.7 917.6,1129.2 918.1,1129.8 918.7,1130.2 919.2,1130.8 919.8,1130.3 920.3,1130.4 920.9,1129.5 921.4,1130.9 922.0,1131.9 922.5,1129.5 923.1,1129.9 923.6,1128.8 924.2,1129.6 924.7,1129.3 925.3,1131.2 925.8,1129.4 926.4,1129.9 926.9,1128.8 927.5,1130.2 928.0,1130.8 928.6,1132.3 929.1,1130.9 929.7,1130.2 930.2,1132.0 930.8,1132.7 931.3,1131.7 931.9,1132.9 932.4,1131.8 933.0,1132.7 933.5,1131.9 934.1,1132.3 934.6,1133.0 935.2,1132.6 935.7,1134.4 936.3,1133.5 936.8,1134.4 937.4,1134.4 937.9,1133.7 938.5,1136.0 939.0,1135.6 939.6,1136.0 940.2,1136.0 940.7,1136.9 941.3,1135.9 941.8,1135.6 942.4,1137.5 942.9,1137.3 943.5,1136.3 944.0,1135.7 944.6,1136.8 945.1,1136.2 945.7,1137.7 946.2,1137.5 946.8,1137.3 947.3,1134.7 947.9,1134.0 948.4,1136.7 949.0,1135.9 949.5,1135.3 950.1,1135.0 950.6,1135.6 951.2,1135.2 951.7,1136.7 952.3,1135.1 952.8,1135.9 953.4,1135.4 953.9,1134.9 954.5,1136.1 955.0,1135.7 955.6,1134.9 956.1,1134.5 956.7,1134.9 957.2,1134.7 957.8,1136.2 958.3,1135.3 958.9,1136.3 959.4,1136.4 960.0,1137.0 960.5,1137.4 961.1,1137.7 961.6,1137.5 962.2,1137.4 962.7,1138.7 963.3,1137.7 963.8,1139.3 964.4,1138.3 964.9,1137.9 965.5,1137.6 966.0,1137.7 966.6,1137.6 967.1,1136.9 967.7,1137.8 968.2,1135.6 968.8,1135.8 969.3,1136.7 969.9,1135.0 970.4,1134.4 971.0,1133.5 971.5,1134.0 972.1,1133.3 972.6,1134.3 973.2,1134.0 973.8,1132.8 974.3,1131.9 974.9,1132.8 975.4,1132.0 976.0,1132.5 976.5,1130.3 977.1,1132.1 977.6,1131.9 978.2,1130.2 978.7,1130.8 979.3,1131.8 979.8,1131.2 980.4,1131.9 980.9,1130.9 981.5,1132.8 982.0,1132.8 982.6,1132.3 983.1,1132.7 983.7,1133.4 984.2,1132.8 984.8,1132.7 985.3,1132.4 985.9,1131.9 986.4,1134.1 987.0,1136.1 987.5,1134.5 988.1,1136.3 988.6,1136.1 989.2,1136.7 989.7,1137.2 990.3,1136.5 990.8,1136.2 991.4,1136.8 991.9,1137.8" marker-start="url(#g0)" marker-mid="url(#g0)" marker-end="url(#g0)"/>
<polyline points="205.9,1157.3 206.5,1158.7 207.0,1158.7 207.6,1157.7 208.1,1157.6 208.7,1157.9 209.2,1157.7 209.8,1158.3 210.3,1158.6 210.9,1157.6 211.4,1158.1 212.0,1158.4 212.5,1158.2 213.1,1157.9 213.6,1157.2 214.2,1157.9 214.7,1158.0 215.3,1157.7 215.8,1156.4 216.4,1156.6 217.0,1155.6 217.5,1158.0 218.1,1155.9 218.6,1156.3 219.2,1155.7 219.7,1157.8 220.3,1155.8 220.8,1157.1 221.4,1155.8 221.9,1154.6 222.5,1156.3 223.0,1157.4 223.6,1156.0 224.1,1157.1 224.7,1156.2 225.2,1156.2 225.8,1156.3 226.3,1156.3 226.9,1154.3 227.4,1155.8 228.0,1157.2 228.5,1155.2 229.1,1157.1 229.6,1156.2 230.2,1156.5 230.7,1157.0 231.3,1156.9 231.8,1158.0 232.4,1157.7 232.9,1157.5 233.5,1157.6 234.0,1156.5 234.6,1157.2 235.1,1157.4 235.7,1157.8 236.2,1157.7 236.8,1157.3 237.3,1156.5 237.9,1157.0 238.4,1157.8 239.0,1157.2 239.5,1157.5 240.1,1157.2 240.6,1157.8 241.2,1158.9 241.7,1157.0 242.3,1156.2 242.8,1158.1 243.4,1157.5 243.9,1158.6 244.5,1157.1 245.0,1157.4 245.6,1157.7 246.1,1158.6 246.7,1158.1 247.2,1158.2 247.8,1157.7 248.3,1156.7 248.9,1156.3 249.4,1158.2 250.0,1156.7 250.5,1160.0 251.1,1156.5 251.7,1157.2 252.2,1158.6 252.8,1158.7 253.3,1159.6 253.9,1157.2 254.4,1157.2 255.0,1158.9 255.5,1157.3 256.1,1159.5 256.6,1157.6 257.2,1158.1 257.7,1159.3 258.3,1157.9 258.8,1158.6 259.4,1159.8 259.9,1157.2 260.5,1158.0 261.0,1158.8 261.6,1157.0 262.1,1156.3 262.7,1157.6 263.2,1156.6 263.8,1155.2 264.3,1156.0 264.9,1156.3 265.4,1156.9 266.0,1155.2 266.5,1156.0 267.1,1156.0 267.6,1156.4 268.2,1156.5 268.7,1156.8 269.3,1157.5 269.8,1156.4 270.4,1156.3 270.9,1156.2 271.5,1156.8 272.0,1156.9 272.6,1156.5 273.1,1157.8 273.7,1158.6 274.2,1157.9 274.8,1158.3 275.3,1158.3 275.9,1158.1 276.4,1158.8 277.0,1158.6 277.5,1158.6 278.1,1158.9 278.6,1158.0 279.2,1157.7 279.7,1157.1 280.3,1157.6 280.8,1156.4 281.4,1157.9 281.9,1156.8 282.5,1156.2 283.0,1155.8 283.6,1157.5 284.1,1157.2 284.7,1157.0 285.3,1157.1 285.8,1157.3 286.4,1158.1 286.9,1158.3 287.5,1159.5 288.0,1158.2 288.6,1158.3 289.1,1158.0 289.7,1160.2 290.2,1157.1 290.8,1160.3 291.3,1159.4 291.9,1159.0 292.4,1158.5 293.0,1157.2 293.5,1158.5 294.1,1156.7 294.6,1158.8 295.2,1156.6 295.7,1158.4 296.3,1158.9 296.8,1121.3 297.4,1035.1 297.9,923.9 298.5,879.8 299.0,859.3 299.6,854.2 300.1,851.6 300.7,849.7 301.2,848.9 301.8,850.6 302.3,850.6 302.9,851.0 303.4,851.1 304.0,850.1 304.5,849.7 305.1,851.7 305.6,852.6 306.2,856.1 306.7,858.9 307.3,861.0 307.8,864.8 308.4,869.5 308.9,873.5 309.5,877.3 310.0,881.2 310.6,886.8 311.1,894.5 311.7,900.1 312.2,907.3 312.8,912.0 313.3,916.2 313.9,920.3 314.4,923.7 315.0,927.7 315.5,931.5 316.1,934.2 316.6,935.4 317.2,935.7 317.7,936.2 318.3,936.6 318.8,936.6 319.4,935.6 320.0,935.4 320.5,935.6 321.1,934.5 321.6,934.5 322.2,933.7 322.7,934.5 323.3,933.0 323.8,933.4 324.4,932.9 324.9,933.4 325.5,932.2 326.0,930.9 326.6,932.5 327.1,930.9 327.7,930.5 328.2,929.1 328.8,927.3 329.3,926.3 329.9,925.7 330.4,926.4 331.0,922.9 331.5,923.5 332.1,921.4 332.6,919.8 333.2,919.8 333.7,919.0 334.3,918.7 334.8,920.0 335.4,918.6 335.9,918.6 336.5,917.8 337.0,917.0 337.6,917.1 338.1,916.1 338.7,916.4 339.2,914.8 339.8,915.8 340.3,914.3 340.9,913.3 341.4,914.9 342.0,916.0 342.5,915.7 343.1,914.8 343.6,915.6 344.2,914.5 344.7,915.6 345.3,916.5 345.8,916.9 346.4,916.1 346.9,920.1 347.5,919.0 348.0,919.4 348.6,919.1 349.1,921.1 349.7,922.8 350.2,922.4 350.8,922.9 351.3,923.0 351.9,924.3 352.4,923.7 353.0,925.0 353.5,924.9 354.1,924.4 354.7,927.1 355.2,927.3 355.8,928.1 356.3,926.3 356.9,928.4 357.4,929.3 358.0,929.5 358.5,930.1 359.1,931.7 359.6,933.7 360.2,933.3 360.7,933.7 361.3,933.7 361.8,934.4 362.4,934.5 362.9,936.1 363.5,934.8 364.0,935.3 364.6,934.1 365.1,934.8 365.7,934.2 366.2,933.6 366.8,933.2 367.3,932.6 367.9,933.6 368.4,932.8 369.0,931.7 369.5,931.1 370.1,931.9 370.6,930.8 371.2,928.4 371.7,930.7 372.3,930.8 372.8,929.5 373.4,927.9 373.9,927.2 374.5,927.7 375.0,927.9 375.6,928.7 376.1,927.0 376.7,926.1 377.2,926.5 377.8,926.9 378.3,927.9 378.9,926.8 379.4,927.1 380.0,929.2 380.5,929.6 381.1,928.7 381.6,930.6 382.2,929.3 382.7,930.1 383.3,930.8 383.8,929.5 384.4,931.4 384.9,930.7 385.5,930.6 386.0,931.0 386.6,929.5 387.1,931.0 387.7,930.6 388.2,929.3 388.8,930.0 389.4,928.2 389.9,927.3 390.5,928.9 391.0,927.0 391.6,927.6 392.1,926.8 392.7,926.2 393.2,925.4 393.8,925.4 394.3,925.0 394.9,924.4 395.4,925.3 396.0,925.1 396.5,925.0 397.1,924.6 397.6,923.8 398.2,924.1 398.7,922.8 399.3,924.2 399.8,926.7 400.4,926.7 400.9,927.9 401.5,928.6 402.0,928.7 402.6,928.0 403.1,928.1 403.7,929.3 404.2,928.7 404.8,927.2 405.3,929.6 405.9,928.0 406.4,929.2 407.0,928.5 407.5,926.8 408.1,926.2 408.6,927.3 409.2,925.9 409.7,928.1 410.3,926.0 410.8,928.3 411.4,926.4 411.9,925.9 412.5,926.3 413.0,925.4 413.6,926.3 414.1,925.1 414.7,924.9 415.2,924.5 415.8,925.6 416.3,922.6 416.9,923.2 417.4,921.0 418.0,922.1 418.5,920.9 419.1,919.9 419.6,919.4 420.2,919.6 420.7,920.2 421.3,918.3 421.8,918.9 422.4,917.3 423.0,918.1 423.5,919.7 424.1,918.1 424.6,918.0 425.2,918.6 425.7,920.1 426.3,921.7 426.8,920.2 427.4,920.4 427.9,921.4 428.5,922.4 429.0,921.9 429.6,923.3 430.1,921.6 430.7,923.6 431.2,924.7 431.8,923.7 432.3,924.7 432.9,924.3 433.4,925.1 434.0,926.0 434.5,925.3 435.1,926.6 435.6,926.9 436.2,926.2 436.7,925.5 437.3,928.0 437.8,925.2 438.4,926.8 438.9,925.1 439.5,926.0 440.0,926.8 440.6,924.7 441.1,925.8 441.7,924.5 442.2,924.1 442.8,923.5 443.3,922.7 443.9,922.7 444.4,923.9 445.0,923.0 445.5,924.6 446.1,922.6 446.6,923.0 447.2,921.7 447.7,922.9 448.3,923.1 448.8,924.0 449.4,924.9 449.9,924.5 450.5,923.7 451.0,924.4 451.6,924.0 452.1,925.3 452.7,925.5 453.2,926.4 453.8,926.8 454.3,927.0 454.9,928.7 455.4,927.9 456.0,929.6 456.5,929.6 457.1,931.2 457.7,930.9 458.2,930.7 458.8,930.2 459.3,931.9 459.9,931.6 460.4,931.8 461.0,933.3 461.5,932.3 462.1,932.5 462.6,932.2 463.2,931.2 463.7,932.1 464.3,931.9 464.8,932.5 465.4,931.2 465.9,928.9 466.5,929.6 467.0,930.2 467.6,930.9 468.1,930.2 468.7,929.8 469.2,929.0 469.8,929.1 470.3,926.2 470.9,926.8 471.4,928.0 472.0,927.1 472.5,926.5 473.1,926.7 473.6,927.2 474.2,924.4 474.7,925.8 475.3,925.3 475.8,926.0 476.4,924.5 476.9,926.4 477.5,924.7 478.0,925.7 478.6,926.2 479.1,927.0 479.7,925.6 480.2,925.5 480.8,926.4 481.3,924.8 481.9,926.3 482.4,925.3 483.0,925.3 483.5,926.6 484.1,925.1 484.6,925.8 485.2,925.3 485.7,926.6 486.3,925.1 486.8,926.8 487.4,926.7 487.9,925.7 488.5,926.8 489.0,926.0 489.6,926.8 490.1,926.8 490.7,926.9 491.2,926.4 491.8,926.4 492.4,928.2 492.9,926.8 493.5,927.7 494.0,927.7 494.6,928.8 495.1,927.1 495.7,926.3 496.2,927.2 496.8,926.7 497.3,928.0 497.9,927.9 498.4,929.4 499.0,927.4 499.5,928.6 500.1,927.7 500.6,928.4 501.2,929.4 501.7,928.0 502.3,930.5 502.8,930.1 503.4,929.9 503.9,929.8 504.5,928.9 505.0,931.3 505.6,930.3 506.1,931.1 506.7,930.4 507.2,930.8 507.8,930.5 508.3,930.4 508.9,930.3 509.4,931.1 510.0,931.1 510.5,931.0 511.1,930.2 511.6,931.9 512.2,930.7 512.7,928.8 513.3,931.3 513.8,932.1 514.4,930.2 514.9,928.6 515.5,931.4 516.0,929.2 516.6,928.9 517.1,929.9 517.7,929.4 518.2,929.4 518.8,928.9 519.3,927.6 519.9,927.8 520.4,926.6 521.0,927.0 521.5,925.8 522.1,927.0 522.6,926.3 523.2,925.5 523.7,925.9 524.3,925.3 524.8,925.7 525.4,924.7 525.9,927.0 526.5,926.1 527.1,925.8 527.6,925.0 528.2,925.9 528.7,924.8 529.3,926.7 529.8,926.8 530.4,925.7 530.9,927.3 531.5,928.6 532.0,928.0 532.6,926.1 533.1,929.6 533.7,929.5 534.2,928.7 534.8,930.3 535.3,928.4 535.9,931.2 536.4,930.3 537.0,931.4 537.5,932.0 538.1,932.4 538.6,930.9 539.2,932.1 539.7,933.5 540.3,931.7 540.8,933.3 541.4,932.0 541.9,933.6 542.5,930.2 543.0,930.5 543.6,931.0 544.1,930.5 544.7,927.8 545.2,927.2 545.8,927.7 546.3,927.4 546.9,928.1 547.4,927.0 548.0,926.3 548.5,928.8 549.1,926.6 549.6,928.2 550.2,928.2 550.7,927.2 551.3,925.9 551.8,927.1 552.4,926.9 552.9,926.8 553.5,927.8 554.0,928.3 554.6,927.8 555.1,927.8 555.7,929.6 556.2,929.7 556.8,929.1 557.3,929.1 557.9,930.2 558.4,930.8 559.0,930.8 559.5,932.0 560.1,932.5 560.7,931.0 561.2,931.4 561.8,932.5 562.3,932.5 562.9,931.8 563.4,932.6 564.0,932.8 564.5,931.7 565.1,932.7 565.6,932.9 566.2,932.5 566.7,932.9 567.3,931.5 567.8,931.3 568.4,930.4 568.9,930.4 569.5,929.9 570.0,929.8 570.6,929.8 571.1,929.3 571.7,929.0 572.2,929.3 572.8,927.2 573.3,928.6 573.9,929.0 574.4,928.5 575.0,927.9 575.5,929.7 576.1,929.2 576.6,929.8 577.2,929.1 577.7,929.9 578.3,929.0 578.8,930.9 579.4,929.3 579.9,929.4 580.5,930.6 581.0,931.0 581.6,930.6 582.1,929.0 582.7,931.8 583.2,932.9 583.8,932.0 584.3,930.5 584.9,931.4 585.4,931.6 586.0,932.2 586.5,931.3 587.1,930.9 587.6,932.5 588.2,930.3 588.7,929.9 589.3,931.3 589.8,932.6 590.4,929.0 590.9,930.8 591.5,930.8 592.0,930.9 592.6,931.8 593.1,932.7 593.7,931.4 594.2,929.7 594.8,929.9 595.4,930.1 595.9,931.2 596.5,929.0 597.0,929.8 597.6,928.8 598.1,927.2 598.7,927.3 599.2,928.4 599.8,929.2 600.3,927.4 600.9,927.8 601.4,926.8 602.0,927.0 602.5,926.1 603.1,927.6 603.6,928.1 604.2,926.7 604.7,928.4 605.3,928.4 605.8,927.3 606.4,927.0 606.9,928.1 607.5,929.0 608.0,929.9 608.6,930.9 609.1,929.0 609.7,930.3 610.2,931.3 610.8,930.5 611.3,931.6 611.9,930.5 612.4,932.6 613.0,930.4 613.5,931.6 614.1,931.6 614.6,931.2 615.2,932.4 615.7,931.1 616.3,931.3 616.8,931.3 617.4,930.0 617.9,930.5 618.5,928.5 619.0,929.6 619.6,928.7 620.1,928.6 620.7,927.7 621.2,927.4 621.8,928.4 622.3,926.6 622.9,926.8 623.4,925.7 624.0,926.7 624.5,925.1 625.1,925.2 625.6,926.3 626.2,926.4 626.7,925.2 627.3,925.5 627.8,926.3 628.4,925.0 628.9,925.8 629.5,925.9 630.1,926.6 630.6,927.2 631.2,927.4 631.7,929.0 632.3,926.9 632.8,926.6 633.4,928.5 633.9,926.6 634.5,927.0 635.0,928.0 635.6,928.6 636.1,928.2 636.7,926.2 637.2,927.0 637.8,928.5 638.3,927.7 638.9,927.1 639.4,930.8 640.0,927.9 640.5,930.4 641.1,928.9 641.6,929.1 642.2,929.9 642.7,928.7 643.3,929.7 643.8,929.6 644.4,929.9 644.9,931.3 645.5,929.2 646.0,929.2 646.6,930.0 647.1,928.4 647.7,929.2 648.2,927.6 648.8,926.7 649.3,926.9 649.9,926.8 650.4,927.4 651.0,925.9 651.5,927.0 652.1,929.6 652.6,927.8 653.2,926.9 653.7,926.5 654.3,927.0 654.8,926.5 655.4,926.3 655.9,929.2 656.5,927.6 657.0,927.8 657.6,928.7 658.1,929.0 658.7,927.0 659.2,927.8 659.8,927.6 660.3,928.8 660.9,928.0 661.4,929.9 662.0,929.3 662.5,931.3 663.1,929.2 663.6,929.9 664.2,930.3 664.8,930.5 665.3,930.5 665.9,930.3 666.4,930.6 667.0,930.3 667.5,931.3 668.1,931.8 668.6,931.9 669.2,930.5 669.7,932.8 670.3,930.2 670.8,930.6 671.4,931.9 671.9,930.2 672.5,929.6 673.0,928.9 673.6,928.2 674.1,929.6 674.7,930.6 675.2,928.1 675.8,927.9 676.3,927.8 676.9,929.5 677.4,927.4 678.0,928.0 678.5,928.9 679.1,927.9 679.6,927.2 680.2,929.5 680.7,925.6 681.3,926.6 681.8,926.0 682.4,926.7 682.9,928.0 683.5,926.5 684.0,928.0 684.6,925.2 685.1,926.7 685.7,926.5 686.2,927.9 686.8,926.0 687.3,925.8 687.9,927.1 688.4,927.0 689.0,927.8 689.5,927.0 690.1,927.2 690.6,926.6 691.2,926.7 691.7,925.9 692.3,925.8 692.8,927.0 693.4,928.1 693.9,926.4 694.5,926.0 695.0,927.4 695.6,927.1 696.1,928.4 696.7,926.7 697.2,927.1 697.8,928.8 698.4,928.2 698.9,929.1 699.5,928.2 700.0,928.1 700.6,927.4 701.1,928.0 701.7,928.0 702.2,927.7 702.8,928.3 703.3,927.9 703.9,928.0 704.4,926.9 705.0,927.1 705.5,928.5 706.1,927.1 706.6,926.4 707.2,926.3 707.7,927.0 708.3,926.9 708.8,926.4 709.4,926.2 709.9,925.6 710.5,926.2 711.0,927.0 711.6,927.5 712.1,928.3 712.7,930.8 713.2,931.0 713.8,932.8 714.3,936.7 714.9,937.5 715.4,940.1 716.0,942.6 716.5,943.9 717.1,946.1 717.6,949.3 718.2,949.0 718.7,951.4 719.3,953.6 719.8,955.1 720.4,956.4 720.9,958.8 721.5,961.0 722.0,962.2 722.6,965.6 723.1,965.2 723.7,968.2 724.2,968.4 724.8,970.6 725.3,971.9 725.9,973.0 726.4,975.1 727.0,976.6 727.5,980.6 728.1,985.9 728.6,989.0 729.2,997.6 729.7,1004.6 730.3,1012.8 730.8,1020.7 731.4,1025.8 731.9,1031.6 732.5,1035.1 733.1,1041.2 733.6,1042.6 734.2,1046.8 734.7,1049.7 735.3,1052.6 735.8,1054.6 736.4,1056.9 736.9,1060.4 737.5,1059.9 738.0,1061.1 738.6,1060.9 739.1,1063.1 739.7,1062.2 740.2,1061.9 740.8,1061.4 741.3,1061.4 741.9,1059.3 742.4,1057.6 743.0,1054.7 743.5,1051.4 744.1,1049.3 744.6,1046.1 745.2,1043.4 745.7,1040.4 746.3,1038.1 746.8,1035.7 747.4,1032.9 747.9,1031.3 748.5,1027.8 749.0,1025.9 749.6,1022.6 750.1,1020.8 750.7,1015.9 751.2,1011.5 751.8,1020.2 752.3,1023.8 752.9,1025.5 753.4,1028.0 754.0,1030.2 754.5,1033.6 755.1,1036.9 755.6,1041.6 756.2,1043.4 756.7,1047.3 757.3,1051.2 757.8,1057.1 758.4,1059.3 758.9,1062.7 759.5,1065.9 760.0,1070.3 760.6,1071.0 761.1,1074.6 761.7,1077.4 762.2,1078.7 762.8,1080.1 763.3,1078.0 763.9,1078.1 764.4,1077.5 765.0,1076.1 765.5,1076.7 766.1,1076.8 766.6,1072.1 767.2,1073.4 767.8,1071.7 768.3,1072.7 768.9,1070.2 769.4,1068.4 770.0,1068.5 770.5,1069.1 771.1,1067.8 771.6,1068.1 772.2,1066.4 772.7,1065.3 773.3,1065.6 773.8,1066.7 774.4,1066.4 774.9,1066.8 775.5,1068.2 776.0,1068.1 776.6,1067.4 777.1,1066.6 777.7,1068.6 778.2,1069.3 778.8,1071.5 779.3,1071.4 779.9,1074.8 780.4,1075.0 781.0,1076.7 781.5,1079.0 782.1,1081.3 782.6,1083.1 783.2,1083.0 783.7,1085.1 784.3,1087.4 784.8,1088.7 785.4,1091.6 785.9,1092.9 786.5,1094.9 787.0,1096.2 787.6,1096.8 788.1,1096.2 788.7,1097.9 789.2,1097.7 789.8,1097.0 790.3,1095.4 790.9,1096.6 791.4,1092.9 792.0,1094.5 792.5,1093.8 793.1,1092.5 793.6,1092.2 794.2,1091.2 794.7,1091.0 795.3,1088.0 795.8,1090.0 796.4,1087.9 796.9,1087.4 797.5,1087.5 798.0,1086.2 798.6,1085.6 799.1,1085.3 799.7,1086.8 800.2,1084.3 800.8,1084.3 801.3,1084.7 801.9,1085.4 802.5,1085.2 803.0,1087.2 803.6,1084.7 804.1,1087.4 804.7,1085.5 805.2,1086.9 805.8,1086.7 806.3,1089.5 806.9,1090.1 807.4,1090.5 808.0,1093.1 808.5,1093.3 809.1,1092.9 809.6,1092.7 810.2,1096.5 810.7,1096.0 811.3,1098.3 811.8,1098.7 812.4,1099.2 812.9,1101.0 813.5,1101.7 814.0,1102.7 814.6,1103.3 815.1,1103.7 815.7,1104.0 816.2,1105.5 816.8,1106.2 817.3,1106.8 817.9,1107.6 818.4,1107.2 819.0,1107.0 819.5,1107.3 820.1,1109.6 820.6,1109.5 821.2,1109.5 821.7,1109.5 822.3,1109.0 822.8,1110.4 823.4,1111.3 823.9,1109.6 824.5,1109.9 825.0,1110.9 825.6,1111.4 826.1,1112.3 826.7,1111.8 827.2,1112.8 827.8,1112.0 828.3,1112.1 828.9,1111.8 829.4,1111.4 830.0,1113.0 830.5,1112.3 831.1,1112.1 831.6,1111.1 832.2,1112.8 832.7,1111.4 833.3,1111.2 833.8,1111.9 834.4,1110.3 834.9,1112.2 835.5,1110.7 836.1,1111.1 836.6,1110.5 837.2,1109.9 837.7,1108.2 838.3,1110.9 838.8,1108.0 839.4,1110.1 839.9,1110.4 840.5,1108.6 841.0,1108.9 841.6,1108.2 842.1,1109.3 842.7,1108.8 843.2,1110.6 843.8,1110.1 844.3,1110.8 844.9,1111.4 845.4,1110.7 846.0,1109.2 846.5,1111.8 847.1,1111.1 847.6,1112.6 848.2,1111.9 848.7,1114.3 849.3,1112.8 849.8,1114.3 850.4,1115.9 850.9,1116.3 851.5,1115.2 852.0,1116.1 852.6,1117.9 853.1,1118.5 853.7,1118.4 854.2,1119.2 854.8,1118.6 855.3,1117.3 855.9,1119.1 856.4,1120.4 857.0,1119.7 857.5,1120.7 858.1,1121.0 858.6,1120.2 859.2,1122.3 859.7,1121.0 860.3,1118.0 860.8,1121.1 861.4,1120.0 861.9,1119.5 862.5,1120.5 863.0,1120.1 863.6,1117.9 864.1,1119.2 864.7,1119.5 865.2,1119.8 865.8,1117.5 866.3,1117.5 866.9,1118.4 867.4,1117.4 868.0,1118.2 868.5,1118.4 869.1,1119.0 869.6,1117.6 870.2,1118.8 870.8,1118.7 871.3,1118.1 871.9,1117.9 872.4,1120.5 873.0,1119.2 873.5,1119.1 874.1,1119.4 874.6,1121.9 875.2,1120.0 875.7,1121.3 876.3,1120.3 876.8,1120.1 877.4,1121.8 877.9,1121.4 878.5,1122.9 879.0,1122.1 879.6,1122.5 880.1,1123.6 880.7,1123.8 881.2,1125.3 881.8,1125.2 882.3,1127.4 882.9,1125.3 883.4,1126.1 884.0,1128.4 884.5,1127.5 885.1,1127.6 885.6,1126.3 886.2,1128.0 886.7,1127.8 887.3,1128.2 887.8,1129.8 888.4,1128.7 888.9,1127.8 889.5,1128.5 890.0,1130.3 890.6,1130.0 891.1,1128.6 891.7,1127.3 892.2,1130.0 892.8,1128.8 893.3,1127.2 893.9,1128.3 894.4,1127.8 895.0,1129.2 895.5,1129.2 896.1,1130.0 896.6,1127.5 897.2,1127.6 897.7,1126.4 898.3,1129.2 898.8,1126.9 899.4,1127.8 899.9,1127.3 900.5,1128.7 901.0,1127.0 901.6,1126.8 902.1,1125.7 902.7,1126.3 903.2,1126.2 903.8,1126.7 904.3,1125.0 904.9,1124.6 905.5,1125.4 906.0,1127.3 906.6,1126.8 907.1,1126.8 907.7,1124.6 908.2,1126.8 908.8,1125.9 909.3,1126.5 909.9,1127.1 910.4,1127.7 911.0,1127.3 911.5,1126.7 912.1,1127.9 912.6,1129.6 913.2,1128.8 913.7,1128.2 914.3,1128.2 914.8,1130.5 915.4,1128.9 915.9,1128.6 916.5,1129.4 917.0,1130.2 917.6,1129.7 918.1,1130.1 918.7,1129.5 919.2,1130.1 919.8,1125.7 920.3,1130.5 920.9,1130.4 921.4,1129.9 922.0,1129.6 922.5,1131.2 923.1,1131.5 923.6,1130.2 924.2,1131.4 924.7,1130.2 925.3,1131.2 925.8,1130.3 926.4,1131.5 926.9,1131.4 927.5,1131.2 928.0,1131.1 928.6,1132.5 929.1,1131.8 929.7,1132.4 930.2,1131.4 930.8,1132.7 931.3,1133.1 931.9,1131.0 932.4,1134.3 933.0,1130.8 933.5,1132.3 934.1,1132.3 934.6,1131.4 935.2,1133.4 935.7,1132.0 936.3,1132.2 936.8,1134.8 937.4,1135.2 937.9,1134.4 938.5,1134.6 939.0,1135.4 939.6,1135.8 940.2,1135.4 940.7,1135.1 941.3,1134.9 941.8,1134.8 942.4,1134.5 942.9,1135.2 943.5,1133.6 944.0,1135.1 944.6,1135.4 945.1,1134.3 945.7,1134.4 946.2,1135.0 946.8,1134.6 947.3,1136.0 947.9,1135.5 948.4,1134.6 949.0,1134.2 949.5,1134.1 950.1,1134.9 950.6,1134.7 951.2,1133.3 951.7,1136.1 952.3,1135.6 952.8,1134.7 953.4,1135.4 953.9,1134.1 954.5,1134.4 955.0,1135.6 955.6,1133.7 956.1,1135.2 956.7,1135.3 957.2,1134.5 957.8,1136.5 958.3,1137.0 958.9,1134.3 959.4,1138.5 960.0,1137.0 960.5,1137.7 961.1,1138.7 961.6,1139.0 962.2,1138.9 962.7,1137.2 963.3,1139.5 963.8,1138.5 964.4,1138.5 964.9,1136.5 965.5,1136.9 966.0,1136.9 966.6,1137.0 967.1,1135.1 967.7,1134.7 968.2,1134.1 968.8,1134.9 969.3,1134.8 969.9,1134.5 970.4,1133.5 971.0,1133.9 971.5,1131.7 972.1,1130.2 972.6,1131.7 973.2,1132.1 973.8,1130.2 974.3,1130.5 974.9,1129.9 975.4,1129.5 976.0,1128.4 976.5,1128.7 977.1,1130.1 977.6,1129.7 978.2,1127.3 978.7,1129.7 979.3,1129.3 979.8,1129.5 980.4,1129.6 980.9,1128.7 981.5,1127.9 982.0,1130.3 982.6,1128.1 983.1,1129.6 983.7,1129.0 984.2,1131.0 984.8,1131.6 985.3,1131.2 985.9,1132.0 986.4,1132.4 987.0,1132.9 987.5,1132.8 988.1,1135.5 988.6,1134.2 989.2,1133.6 989.7,1134.9 990.3,1135.5 990.8,1135.0 991.4,1136.2 991.9,1136.6" marker-start="url(#g1)" marker-mid="url(#g1)" marker-end="url(#g1)"/>
<polyline points="205.9,1157.2 206.5,1156.6 207.0,1157.7 207.6,1156.4 208.1,1156.9 208.7,1157.6 209.2,1157.3 209.8,1157.6 210.3,1157.1 210.9,1158.3 211.4,1158.2 212.0,1158.2 212.5,1156.9 213.1,1159.7 213.6,1158.1 214.2,1159.3 214.7,1158.8 215.3,1158.6 215.8,1158.6 216.4,1158.0 217.0,1157.9 217.5,1160.0 218.1,1158.1 218.6,1159.5 219.2,1159.0 219.7,1157.8 220.3,1156.8 220.8,1157.8 221.4,1157.2 221.9,1156.7 222.5,1157.5 223.0,1158.3 223.6,1156.0 224.1,1156.0 224.7,1157.4 225.2,1156.7 225.8,1157.7 226.3,1156.8 226.9,1157.7 227.4,1155.4 228.0,1157.9 228.5,1156.7 229.1,1156.4 229.6,1157.9 230.2,1156.0 230.7,1157.5 231.3,1156.3 231.8,1156.9 232.4,1158.2 232.9,1158.1 233.5,1157.5 234.0,1157.3 234.6,1157.3 235.1,1157.3 235.7,1156.0 236.2,1157.7 236.8,1159.7 237.3,1158.1 237.9,1158.5 238.4,1157.6 239.0,1158.8 239.5,1157.8 240.1,1158.1 240.6,1158.2 241.2,1157.2 241.7,1157.4 242.3,1157.4 242.8,1157.5 243.4,1159.5 243.9,1157.6 244.5,1156.9 245.0,1156.9 245.6,1158.3 246.1,1158.7 246.7,1156.9 247.2,1157.8 247.8,1157.4 248.3,1157.7 248.9,1156.7 249.4,1158.2 250.0,1158.6 250.5,1157.1 251.1,1157.2 251.7,1157.9 252.2,1156.6 252.8,1157.3 253.3,1156.1 253.9,1157.1 254.4,1157.0 255.0,1157.7 255.5,1156.0 256.1,1157.2 256.6,1155.5 257.2,1156.2 257.7,1157.4 258.3,1156.1 258.8,1156.7 259.4,1158.7 259.9,1157.7 260.5,1158.4 261.0,1157.9 261.6,1157.3 262.1,1157.4 262.7,1158.7 263.2,1160.5 263.8,1157.5 264.3,1159.2 264.9,1157.8 265.4,1158.9 266.0,1158.6 266.5,1158.6 267.1,1157.9 267.6,1158.1 268.2,1159.2 268.7,1158.3 269.3,1156.7 269.8,1156.8 270.4,1158.4 270.9,1158.7 271.5,1158.1 272.0,1156.2 272.6,1158.1 273.1,1157.2 273.7,1158.1 274.2,1157.6 274.8,1158.3 275.3,1157.1 275.9,1155.9 276.4,1156.8 277.0,1157.4 277.5,1156.9 278.1,1157.5 278.6,1158.3 279.2,1155.9 279.7,1157.8 280.3,1156.7 280.8,1159.1 281.4,1157.3 281.9,1158.3 282.5,1158.0 283.0,1158.6 283.6,1158.4 284.1,1157.2 284.7,1158.5 285.3,1158.3 285.8,1158.2 286.4,1158.1 286.9,1158.8 287.5,1159.0 288.0,1158.0 288.6,1156.7 289.1,1157.9 289.7,1158.1 290.2,1157.5 290.8,1158.6 291.3,1111.8 291.9,1016.2 292.4,896.6 293.0,855.3 293.5,835.9 294.1,828.5 294.6,826.5 295.2,823.4 295.7,821.5 296.3,823.4 296.8,821.7 297.4,821.5 297.9,823.0 298.5,821.8 299.0,820.4 299.6,821.6 300.1,822.4 300.7,824.3 301.2,824.7 301.8,827.3 302.3,829.6 302.9,831.2 303.4,834.5 304.0,838.9 304.5,843.8 305.1,847.8 305.6,852.0 306.2,856.6 306.7,861.3 307.3,866.7 307.8,872.4 308.4,878.2 308.9,881.6 309.5,884.4 310.0,891.4 310.6,892.9 311.1,897.2 311.7,899.9 312.2,902.8 312.8,904.2 313.3,905.5 313.9,905.2 314.4,904.8 315.0,903.5 315.5,904.6 316.1,903.8 316.6,904.2 317.2,904.3 317.7,903.1 318.3,903.0 318.8,904.4 319.4,902.5 320.0,902.2 320.5,902.2 321.1,901.5 321.6,901.3 322.2,899.1 322.7,899.4 323.3,899.2 323.8,898.3 324.4,897.0 324.9,899.0 325.5,893.8 326.0,894.0 326.6,894.9 327.1,894.1 327.7,893.9 328.2,893.2 328.8,893.5 329.3,891.2 329.9,892.7 330.4,891.4 331.0,891.5 331.5,892.2 332.1,892.1 332.6,892.4 333.2,891.8 333.7,892.0 334.3,891.8 334.8,891.3 335.4,890.5 335.9,891.4 336.5,890.9 337.0,892.4 337.6,890.5 338.1,889.7 338.7,892.6 339.2,891.0 339.8,891.4 340.3,893.8 340.9,890.3 341.4,893.4 342.0,891.8 342.5,894.4 343.1,894.2 343.6,896.2 344.2,896.3 344.7,897.4 345.3,899.0 345.8,899.7 346.4,900.9 346.9,901.3 347.5,900.4 348.0,902.4 348.6,901.1 349.1,904.0 349.7,903.2 350.2,905.9 350.8,905.7 351.3,906.3 351.9,907.4 352.4,908.1 353.0,907.3 353.5,909.1 354.1,908.1 354.7,910.7 355.2,909.2 355.8,910.2 356.3,909.8 356.9,912.2 357.4,912.0 358.0,910.4 358.5,911.6 359.1,912.7 359.6,912.0 360.2,911.4 360.7,912.2 361.3,912.8 361.8,913.3 362.4,912.2 362.9,914.7 363.5,913.3 364.0,913.2 364.6,912.1 365.1,913.0 365.7,912.4 366.2,911.5 366.8,911.7 367.3,910.4 367.9,910.0 368.4,910.3 369.0,910.4 369.5,908.8 370.1,909.6 370.6,909.2 371.2,906.6 371.7,908.5 372.3,906.9 372.8,905.1 373.4,906.5 373.9,906.2 374.5,904.4 375.0,905.4 375.6,904.6 376.1,904.8 376.7,905.6 377.2,903.0 377.8,904.5 378.3,903.7 378.9,904.5 379.4,903.9 380.0,904.6 380.5,905.1 381.1,905.4 381.6,905.8 382.2,907.9 382.7,905.1 383.3,905.6 383.8,907.4 384.4,906.5 384.9,907.2 385.5,906.8 386.0,907.8 386.6,907.5 387.1,908.9 387.7,907.9 388.2,907.0 388.8,906.8 389.4,906.2 389.9,906.0 390.5,905.0 391.0,904.6 391.6,904.1 392.1,903.7 392.7,903.8 393.2,902.9 393.8,902.9 394.3,902.9 394.9,903.2 395.4,899.9 396.0,902.3 396.5,902.4 397.1,902.0 397.6,902.2 398.2,902.3 398.7,903.0 399.3,904.3 399.8,903.6 400.4,902.9 400.9,905.9 401.5,906.1 402.0,906.3 402.6,909.7 403.1,908.6 403.7,908.4 404.2,908.6 404.8,910.1 405.3,909.8 405.9,909.9 406.4,909.5 407.0,909.8 407.5,908.1 408.1,909.9 408.6,908.9 409.2,908.5 409.7,906.6 410.3,906.7 410.8,907.1 411.4,906.8 411.9,906.3 412.5,905.5 413.0,905.6 413.6,903.0 414.1,902.1 414.7,902.8 415.2,901.1 415.8,902.7 416.3,900.5 416.9,900.6 417.4,897.5 418.0,898.6 418.5,897.4 419.1,896.5 419.6,898.6 420.2,896.5 420.7,896.5 421.3,896.6 421.8,896.2 422.4,897.1 423.0,898.3 423.5,898.1 424.1,899.6 424.6,899.7 425.2,901.4 425.7,899.6 426.3,900.5 426.8,902.3 427.4,901.4 427.9,901.1 428.5,900.7 429.0,900.9 429.6,902.0 430.1,902.7 430.7,901.6 431.2,902.8 431.8,903.2 432.3,903.6 432.9,904.2 433.4,905.3 434.0,904.4 434.5,906.5 435.1,904.5 435.6,904.5 436.2,905.5 436.7,905.1 437.3,907.1 437.8,907.0 438.4,905.9 438.9,906.2 439.5,905.3 440.0,907.1 440.6,905.3 441.1,906.0 441.7,905.5 442.2,905.5 442.8,905.0 443.3,904.2 443.9,903.3 444.4,904.6 445.0,903.6 445.5,904.3 446.1,903.3 446.6,903.8 447.2,902.0 447.7,903.9 448.3,903.7 448.8,902.2 449.4,902.9 449.9,903.6 450.5,904.4 451.0,902.6 451.6,904.8 452.1,903.0 452.7,902.8 453.2,903.9 453.8,905.7 454.3,905.5 454.9,907.2 455.4,907.1 456.0,907.4 456.5,907.9 457.1,907.5 457.7,907.5 458.2,907.9 458.8,910.0 459.3,906.5 459.9,909.7 460.4,908.7 461.0,909.1 461.5,908.9 462.1,908.8 462.6,910.6 463.2,909.8 463.7,908.6 464.3,909.7 464.8,909.0 465.4,908.9 465.9,909.0 466.5,907.8 467.0,908.6 467.6,907.8 468.1,906.2 468.7,907.0 469.2,904.8 469.8,907.3 470.3,904.6 470.9,905.9 471.4,905.2 472.0,904.5 472.5,905.1 473.1,903.5 473.6,904.6 474.2,903.4 474.7,904.1 475.3,906.0 475.8,904.0 476.4,904.1 476.9,903.5 477.5,904.2 478.0,903.6 478.6,905.3 479.1,903.7 479.7,904.0 480.2,903.1 480.8,904.1 481.3,905.7 481.9,902.7 482.4,903.6 483.0,905.2 483.5,904.4 484.1,906.2 484.6,905.8 485.2,905.7 485.7,905.6 486.3,908.0 486.8,906.3 487.4,905.9 487.9,905.9 488.5,906.7 489.0,907.1 489.6,907.1 490.1,907.4 490.7,907.9 491.2,907.1 491.8,906.2 492.4,907.6 492.9,905.9 493.5,905.4 494.0,907.1 494.6,907.0 495.1,905.6 495.7,905.6 496.2,904.8 496.8,905.9 497.3,904.5 497.9,906.2 498.4,905.3 499.0,905.3 499.5,905.7 500.1,907.1 500.6,905.8 501.2,905.5 501.7,906.2 502.3,906.3 502.8,905.5 503.4,907.4 503.9,906.9 504.5,908.7 505.0,908.5 505.6,909.7 506.1,907.8 506.7,909.6 507.2,910.2 507.8,909.1 508.3,910.7 508.9,910.6 509.4,910.2 510.0,910.2 510.5,909.7 511.1,911.1 511.6,910.7 512.2,910.3 512.7,910.9 513.3,910.7 513.8,908.6 514.4,909.5 514.9,909.2 515.5,907.7 516.0,908.3 516.6,907.3 517.1,908.1 517.7,906.5 518.2,906.3 518.8,907.6 519.3,905.4 519.9,904.4 520.4,905.9 521.0,905.3 521.5,904.1 522.1,906.3 522.6,905.0 523.2,905.9 523.7,905.4 524.3,905.0 524.8,904.4 525.4,906.1 525.9,905.4 526.5,906.4 527.1,905.2 527.6,904.1 528.2,905.6 528.7,905.2 529.3,904.5 529.8,903.9 530.4,904.2 530.9,904.9 531.5,907.6 532.0,906.0 532.6,905.2 533.1,906.4 533.7,906.6 534.2,906.4 534.8,905.5 535.3,906.0 535.9,907.0 536.4,908.2 537.0,908.3 537.5,906.7 538.1,906.5 538.6,908.2 539.2,907.9 539.7,909.2 540.3,908.7 540.8,907.5 541.4,907.6 541.9,906.4 542.5,907.5 543.0,908.4 543.6,907.3 544.1,907.5 544.7,906.7 545.2,905.7 545.8,906.2 546.3,905.1 546.9,906.2 547.4,904.0 548.0,905.2 548.5,903.4 549.1,903.6 549.6,904.7 550.2,904.5 550.7,903.9 551.3,904.1 551.8,904.4 552.4,904.3 552.9,905.1 553.5,905.4 554.0,905.1 554.6,904.4 555.1,905.6 555.7,904.7 556.2,905.9 556.8,907.0 557.3,906.5 557.9,908.2 558.4,908.4 559.0,909.1 559.5,907.1 560.1,907.7 560.7,909.0 561.2,908.5 561.8,910.2 562.3,909.7 562.9,908.9 563.4,908.7 564.0,909.2 564.5,910.2 565.1,910.6 565.6,910.4 566.2,910.4 566.7,908.0 567.3,907.6 567.8,906.7 568.4,907.2 568.9,904.8 569.5,904.9 570.0,906.6 570.6,904.8 571.1,904.3 571.7,905.0 572.2,904.9 572.8,905.5 573.3,904.3 573.9,904.3 574.4,904.8 575.0,904.0 575.5,905.4 576.1,902.8 576.6,905.3 577.2,904.4 577.7,904.7 578.3,902.8 578.8,903.7 579.4,903.5 579.9,905.2 580.5,903.5 581.0,906.0 581.6,906.4 582.1,904.7 582.7,904.7 583.2,906.5 583.8,905.1 584.3,905.0 584.9,907.2 585.4,907.6 586.0,907.0 586.5,907.9 587.1,908.4 587.6,906.8 588.2,908.8 588.7,908.3 589.3,908.2 589.8,908.1 590.4,908.4 590.9,908.9 591.5,907.8 592.0,907.7 592.6,906.8 593.1,905.6 593.7,905.3 594.2,903.6 594.8,903.9 595.4,902.8 595.9,902.8 596.5,903.5 597.0,902.6 597.6,902.5 598.1,901.1 598.7,902.6 599.2,901.4 599.8,901.0 600.3,900.6 600.9,901.7 601.4,900.5 602.0,900.5 602.5,902.2 603.1,900.5 603.6,901.3 604.2,902.1 604.7,902.2 605.3,901.3 605.8,902.0 606.4,902.7 606.9,901.8 607.5,904.1 608.0,903.5 608.6,903.6 609.1,903.8 609.7,904.7 610.2,903.8 610.8,905.3 611.3,904.5 611.9,904.7 612.4,906.7 613.0,905.8 613.5,907.1 614.1,904.2 614.6,907.6 615.2,905.6 615.7,906.8 616.3,907.7 616.8,905.9 617.4,903.3 617.9,904.8 618.5,904.0 619.0,904.7 619.6,903.0 620.1,904.1 620.7,902.5 621.2,903.2 621.8,903.1 622.3,902.3 622.9,900.1 623.4,901.4 624.0,901.1 624.5,899.8 625.1,900.3 625.6,901.7 626.2,898.8 626.7,898.4 627.3,899.8 627.8,899.3 628.4,900.9 628.9,900.0 629.5,901.8 630.1,899.4 630.6,900.9 631.2,900.3 631.7,901.1 632.3,901.8 632.8,899.7 633.4,900.6 633.9,901.3 634.5,901.5 635.0,902.4 635.6,902.9 636.1,902.1 636.7,903.4 637.2,902.0 637.8,903.9 638.3,904.2 638.9,904.5 639.4,903.1 640.0,903.0 640.5,903.4 641.1,903.2 641.6,903.7 642.2,904.6 642.7,904.6 643.3,904.1 643.8,904.5 644.4,902.7 644.9,904.5 645.5,903.5 646.0,904.1 646.6,904.8 647.1,903.8 647.7,904.8 648.2,903.5 648.8,904.6 649.3,904.8 649.9,903.0 650.4,903.8 651.0,903.2 651.5,903.8 652.1,903.4 652.6,903.6 653.2,903.6 653.7,901.4 654.3,903.2 654.8,902.8 655.4,901.3 655.9,901.4 656.5,902.9 657.0,903.1 657.6,902.5 658.1,902.1 658.7,901.4 659.2,902.0 659.8,903.9 660.3,902.2 660.9,903.3 661.4,902.9 662.0,903.9 662.5,903.2 663.1,904.4 663.6,903.9 664.2,905.3 664.8,904.2 665.3,906.8 665.9,905.0 666.4,906.6 667.0,904.3 667.5,907.4 668.1,906.1 668.6,905.5 669.2,906.8 669.7,905.8 670.3,904.7 670.8,905.5 671.4,905.8 671.9,905.2 672.5,903.7 673.0,905.6 673.6,902.6 674.1,904.7 674.7,904.0 675.2,903.3 675.8,903.3 676.3,903.7 676.9,901.8 677.4,903.8 678.0,903.0 678.5,903.2 679.1,903.3 679.6,903.5 680.2,902.3 680.7,904.1 681.3,903.9 681.8,903.8 682.4,903.8 682.9,904.7 683.5,904.1 684.0,903.6 684.6,902.9 685.1,901.5 685.7,903.8 686.2,902.7 686.8,902.4 687.3,901.8 687.9,902.1 688.4,902.1 689.0,902.5 689.5,901.2 690.1,902.7 690.6,902.2 691.2,902.9 691.7,902.0 692.3,900.9 692.8,901.6 693.4,901.5 693.9,901.7 694.5,901.2 695.0,901.4 695.6,902.1 696.1,903.2 696.7,901.7 697.2,901.5 697.8,902.2 698.4,903.7 698.9,900.7 699.5,901.1 700.0,902.3 700.6,902.1 701.1,902.3 701.7,902.0 702.2,902.1 702.8,901.1 703.3,902.2 703.9,901.4 704.4,902.7 705.0,901.6 705.5,901.4 706.1,902.3 706.6,901.3 707.2,901.9 707.7,901.2 708.3,900.9 708.8,901.4 709.4,900.7 709.9,902.4 710.5,901.1 711.0,901.5 711.6,904.1 712.1,904.2 712.7,905.7 713.2,907.1 713.8,908.0 714.3,911.5 714.9,914.4 715.4,917.0 716.0,918.4 716.5,921.4 717.1,923.2 717.6,925.2 718.2,928.8 718.7,929.7 719.3,933.7 719.8,935.5 720.4,937.7 720.9,939.8 721.5,941.0 722.0,945.0 722.6,945.9 723.1,949.6 723.7,950.2 724.2,950.6 724.8,951.9 725.3,953.4 725.9,954.4 726.4,953.2 727.0,955.3 727.5,958.1 728.1,960.1 728.6,965.8 729.2,974.2 729.7,984.4 730.3,996.3 730.8,1003.6 731.4,1012.4 731.9,1020.3 732.5,1028.7 733.1,1035.2 733.6,1041.7 734.2,1046.8 734.7,1051.5 735.3,1054.5 735.8,1058.2 736.4,1061.6 736.9,1063.6 737.5,1066.1 738.0,1066.4 738.6,1070.8 739.1,1070.6 739.7,1071.7 740.2,1071.7 740.8,1073.0 741.3,1071.3 741.9,1067.1 742.4,1062.1 743.0,1059.3 743.5,1056.0 744.1,1051.4 744.6,1046.9 745.2,1044.4 745.7,1039.2 746.3,1037.6 746.8,1034.2 747.4,1030.8 747.9,1028.4 748.5,1023.1 749.0,1021.1 749.6,1017.8 750.1,1012.4 750.7,1003.7 751.2,993.0 751.8,1006.1 752.3,1013.5 752.9,1017.1 753.4,1018.6 754.0,1020.0 754.5,1024.6 755.1,1027.5 755.6,1031.4 756.2,1036.6 756.7,1043.8 757.3,1045.6 757.8,1051.4 758.4,1054.4 758.9,1059.4 759.5,1064.9 760.0,1068.6 760.6,1073.9 761.1,1076.2 761.7,1077.2 762.2,1080.2 762.8,1079.1 763.3,1080.6 763.9,1079.3 764.4,1077.5 765.0,1076.5 765.5,1074.1 766.1,1074.2 766.6,1070.5 767.2,1071.4 767.8,1069.5 768.3,1068.2 768.9,1066.9 769.4,1065.6 770.0,1063.5 770.5,1061.5 771.1,1062.0 771.6,1060.9 772.2,1057.8 772.7,1057.9 773.3,1058.3 773.8,1056.9 774.4,1057.2 774.9,1057.1 775.5,1059.4 776.0,1059.1 776.6,1057.3 777.1,1059.3 777.7,1060.2 778.2,1061.0 778.8,1063.6 779.3,1067.0 779.9,1067.2 780.4,1069.5 781.0,1070.9 781.5,1073.1 782.1,1075.6 782.6,1079.4 783.2,1083.0 783.7,1082.7 784.3,1084.8 784.8,1088.4 785.4,1089.2 785.9,1091.4 786.5,1093.8 787.0,1094.7 787.6,1095.6 788.1,1097.3 788.7,1097.2 789.2,1097.4 789.8,1096.0 790.3,1094.2 790.9,1094.1 791.4,1094.1 792.0,1091.9 792.5,1090.6 793.1,1088.9 793.6,1087.9 794.2,1087.8 794.7,1089.4 795.3,1086.8 795.8,1084.5 796.4,1086.5 796.9,1084.7 797.5,1084.7 798.0,1083.8 798.6,1081.8 799.1,1082.3 799.7,1081.1 800.2,1080.6 800.8,1081.3 801.3,1079.7 801.9,1080.6 802.5,1079.4 803.0,1079.2 803.6,1079.7 804.1,1080.5 804.7,1081.4 805.2,1080.8 805.8,1082.0 806.3,1082.2 806.9,1082.8 807.4,1085.9 808.0,1085.0 808.5,1088.3 809.1,1088.4 809.6,1090.7 810.2,1091.4 810.7,1094.1 811.3,1094.3 811.8,1094.1 812.4,1098.1 812.9,1098.0 813.5,1099.4 814.0,1100.2 814.6,1100.2 815.1,1101.3 815.7,1101.8 816.2,1103.2 816.8,1103.6 817.3,1102.0 817.9,1105.9 818.4,1106.3 819.0,1105.5 819.5,1106.3 820.1,1107.7 820.6,1107.3 821.2,1107.8 821.7,1107.4 822.3,1108.0 822.8,1108.0 823.4,1109.3 823.9,1109.9 824.5,1110.0 825.0,1109.2 825.6,1110.2 826.1,1111.2 826.7,1110.5 827.2,1110.8 827.8,1110.8 828.3,1110.4 828.9,1111.6 829.4,1111.6 830.0,1111.2 830.5,1111.2 831.1,1110.9 831.6,1111.6 832.2,1111.3 832.7,1112.1 833.3,1110.5 833.8,1111.1 834.4,1110.3 834.9,1110.2 835.5,1111.6 836.1,1109.0 836.6,1109.8 837.2,1109.2 837.7,1109.9 838.3,1108.0 838.8,1108.6 839.4,1107.7 839.9,1107.4 840.5,1107.6 841.0,1108.3 841.6,1107.8 842.1,1106.7 842.7,1107.4 843.2,1108.0 843.8,1107.5 844.3,1108.0 844.9,1108.0 845.4,1107.0 846.0,1109.4 846.5,1108.4 847.1,1109.5 847.6,1111.4 848.2,1110.5 848.7,1112.3 849.3,1113.0 849.8,1114.7 850.4,1114.1 850.9,1115.4 851.5,1116.2 852.0,1117.3 852.6,1116.9 853.1,1116.6 853.7,1116.6 854.2,1115.4 854.8,1117.9 855.3,1119.4 855.9,1119.3 856.4,1117.5 857.0,1118.0 857.5,1118.3 858.1,1118.6 858.6,1119.3 859.2,1120.1 859.7,1118.4 860.3,1118.3 860.8,1117.2 861.4,1118.7 861.9,1117.0 862.5,1118.1 863.0,1118.2 863.6,1118.1 864.1,1117.7 864.7,1116.6 865.2,1115.8 865.8,1116.1 866.3,1116.1 866.9,1115.6 867.4,1116.4 868.0,1115.8 868.5,1116.4 869.1,1118.1 869.6,1116.9 870.2,1117.8 870.8,1118.3 871.3,1117.7 871.9,1119.1 872.4,1117.9 873.0,1118.3 873.5,1120.0 874.1,1118.2 874.6,1118.9 875.2,1119.0 875.7,1120.5 876.3,1119.7 876.8,1120.0 877.4,1119.6 877.9,1120.1 878.5,1120.4 879.0,1121.9 879.6,1120.0 880.1,1121.0 880.7,1122.6 881.2,1122.7 881.8,1126.3 882.3,1125.2 882.9,1124.4 883.4,1126.1 884.0,1125.6 884.5,1124.9 885.1,1127.1 885.6,1126.5 886.2,1127.2 886.7,1128.0 887.3,1127.6 887.8,1128.6 888.4,1128.7 888.9,1127.0 889.5,1128.6 890.0,1127.3 890.6,1129.4 891.1,1127.1 891.7,1127.9 892.2,1127.7 892.8,1127.3 893.3,1126.9 893.9,1126.9 894.4,1126.7 895.0,1125.0 895.5,1125.8 896.1,1127.7 896.6,1126.2 897.2,1125.6 897.7,1124.6 898.3,1124.6 898.8,1125.1 899.4,1125.5 899.9,1124.2 900.5,1124.0 901.0,1123.1 901.6,1124.1 902.1,1124.1 902.7,1125.3 903.2,1123.6 903.8,1123.9 904.3,1123.2 904.9,1123.5 905.5,1124.2 906.0,1123.8 906.6,1124.3 907.1,1124.6 907.7,1123.7 908.2,1124.3 908.8,1124.6 909.3,1124.0 909.9,1125.1 910.4,1125.9 911.0,1125.7 911.5,1126.4 912.1,1127.1 912.6,1127.4 913.2,1127.5 913.7,1129.8 914.3,1128.1 914.8,1126.6 915.4,1127.8 915.9,1127.0 916.5,1127.9 917.0,1129.1 917.6,1127.5 918.1,1127.8 918.7,1129.6 919.2,1128.7 919.8,1128.8 920.3,1128.5 920.9,1127.6 921.4,1130.0 922.0,1127.1 922.5,1127.9 923.1,1128.4 923.6,1127.2 924.2,1129.4 924.7,1128.6 925.3,1128.1 925.8,1128.4 926.4,1128.2 926.9,1125.9 927.5,1127.8 928.0,1128.3 928.6,1128.3 929.1,1128.8 929.7,1128.7 930.2,1129.6 930.8,1129.8 931.3,1129.1 931.9,1129.1 932.4,1131.0 933.0,1130.2 933.5,1131.2 934.1,1131.4 934.6,1133.2 935.2,1131.5 935.7,1131.5 936.3,1132.0 936.8,1131.3 937.4,1132.3 937.9,1132.3 938.5,1132.7 939.0,1135.0 939.6,1134.3 940.2,1136.1 940.7,1134.6 941.3,1136.4 941.8,1137.6 942.4,1134.6 942.9,1136.1 943.5,1135.3 944.0,1134.7 944.6,1134.5 945.1,1134.9 945.7,1133.4 946.2,1135.5 946.8,1135.7 947.3,1133.0 947.9,1134.2 948.4,1133.2 949.0,1132.7 949.5,1133.2 950.1,1133.0 950.6,1133.4 951.2,1132.8 951.7,1133.4 952.3,1133.7 952.8,1131.8 953.4,1131.5 953.9,1132.1 954.5,1133.8 955.0,1132.9 955.6,1133.4 956.1,1134.4 956.7,1134.2 957.2,1134.8 957.8,1133.7 958.3,1134.4 958.9,1135.7 959.4,1136.6 960.0,1135.2 960.5,1136.1 961.1,1136.9 961.6,1135.7 962.2,1136.4 962.7,1136.9 963.3,1137.2 963.8,1135.5 964.4,1137.6 964.9,1137.7 965.5,1136.9 966.0,1135.5 966.6,1136.4 967.1,1135.5 967.7,1135.2 968.2,1135.3 968.8,1133.5 969.3,1134.4 969.9,1133.3 970.4,1132.3 971.0,1133.3 971.5,1131.3 972.1,1130.6 972.6,1130.7 973.2,1131.9 973.8,1129.6 974.3,1130.9 974.9,1129.3 975.4,1130.4 976.0,1129.9 976.5,1128.9 977.1,1130.6 977.6,1129.2 978.2,1129.6 978.7,1130.0 979.3,1129.6 979.8,1130.0 980.4,1130.6 980.9,1131.1 981.5,1129.8 982.0,1130.9 982.6,1129.7 983.1,1130.9 983.7,1129.3 984.2,1129.7 984.8,1129.9 985.3,1131.6 985.9,1131.4 986.4,1132.0 987.0,1132.8 987.5,1132.1 988.1,1132.6 988.6,1134.8 989.2,1132.1 989.7,1134.5 990.3,1134.2 990.8,1135.1 991.4,1134.8 991.9,1136.3" marker-start="url(#g2)" marker-mid="url(#g2)" marker-end="url(#g2)"/>
<polyline points="205.9,1159.0 206.5,1158.1 207.0,1158.1 207.6,1158.0 208.1,1156.8 208.7,1158.3 209.2,1157.4 209.8,1157.3 210.3,1158.0 210.9,1158.5 211.4,1157.8 212.0,1158.6 212.5,1158.3 213.1,1157.8 213.6,1159.0 214.2,1156.4 214.7,1158.8 215.3,1159.1 215.8,1159.6 216.4,1158.1 217.0,1157.9 217.5,1157.6 218.1,1157.7 218.6,1156.8 219.2,1156.7 219.7,1158.3 220.3,1156.8 220.8,1157.3 221.4,1155.8 221.9,1157.6 222.5,1155.3 223.0,1156.4 223.6,1156.4 224.1,1156.9 224.7,1156.9 225.2,1156.5 225.8,1156.1 226.3,1158.1 226.9,1157.5 227.4,1156.3 228.0,1156.8 228.5,1157.6 229.1,1158.6 229.6,1158.8 230.2,1157.5 230.7,1158.4 231.3,1156.6 231.8,1157.2 232.4,1157.8 232.9,1158.4 233.5,1156.2 234.0,1156.1 234.6,1156.0 235.1,1157.7 235.7,1156.1 236.2,1156.6 236.8,1155.8 237.3,1157.1 237.9,1157.1 238.4,1157.7 239.0,1154.9 239.5,1157.4 240.1,1157.3 240.6,1157.6 241.2,1159.5 241.7,1155.7 242.3,1157.7 242.8,1157.0 243.4,1156.9 243.9,1157.3 244.5,1157.9 245.0,1157.6 245.6,1156.4 246.1,1157.2 246.7,1156.9 247.2,1157.4 247.8,1157.0 248.3,1158.1 248.9,1160.0 249.4,1158.2 250.0,1159.2 250.5,1157.3 251.1,1158.0 251.7,1158.8 252.2,1157.6 252.8,1157.9 253.3,1158.8 253.9,1159.2 254.4,1158.9 255.0,1158.0 255.5,1157.7 256.1,1159.0 256.6,1156.7 257.2,1157.7 257.7,1157.5 258.3,1159.1 258.8,1157.6 259.4,1157.8 259.9,1155.6 260.5,1156.3 261.0,1157.0 261.6,1156.8 262.1,1155.2 262.7,1156.4 263.2,1156.0 263.8,1156.8 264.3,1158.2 264.9,1156.6 265.4,1156.0 266.0,1159.0 266.5,1155.8 267.1,1157.0 267.6,1156.7 268.2,1156.7 268.7,1157.5 269.3,1157.8 269.8,1156.1 270.4,1156.8 270.9,1156.2 271.5,1157.2 272.0,1157.2 272.6,1158.1 273.1,1157.1 273.7,1158.2 274.2,1156.9 274.8,1156.8 275.3,1157.4 275.9,1159.2 276.4,1156.6 277.0,1158.1 277.5,1157.1 278.1,1157.6 278.6,1157.5 279.2,1157.6 279.7,1157.2 280.3,1157.8 280.8,1158.2 281.4,1159.0 281.9,1159.2 282.5,1158.6 283.0,1157.3 283.6,1158.3 284.1,1158.1 284.7,1156.4 285.3,1157.9 285.8,1159.1 286.4,1158.1 286.9,1101.8 287.5,996.7 288.0,868.5 288.6,829.9 289.1,810.7 289.7,804.9 290.2,800.8 290.8,797.9 291.3,796.7 291.9,795.0 292.4,796.1 293.0,795.1 293.5,793.6 294.1,795.9 294.6,795.4 295.2,795.8 295.7,794.6 296.3,794.6 296.8,796.4 297.4,794.9 297.9,794.5 298.5,794.0 299.0,796.8 299.6,795.6 300.1,797.1 300.7,797.7 301.2,797.4 301.8,800.4 302.3,800.7 302.9,802.4 303.4,803.4 304.0,802.6 304.5,804.5 305.1,806.0 305.6,806.8 306.2,807.7 306.7,809.2 307.3,809.8 307.8,811.5 308.4,810.3 308.9,811.7 309.5,813.3 310.0,815.7 310.6,816.3 311.1,816.7 311.7,819.4 312.2,820.2 312.8,820.8 313.3,821.2 313.9,822.7 314.4,827.1 315.0,827.2 315.5,827.6 316.1,829.1 316.6,830.2 317.2,831.9 317.7,833.5 318.3,836.0 318.8,836.5 319.4,839.4 320.0,841.7 320.5,842.8 321.1,846.3 321.6,848.7 322.2,850.9 322.7,854.0 323.3,855.4 323.8,858.2 324.4,859.6 324.9,862.5 325.5,866.8 326.0,867.7 326.6,870.0 327.1,871.3 327.7,873.6 328.2,874.0 328.8,876.2 329.3,874.1 329.9,875.2 330.4,877.1 331.0,876.2 331.5,877.8 332.1,877.0 332.6,879.6 333.2,878.7 333.7,880.4 334.3,879.1 334.8,879.7 335.4,879.5 335.9,880.9 336.5,881.4 337.0,882.9 337.6,881.8 338.1,881.7 338.7,883.0 339.2,881.7 339.8,881.2 340.3,881.9 340.9,882.2 341.4,883.3 342.0,883.4 342.5,883.7 343.1,882.9 343.6,883.9 344.2,886.8 344.7,887.7 345.3,887.3 345.8,888.8 346.4,889.1 346.9,888.1 347.5,889.9 348.0,889.2 348.6,891.1 349.1,890.0 349.7,891.0 350.2,892.0 350.8,892.9 351.3,894.4 351.9,893.5 352.4,893.2 353.0,894.5 353.5,894.6 354.1,894.9 354.7,895.0 355.2,895.3 355.8,895.8 356.3,895.8 356.9,895.8 357.4,896.1 358.0,897.4 358.5,894.6 359.1,897.2 359.6,896.5 360.2,895.7 360.7,897.5 361.3,896.7 361.8,895.7 362.4,895.7 362.9,896.0 363.5,896.5 364.0,895.5 364.6,895.5 365.1,894.0 365.7,892.5 366.2,891.6 366.8,891.3 367.3,891.6 367.9,891.4 368.4,890.3 369.0,889.9 369.5,888.5 370.1,888.8 370.6,887.7 371.2,888.2 371.7,886.7 372.3,887.6 372.8,885.6 373.4,884.8 373.9,885.3 374.5,885.9 375.0,884.4 375.6,886.0 376.1,884.4 376.7,885.1 377.2,884.8 377.8,885.7 378.3,886.7 378.9,885.6 379.4,887.0 380.0,887.1 380.5,887.4 381.1,887.7 381.6,889.4 382.2,890.4 382.7,890.5 383.3,891.0 383.8,891.1 384.4,892.0 384.9,893.2 385.5,894.2 386.0,891.4 386.6,892.9 387.1,892.8 387.7,893.1 388.2,893.0 388.8,894.3 389.4,893.6 389.9,892.9 390.5,894.3 391.0,894.6 391.6,892.4 392.1,892.0 392.7,892.2 393.2,892.7 393.8,890.9 394.3,892.7 394.9,890.0 395.4,889.6 396.0,889.5 396.5,890.2 397.1,888.8 397.6,886.9 398.2,887.4 398.7,887.8 399.3,887.6 399.8,887.0 400.4,886.4 400.9,886.3 401.5,886.2 402.0,886.7 402.6,886.7 403.1,886.1 403.7,887.1 404.2,886.4 404.8,886.3 405.3,887.1 405.9,888.1 406.4,886.5 407.0,886.2 407.5,884.7 408.1,887.5 408.6,885.0 409.2,885.4 409.7,885.8 410.3,886.1 410.8,885.4 411.4,886.4 411.9,885.2 412.5,884.5 413.0,884.7 413.6,883.2 414.1,882.9 414.7,883.1 415.2,882.0 415.8,882.9 416.3,881.4 416.9,881.7 417.4,881.0 418.0,882.0 418.5,879.8 419.1,880.8 419.6,878.2 420.2,879.1 420.7,879.1 421.3,879.6 421.8,879.1 422.4,878.6 423.0,878.5 423.5,877.6 424.1,879.3 424.6,879.7 425.2,879.8 425.7,880.1 426.3,879.8 426.8,881.4 427.4,882.2 427.9,882.3 428.5,882.7 429.0,882.7 429.6,882.1 430.1,886.0 430.7,883.1 431.2,883.9 431.8,883.4 432.3,884.3 432.9,885.4 433.4,884.0 434.0,884.4 434.5,885.5 435.1,884.6 435.6,885.4 436.2,886.5 436.7,886.5 437.3,886.9 437.8,886.5 438.4,885.6 438.9,888.4 439.5,886.8 440.0,886.7 440.6,885.2 441.1,886.6 441.7,886.9 442.2,887.2 442.8,886.9 443.3,886.9 443.9,886.1 444.4,884.3 445.0,884.9 445.5,884.0 446.1,885.1 446.6,885.0 447.2,884.0 447.7,885.8 448.3,884.4 448.8,884.1 449.4,883.7 449.9,885.2 450.5,884.3 451.0,884.6 451.6,886.0 452.1,884.8 452.7,884.3 453.2,885.9 453.8,887.6 454.3,889.6 454.9,887.2 455.4,888.8 456.0,887.5 456.5,888.6 457.1,888.8 457.7,889.3 458.2,889.8 458.8,888.8 459.3,892.9 459.9,889.2 460.4,890.5 461.0,890.7 461.5,890.1 462.1,892.9 462.6,891.5 463.2,892.3 463.7,891.2 464.3,891.9 464.8,891.6 465.4,890.8 465.9,891.2 466.5,891.3 467.0,889.8 467.6,891.7 468.1,890.8 468.7,891.0 469.2,888.3 469.8,889.5 470.3,888.5 470.9,888.6 471.4,887.2 472.0,888.6 472.5,886.6 473.1,887.9 473.6,889.2 474.2,887.4 474.7,886.0 475.3,886.5 475.8,887.2 476.4,886.1 476.9,886.3 477.5,884.7 478.0,885.5 478.6,885.9 479.1,883.9 479.7,885.8 480.2,884.0 480.8,885.3 481.3,883.6 481.9,884.8 482.4,883.5 483.0,885.2 483.5,884.0 484.1,885.6 484.6,884.9 485.2,884.3 485.7,885.5 486.3,886.1 486.8,886.5 487.4,886.1 487.9,887.5 488.5,886.0 489.0,885.7 489.6,886.8 490.1,887.0 490.7,885.9 491.2,886.1 491.8,886.7 492.4,885.9 492.9,886.6 493.5,886.4 494.0,886.6 494.6,885.3 495.1,887.5 495.7,885.3 496.2,887.4 496.8,886.7 497.3,888.0 497.9,887.4 498.4,888.9 499.0,885.9 499.5,888.3 500.1,886.5 500.6,886.9 501.2,886.2 501.7,889.0 502.3,888.0 502.8,888.7 503.4,888.7 503.9,888.7 504.5,888.8 505.0,887.8 505.6,888.8 506.1,890.2 506.7,890.5 507.2,890.8 507.8,890.7 508.3,891.4 508.9,889.5 509.4,890.4 510.0,891.6 510.5,892.9 511.1,891.5 511.6,891.6 512.2,891.6 512.7,891.3 513.3,891.9 513.8,891.6 514.4,891.0 514.9,892.0 515.5,890.5 516.0,890.4 516.6,889.9 517.1,889.2 517.7,889.4 518.2,889.9 518.8,889.6 519.3,887.8 519.9,886.8 520.4,886.3 521.0,885.0 521.5,887.3 522.1,884.3 522.6,885.6 523.2,885.8 523.7,884.1 524.3,883.9 524.8,885.5 525.4,885.1 525.9,885.3 526.5,885.1 527.1,886.7 527.6,885.5 528.2,886.1 528.7,887.1 529.3,887.0 529.8,886.1 530.4,885.8 530.9,887.1 531.5,886.8 532.0,887.3 532.6,885.7 533.1,887.0 533.7,888.6 534.2,886.4 534.8,889.1 535.3,888.7 535.9,888.5 536.4,887.9 537.0,887.7 537.5,889.9 538.1,889.8 538.6,888.9 539.2,891.3 539.7,888.7 540.3,889.0 540.8,891.2 541.4,889.8 541.9,889.6 542.5,888.9 543.0,887.1 543.6,888.3 544.1,888.1 544.7,887.1 545.2,886.8 545.8,887.0 546.3,886.5 546.9,885.7 547.4,885.1 548.0,886.8 548.5,885.8 549.1,885.5 549.6,884.1 550.2,885.3 550.7,885.4 551.3,885.0 551.8,884.7 552.4,884.2 552.9,886.1 553.5,886.0 554.0,885.0 554.6,886.5 555.1,886.0 555.7,886.5 556.2,886.4 556.8,887.2 557.3,888.0 557.9,888.3 558.4,888.9 559.0,889.0 559.5,889.0 560.1,890.6 560.7,891.0 561.2,889.3 561.8,889.9 562.3,890.6 562.9,890.5 563.4,889.3 564.0,890.7 564.5,889.5 565.1,889.4 565.6,891.5 566.2,889.4 566.7,888.7 567.3,889.0 567.8,888.4 568.4,888.1 568.9,888.3 569.5,888.7 570.0,886.6 570.6,887.6 571.1,886.5 571.7,886.9 572.2,886.9 572.8,884.6 573.3,886.3 573.9,885.1 574.4,884.3 575.0,884.5 575.5,884.8 576.1,885.6 576.6,883.6 577.2,884.9 577.7,885.7 578.3,885.7 578.8,885.8 579.4,886.1 579.9,887.1 580.5,887.4 581.0,885.7 581.6,886.6 582.1,886.7 582.7,888.3 583.2,888.5 583.8,887.9 584.3,887.4 584.9,888.3 585.4,888.3 586.0,889.5 586.5,888.8 587.1,888.3 587.6,889.5 588.2,889.2 588.7,888.2 589.3,888.4 589.8,889.6 590.4,888.9 590.9,888.4 591.5,890.4 592.0,888.4 592.6,887.3 593.1,886.1 593.7,887.5 594.2,886.3 594.8,885.3 595.4,883.8 595.9,885.3 596.5,882.3 597.0,884.1 597.6,883.8 598.1,883.7 598.7,884.0 599.2,882.8 599.8,883.0 600.3,883.8 600.9,881.6 601.4,883.3 602.0,882.6 602.5,882.1 603.1,881.7 603.6,882.0 604.2,880.1 604.7,882.9 605.3,882.1 605.8,883.0 606.4,881.7 606.9,883.6 607.5,882.4 608.0,882.7 608.6,883.1 609.1,883.9 609.7,883.7 610.2,883.3 610.8,885.2 611.3,885.8 611.9,886.2 612.4,884.0 613.0,884.5 613.5,885.5 614.1,885.9 614.6,886.3 615.2,885.1 615.7,885.7 616.3,883.4 616.8,886.2 617.4,884.9 617.9,885.5 618.5,883.5 619.0,884.1 619.6,885.8 620.1,884.0 620.7,882.6 621.2,882.6 621.8,883.2 622.3,882.9 622.9,882.6 623.4,882.5 624.0,883.3 624.5,881.9 625.1,880.8 625.6,882.7 626.2,882.1 626.7,882.1 627.3,881.9 627.8,882.0 628.4,881.9 628.9,883.3 629.5,882.4 630.1,880.9 630.6,882.0 631.2,882.6 631.7,883.8 632.3,883.6 632.8,883.0 633.4,885.2 633.9,883.1 634.5,884.3 635.0,884.7 635.6,882.9 636.1,883.9 636.7,884.8 637.2,884.9 637.8,884.1 638.3,885.2 638.9,883.8 639.4,882.5 640.0,884.1 640.5,884.4 641.1,885.2 641.6,884.8 642.2,884.4 642.7,884.2 643.3,882.3 643.8,884.3 644.4,884.6 644.9,884.0 645.5,883.2 646.0,883.6 646.6,885.1 647.1,882.8 647.7,883.2 648.2,884.5 648.8,884.2 649.3,884.4 649.9,883.5 650.4,883.3 651.0,883.8 651.5,883.5 652.1,884.5 652.6,883.9 653.2,882.9 653.7,884.0 654.3,885.1 654.8,883.4 655.4,883.7 655.9,883.0 656.5,883.8 657.0,882.9 657.6,883.4 658.1,882.2 658.7,883.6 659.2,884.0 659.8,883.5 660.3,884.7 660.9,884.2 661.4,887.2 662.0,885.1 662.5,886.0 663.1,886.5 663.6,884.4 664.2,885.3 664.8,886.7 665.3,886.5 665.9,883.6 666.4,885.1 667.0,884.9 667.5,885.5 668.1,887.2 668.6,886.4 669.2,885.5 669.7,885.5 670.3,885.7 670.8,885.1 671.4,883.7 671.9,885.5 672.5,884.8 673.0,885.8 673.6,884.2 674.1,882.5 674.7,882.1 675.2,884.2 675.8,882.6 676.3,883.3 676.9,882.1 677.4,881.9 678.0,882.6 678.5,881.0 679.1,881.9 679.6,880.9 680.2,880.3 680.7,883.2 681.3,881.2 681.8,882.3 682.4,881.5 682.9,882.8 683.5,880.8 684.0,882.8 684.6,882.3 685.1,881.1 685.7,880.7 686.2,879.8 686.8,879.5 687.3,880.3 687.9,880.8 688.4,881.4 689.0,880.1 689.5,883.0 690.1,882.3 690.6,880.5 691.2,880.3 691.7,879.7 692.3,881.5 692.8,878.9 693.4,880.4 693.9,879.8 694.5,879.4 695.0,879.4 695.6,880.3 696.1,879.3 696.7,881.0 697.2,879.9 697.8,879.4 698.4,879.4 698.9,880.3 699.5,882.2 700.0,878.9 700.6,880.4 701.1,880.2 701.7,882.4 702.2,881.1 702.8,880.0 703.3,882.0 703.9,880.1 704.4,882.4 705.0,880.8 705.5,881.2 706.1,881.0 706.6,881.5 707.2,881.3 707.7,881.8 708.3,882.8 708.8,880.8 709.4,880.4 709.9,879.1 710.5,880.9 711.0,880.5 711.6,878.4 712.1,878.9 712.7,880.8 713.2,880.3 713.8,880.5 714.3,883.5 714.9,885.9 715.4,887.3 716.0,889.4 716.5,891.8 717.1,894.5 717.6,898.5 718.2,901.7 718.7,903.8 719.3,905.7 719.8,908.0 720.4,911.3 720.9,913.4 721.5,917.4 722.0,920.0 722.6,920.3 723.1,926.2 723.7,927.2 724.2,928.7 724.8,930.0 725.3,929.5 725.9,930.4 726.4,930.1 727.0,931.9 727.5,931.9 728.1,935.7 728.6,939.6 729.2,949.5 729.7,963.1 730.3,978.4 730.8,989.5 731.4,1001.1 731.9,1011.8 732.5,1021.2 733.1,1030.1 733.6,1037.8 734.2,1047.0 734.7,1052.5 735.3,1057.2 735.8,1062.9 736.4,1067.3 736.9,1069.0 737.5,1073.0 738.0,1076.4 738.6,1080.6 739.1,1081.7 739.7,1082.6 740.2,1084.6 740.8,1082.9 741.3,1081.6 741.9,1077.0 742.4,1073.1 743.0,1068.2 743.5,1062.7 744.1,1058.2 744.6,1050.9 745.2,1045.7 745.7,1039.5 746.3,1035.6 746.8,1033.0 747.4,1027.2 747.9,1024.4 748.5,1019.7 749.0,1014.4 749.6,1009.8 750.1,1001.8 750.7,988.7 751.2,966.8 751.8,990.4 752.3,1000.8 752.9,1000.0 753.4,1003.5 754.0,1005.7 754.5,1007.8 755.1,1014.8 755.6,1019.3 756.2,1025.0 756.7,1032.2 757.3,1036.5 757.8,1042.4 758.4,1048.9 758.9,1053.7 759.5,1059.8 760.0,1064.2 760.6,1070.5 761.1,1074.3 761.7,1077.1 762.2,1079.0 762.8,1078.9 763.3,1078.9 763.9,1079.0 764.4,1075.6 765.0,1075.0 765.5,1072.0 766.1,1071.0 766.6,1068.8 767.2,1066.0 767.8,1064.4 768.3,1063.7 768.9,1060.0 769.4,1058.4 770.0,1057.8 770.5,1053.5 771.1,1053.1 771.6,1051.7 772.2,1049.9 772.7,1049.4 773.3,1049.2 773.8,1048.1 774.4,1048.4 774.9,1051.0 775.5,1049.7 776.0,1050.4 776.6,1051.8 777.1,1051.1 777.7,1051.6 778.2,1055.6 778.8,1055.2 779.3,1058.5 779.9,1060.8 780.4,1062.5 781.0,1066.5 781.5,1068.9 782.1,1071.8 782.6,1073.6 783.2,1075.1 783.7,1079.2 784.3,1080.4 784.8,1084.1 785.4,1085.5 785.9,1088.7 786.5,1089.7 787.0,1092.4 787.6,1092.9 788.1,1092.9 788.7,1092.5 789.2,1095.2 789.8,1092.0 790.3,1092.5 790.9,1093.3 791.4,1090.2 792.0,1088.5 792.5,1088.7 793.1,1087.2 793.6,1085.2 794.2,1082.2 794.7,1081.9 795.3,1081.0 795.8,1082.3 796.4,1079.2 796.9,1078.7 797.5,1079.1 798.0,1077.0 798.6,1076.2 799.1,1076.9 799.7,1076.0 800.2,1075.5 800.8,1075.4 801.3,1075.6 801.9,1075.2 802.5,1074.5 803.0,1075.8 803.6,1075.7 804.1,1075.5 804.7,1075.2 805.2,1077.6 805.8,1078.8 806.3,1079.1 806.9,1080.2 807.4,1080.9 808.0,1083.2 808.5,1085.0 809.1,1087.4 809.6,1086.1 810.2,1087.8 810.7,1089.2 811.3,1092.3 811.8,1091.7 812.4,1094.6 812.9,1094.8 813.5,1097.8 814.0,1096.1 814.6,1097.3 815.1,1099.3 815.7,1100.3 816.2,1099.5 816.8,1099.9 817.3,1101.6 817.9,1102.2 818.4,1103.8 819.0,1105.3 819.5,1104.4 820.1,1105.0 820.6,1105.9 821.2,1105.0 821.7,1104.1 822.3,1106.2 822.8,1105.7 823.4,1105.8 823.9,1106.7 824.5,1106.1 825.0,1107.6 825.6,1107.2 826.1,1107.0 826.7,1105.8 827.2,1106.9 827.8,1107.5 828.3,1109.2 828.9,1107.4 829.4,1108.7 830.0,1107.3 830.5,1108.0 831.1,1107.7 831.6,1107.7 832.2,1108.8 832.7,1106.1 833.3,1107.6 833.8,1107.4 834.4,1105.1 834.9,1105.0 835.5,1105.5 836.1,1104.7 836.6,1103.8 837.2,1103.8 837.7,1103.9 838.3,1102.1 838.8,1103.1 839.4,1103.9 839.9,1101.3 840.5,1102.4 841.0,1101.1 841.6,1102.1 842.1,1103.4 842.7,1103.7 843.2,1105.0 843.8,1104.2 844.3,1104.2 844.9,1104.6 845.4,1104.4 846.0,1106.6 846.5,1107.4 847.1,1107.2 847.6,1107.1 848.2,1108.0 848.7,1108.5 849.3,1109.5 849.8,1111.7 850.4,1111.2 850.9,1111.0 851.5,1112.7 852.0,1112.7 852.6,1111.8 853.1,1114.8 853.7,1114.4 854.2,1115.0 854.8,1116.6 855.3,1116.5 855.9,1114.8 856.4,1116.6 857.0,1117.4 857.5,1116.9 858.1,1117.3 858.6,1118.4 859.2,1118.3 859.7,1116.8 860.3,1117.5 860.8,1117.2 861.4,1116.6 861.9,1117.2 862.5,1116.4 863.0,1116.8 863.6,1116.5 864.1,1115.0 864.7,1115.4 865.2,1113.9 865.8,1114.5 866.3,1114.2 866.9,1114.3 867.4,1113.2 868.0,1114.1 868.5,1113.8 869.1,1112.9 869.6,1113.5 870.2,1113.1 870.8,1113.4 871.3,1113.4 871.9,1114.1 872.4,1114.2 873.0,1115.4 873.5,1115.2 874.1,1115.1 874.6,1113.8 875.2,1115.9 875.7,1116.0 876.3,1116.7 876.8,1116.5 877.4,1116.8 877.9,1116.5 878.5,1117.7 879.0,1118.4 879.6,1119.9 880.1,1120.2 880.7,1119.3 881.2,1122.0 881.8,1123.6 882.3,1122.4 882.9,1122.8 883.4,1123.9 884.0,1122.1 884.5,1123.9 885.1,1124.6 885.6,1123.3 886.2,1124.5 886.7,1125.1 887.3,1124.0 887.8,1124.7 888.4,1124.0 888.9,1126.2 889.5,1123.9 890.0,1124.1 890.6,1123.6 891.1,1124.6 891.7,1125.0 892.2,1124.2 892.8,1124.2 893.3,1123.3 893.9,1123.6 894.4,1123.3 895.0,1124.2 895.5,1124.3 896.1,1122.7 896.6,1122.5 897.2,1123.5 897.7,1121.5 898.3,1123.3 898.8,1123.0 899.4,1123.1 899.9,1123.2 900.5,1122.7 901.0,1122.8 901.6,1121.9 902.1,1123.0 902.7,1123.5 903.2,1122.0 903.8,1123.7 904.3,1123.1 904.9,1122.6 905.5,1122.4 906.0,1123.3 906.6,1122.8 907.1,1121.5 907.7,1123.3 908.2,1124.1 908.8,1124.0 909.3,1123.6 909.9,1124.1 910.4,1123.6 911.0,1124.6 911.5,1124.9 912.1,1125.1 912.6,1125.2 913.2,1124.7 913.7,1124.5 914.3,1125.0 914.8,1126.7 915.4,1125.3 915.9,1125.1 916.5,1123.8 917.0,1124.1 917.6,1124.4 918.1,1124.9 918.7,1125.4 919.2,1125.6 919.8,1123.5 920.3,1123.5 920.9,1123.8 921.4,1126.3 922.0,1125.3 922.5,1125.7 923.1,1126.1 923.6,1124.9 924.2,1126.1 924.7,1126.2 925.3,1128.1 925.8,1126.6 926.4,1127.7 926.9,1127.2 927.5,1127.5 928.0,1127.7 928.6,1128.1 929.1,1128.3 929.7,1128.4 930.2,1127.7 930.8,1126.3 931.3,1129.0 931.9,1127.8 932.4,1129.8 933.0,1129.6 933.5,1130.0 934.1,1128.9 934.6,1128.5 935.2,1131.5 935.7,1131.1 936.3,1132.1 936.8,1130.1 937.4,1134.3 937.9,1132.2 938.5,1133.0 939.0,1133.2 939.6,1132.8 940.2,1134.5 940.7,1133.6 941.3,1135.2 941.8,1134.8 942.4,1133.0 942.9,1135.8 943.5,1136.4 944.0,1135.1 944.6,1135.1 945.1,1135.9 945.7,1136.3 946.2,1137.0 946.8,1135.7 947.3,1135.5 947.9,1137.6 948.4,1135.8 949.0,1136.0 949.5,1136.5 950.1,1135.5 950.6,1135.9 951.2,1134.7 951.7,1135.0 952.3,1135.2 952.8,1135.9 953.4,1134.4 953.9,1132.9 954.5,1133.8 955.0,1133.4 955.6,1136.3 956.1,1135.9 956.7,1135.4 957.2,1137.8 957.8,1136.7 958.3,1134.4 958.9,1137.4 959.4,1137.1 960.0,1138.8 960.5,1139.5 961.1,1134.6 961.6,1137.4 962.2,1134.7 962.7,1138.3 963.3,1140.1 963.8,1137.7 964.4,1138.4 964.9,1140.5 965.5,1139.2 966.0,1136.7 966.6,1133.6 967.1,1136.8 967.7,1134.6 968.2,1136.9 968.8,1133.4 969.3,1135.5 969.9,1133.1 970.4,1134.4 971.0,1135.7 971.5,1134.1 972.1,1130.3 972.6,1134.4 973.2,1139.4 973.8,1134.6 974.3,1133.8 974.9,1134.0 975.4,1131.0 976.0,1133.1 976.5,1129.4 977.1,1131.6 977.6,1131.5 978.2,1130.2 978.7,1132.5 979.3,1132.8 979.8,1131.7 980.4,1132.7 980.9,1132.4 981.5,1133.8 982.0,1131.9 982.6,1129.2 983.1,1134.0 983.7,1130.1 984.2,1134.4 984.8,1133.3 985.3,1130.9 985.9,1137.3 986.4,1134.8 987.0,1135.1 987.5,1133.5 988.1,1140.9 988.6,1134.9 989.2,1136.5 989.7,1137.9 990.3,1137.5 990.8,1137.5 991.4,1138.8 991.9,1142.7" marker-start="url(#g3)" marker-mid="url(#g3)" marker-end="url(#g3)"/>
<polyline points="205.9,1157.0 206.5,1159.0 207.0,1155.8 207.6,1157.6 208.1,1159.4 208.7,1157.4 209.2,1158.6 209.8,1158.4 210.3,1157.2 210.9,1159.2 211.4,1158.0 212.0,1158.8 212.5,1158.0 213.1,1156.6 213.6,1157.4 214.2,1158.0 214.7,1156.9 215.3,1157.3 215.8,1157.8 216.4,1157.6 217.0,1157.6 217.5,1157.7 218.1,1158.5 218.6,1156.6 219.2,1156.9 219.7,1157.1 220.3,1158.0 220.8,1157.7 221.4,1158.3 221.9,1157.0 222.5,1158.3 223.0,1158.8 223.6,1156.5 224.1,1157.5 224.7,1158.7 225.2,1158.0 225.8,1158.0 226.3,1156.1 226.9,1156.2 227.4,1156.6 228.0,1156.9 228.5,1157.8 229.1,1157.5 229.6,1156.0 230.2,1156.3 230.7,1156.5 231.3,1156.6 231.8,1155.7 232.4,1156.3 232.9,1155.8 233.5,1157.9 234.0,1158.2 234.6,1157.6 235.1,1156.3 235.7,1156.0 236.2,1158.9 236.8,1158.5 237.3,1157.9 237.9,1157.2 238.4,1158.6 239.0,1158.0 239.5,1157.1 240.1,1159.1 240.6,1158.4 241.2,1158.1 241.7,1157.4 242.3,1159.1 242.8,1158.6 243.4,1156.9 243.9,1158.3 244.5,1158.7 245.0,1158.3 245.6,1157.8 246.1,1157.0 246.7,1157.5 247.2,1155.3 247.8,1157.5 248.3,1156.3 248.9,1158.2 249.4,1157.9 250.0,1156.6 250.5,1156.9 251.1,1157.6 251.7,1154.7 252.2,1157.3 252.8,1157.7 253.3,1155.1 253.9,1156.4 254.4,1156.9 255.0,1156.8 255.5,1156.7 256.1,1159.3 256.6,1158.6 257.2,1158.4 257.7,1157.3 258.3,1156.6 258.8,1158.1 259.4,1158.5 259.9,1157.9 260.5,1157.5 261.0,1156.7 261.6,1156.0 262.1,1158.7 262.7,1156.5 263.2,1156.6 263.8,1156.3 264.3,1157.4 264.9,1155.7 265.4,1158.4 266.0,1157.8 266.5,1157.3 267.1,1157.3 267.6,1157.7 268.2,1160.0 268.7,1159.1 269.3,1159.8 269.8,1158.1 270.4,1158.3 270.9,1158.4 271.5,1158.8 272.0,1159.7 272.6,1157.8 273.1,1156.7 273.7,1159.3 274.2,1158.1 274.8,1157.9 275.3,1158.2 275.9,1156.3 276.4,1156.3 277.0,1157.9 277.5,1158.0 278.1,1157.1 278.6,1157.2 279.2,1156.9 279.7,1157.6 280.3,1158.2 280.8,1158.1 281.4,1157.4 281.9,1156.4 282.5,1158.0 283.0,1157.0 283.6,1157.4 284.1,1158.3 284.7,1141.6 285.3,1059.5 285.8,939.8 286.4,870.0 286.9,835.3 287.5,813.4 288.0,801.1 288.6,792.3 289.1,785.3 289.7,779.9 290.2,776.1 290.8,773.5 291.3,771.7 291.9,770.4 292.4,771.2 293.0,771.6 293.5,771.0 294.1,771.5 294.6,772.0 295.2,769.4 295.7,772.8 296.3,773.1 296.8,773.5 297.4,774.0 297.9,774.2 298.5,776.2 299.0,776.4 299.6,777.1 300.1,780.1 300.7,780.8 301.2,781.6 301.8,783.5 302.3,782.9 302.9,783.5 303.4,786.2 304.0,786.4 304.5,787.0 305.1,789.0 305.6,790.0 306.2,791.8 306.7,792.5 307.3,792.1 307.8,793.3 308.4,793.4 308.9,796.0 309.5,796.2 310.0,797.7 310.6,798.5 311.1,797.4 311.7,800.2 312.2,799.5 312.8,802.3 313.3,802.9 313.9,803.2 314.4,804.5 315.0,804.8 315.5,807.3 316.1,807.6 316.6,809.8 317.2,811.2 317.7,813.1 318.3,813.3 318.8,816.7 319.4,816.2 320.0,815.6 320.5,819.5 321.1,821.1 321.6,822.1 322.2,822.3 322.7,822.5 323.3,826.4 323.8,826.5 324.4,827.1 324.9,826.7 325.5,830.8 326.0,831.4 326.6,831.3 327.1,833.5 327.7,836.2 328.2,837.1 328.8,838.3 329.3,842.0 329.9,842.2 330.4,841.9 331.0,844.3 331.5,846.7 332.1,845.8 332.6,846.9 333.2,847.1 333.7,850.5 334.3,852.1 334.8,851.7 335.4,853.7 335.9,854.5 336.5,855.0 337.0,856.4 337.6,855.2 338.1,857.2 338.7,859.2 339.2,859.1 339.8,857.7 340.3,859.4 340.9,861.4 341.4,861.2 342.0,861.7 342.5,861.6 343.1,862.3 343.6,862.9 344.2,862.3 344.7,861.8 345.3,862.5 345.8,866.3 346.4,863.1 346.9,864.4 347.5,865.4 348.0,864.7 348.6,865.6 349.1,866.3 349.7,866.4 350.2,864.8 350.8,865.7 351.3,868.2 351.9,868.7 352.4,866.9 353.0,868.2 353.5,869.1 354.1,869.0 354.7,872.2 355.2,872.1 355.8,873.4 356.3,873.6 356.9,873.8 357.4,874.8 358.0,875.5 358.5,877.8 359.1,875.5 359.6,877.7 360.2,878.5 360.7,879.7 361.3,878.2 361.8,879.0 362.4,879.9 362.9,880.5 363.5,878.8 364.0,879.9 364.6,878.7 365.1,878.3 365.7,877.7 366.2,875.7 366.8,876.0 367.3,875.4 367.9,875.3 368.4,874.4 369.0,874.5 369.5,872.5 370.1,874.0 370.6,871.6 371.2,870.0 371.7,871.6 372.3,870.8 372.8,868.1 373.4,869.1 373.9,870.1 374.5,868.1 375.0,868.6 375.6,868.5 376.1,866.1 376.7,866.6 377.2,867.4 377.8,868.3 378.3,867.3 378.9,867.6 379.4,869.7 380.0,868.0 380.5,868.6 381.1,870.4 381.6,870.4 382.2,870.8 382.7,872.0 383.3,872.0 383.8,873.0 384.4,872.1 384.9,872.9 385.5,874.2 386.0,873.1 386.6,876.0 387.1,873.7 387.7,874.9 388.2,874.3 388.8,874.0 389.4,872.9 389.9,872.9 390.5,873.7 391.0,873.8 391.6,870.1 392.1,870.8 392.7,869.8 393.2,870.3 393.8,869.7 394.3,868.8 394.9,868.3 395.4,868.7 396.0,869.1 396.5,866.8 397.1,866.8 397.6,867.5 398.2,868.5 398.7,869.0 399.3,869.1 399.8,866.7 400.4,869.3 400.9,869.9 401.5,870.1 402.0,870.5 402.6,872.4 403.1,870.8 403.7,870.5 404.2,872.6 404.8,872.1 405.3,873.4 405.9,874.1 406.4,873.7 407.0,873.3 407.5,875.3 408.1,873.3 408.6,873.9 409.2,874.1 409.7,873.7 410.3,872.8 410.8,872.6 411.4,872.2 411.9,874.1 412.5,872.0 413.0,873.2 413.6,870.8 414.1,870.2 414.7,870.6 415.2,870.2 415.8,870.9 416.3,869.5 416.9,868.9 417.4,867.3 418.0,867.3 418.5,866.3 419.1,866.4 419.6,866.1 420.2,864.6 420.7,865.6 421.3,866.1 421.8,866.1 422.4,865.5 423.0,866.4 423.5,865.5 424.1,866.8 424.6,866.3 425.2,866.3 425.7,866.9 426.3,867.2 426.8,867.2 427.4,868.9 427.9,869.1 428.5,868.3 429.0,868.0 429.6,869.5 430.1,871.3 430.7,871.8 431.2,871.8 431.8,871.7 432.3,872.5 432.9,873.6 433.4,871.8 434.0,874.4 434.5,875.0 435.1,873.6 435.6,874.1 436.2,874.1 436.7,873.0 437.3,874.8 437.8,874.1 438.4,875.0 438.9,872.7 439.5,874.1 440.0,873.3 440.6,874.0 441.1,873.2 441.7,873.0 442.2,872.7 442.8,871.9 443.3,871.4 443.9,870.7 444.4,870.6 445.0,870.0 445.5,869.7 446.1,870.5 446.6,868.9 447.2,869.3 447.7,869.0 448.3,867.6 448.8,870.6 449.4,869.3 449.9,868.5 450.5,870.0 451.0,870.2 451.6,871.3 452.1,869.5 452.7,872.0 453.2,871.4 453.8,870.8 454.3,874.8 454.9,873.3 455.4,875.0 456.0,874.3 456.5,876.6 457.1,877.5 457.7,876.8 458.2,877.1 458.8,877.6 459.3,877.9 459.9,877.0 460.4,877.1 461.0,879.0 461.5,878.6 462.1,877.7 462.6,879.0 463.2,879.2 463.7,878.9 464.3,876.6 464.8,877.3 465.4,878.2 465.9,877.4 466.5,877.0 467.0,875.8 467.6,875.7 468.1,875.2 468.7,875.5 469.2,876.2 469.8,873.0 470.3,873.7 470.9,875.5 471.4,875.3 472.0,873.7 472.5,873.1 473.1,873.1 473.6,872.6 474.2,872.4 474.7,871.3 475.3,872.7 475.8,870.6 476.4,871.2 476.9,871.1 477.5,870.3 478.0,870.2 478.6,868.7 479.1,871.0 479.7,870.0 480.2,870.5 480.8,869.1 481.3,869.0 481.9,870.1 482.4,870.3 483.0,870.1 483.5,870.3 484.1,871.5 484.6,870.4 485.2,868.8 485.7,871.4 486.3,872.7 486.8,871.9 487.4,871.5 487.9,872.7 488.5,871.7 489.0,873.3 489.6,870.9 490.1,872.7 490.7,874.5 491.2,873.9 491.8,875.7 492.4,876.1 492.9,873.6 493.5,873.8 494.0,874.2 494.6,873.5 495.1,875.5 495.7,874.0 496.2,873.6 496.8,874.0 497.3,874.3 497.9,874.2 498.4,874.8 499.0,874.5 499.5,872.9 500.1,873.6 500.6,874.4 501.2,874.1 501.7,874.4 502.3,876.1 502.8,874.0 503.4,874.0 503.9,875.9 504.5,875.3 505.0,876.0 505.6,875.9 506.1,873.8 506.7,876.1 507.2,875.9 507.8,877.4 508.3,877.5 508.9,876.7 509.4,876.5 510.0,875.3 510.5,877.0 511.1,878.0 511.6,875.4 512.2,877.0 512.7,876.0 513.3,876.3 513.8,874.6 514.4,875.6 514.9,874.2 515.5,876.0 516.0,873.4 516.6,874.2 517.1,873.2 517.7,873.8 518.2,874.0 518.8,871.2 519.3,870.9 519.9,871.8 520.4,871.3 521.0,870.4 521.5,870.1 522.1,870.2 522.6,869.3 523.2,868.1 523.7,869.4 524.3,869.8 524.8,868.7 525.4,869.5 525.9,869.2 526.5,868.1 527.1,871.0 527.6,869.2 528.2,868.6 528.7,870.5 529.3,872.0 529.8,871.9 530.4,870.5 530.9,872.2 531.5,872.4 532.0,871.3 532.6,870.2 533.1,872.9 533.7,871.7 534.2,873.1 534.8,872.4 535.3,874.6 535.9,872.7 536.4,874.6 537.0,874.7 537.5,874.8 538.1,874.1 538.6,875.3 539.2,876.2 539.7,874.3 540.3,874.4 540.8,875.1 541.4,875.5 541.9,874.6 542.5,875.1 543.0,874.0 543.6,873.7 544.1,873.2 544.7,870.9 545.2,870.9 545.8,871.9 546.3,870.5 546.9,870.5 547.4,872.1 548.0,870.5 548.5,868.8 549.1,869.8 549.6,869.2 550.2,869.7 550.7,868.6 551.3,868.5 551.8,868.0 552.4,867.8 552.9,869.6 553.5,869.5 554.0,867.8 554.6,869.8 555.1,869.4 555.7,870.1 556.2,870.1 556.8,873.0 557.3,870.9 557.9,871.2 558.4,871.8 559.0,873.1 559.5,873.5 560.1,871.9 560.7,873.7 561.2,873.9 561.8,872.3 562.3,873.6 562.9,872.3 563.4,872.1 564.0,872.9 564.5,873.3 565.1,872.9 565.6,873.0 566.2,872.0 566.7,871.4 567.3,871.5 567.8,870.9 568.4,871.3 568.9,870.1 569.5,869.7 570.0,871.4 570.6,870.1 571.1,870.0 571.7,870.2 572.2,870.2 572.8,869.8 573.3,869.5 573.9,869.3 574.4,869.9 575.0,867.7 575.5,868.4 576.1,869.1 576.6,867.8 577.2,868.3 577.7,869.4 578.3,871.1 578.8,870.3 579.4,870.5 579.9,870.6 580.5,870.7 581.0,870.3 581.6,870.4 582.1,870.2 582.7,870.5 583.2,870.6 583.8,870.6 584.3,872.1 584.9,870.8 585.4,869.4 586.0,871.1 586.5,872.1 587.1,871.1 587.6,871.6 588.2,873.0 588.7,871.3 589.3,872.3 589.8,871.7 590.4,873.3 590.9,872.3 591.5,872.9 592.0,872.9 592.6,872.3 593.1,871.5 593.7,871.5 594.2,872.0 594.8,871.1 595.4,869.7 595.9,869.9 596.5,868.0 597.0,868.4 597.6,868.6 598.1,868.2 598.7,867.8 599.2,868.0 599.8,866.0 600.3,867.0 600.9,865.7 601.4,867.2 602.0,866.1 602.5,866.4 603.1,865.2 603.6,865.4 604.2,866.3 604.7,865.9 605.3,866.9 605.8,867.7 606.4,866.4 606.9,868.6 607.5,867.2 608.0,866.5 608.6,866.8 609.1,867.3 609.7,867.5 610.2,867.7 610.8,868.1 611.3,869.2 611.9,868.5 612.4,869.6 613.0,867.8 613.5,870.6 614.1,870.4 614.6,869.6 615.2,869.2 615.7,867.5 616.3,868.8 616.8,869.1 617.4,870.0 617.9,868.1 618.5,867.1 619.0,867.5 619.6,866.4 620.1,866.3 620.7,865.9 621.2,865.6 621.8,865.5 622.3,865.6 622.9,864.4 623.4,864.1 624.0,865.2 624.5,862.7 625.1,863.5 625.6,863.4 626.2,864.4 626.7,864.3 627.3,863.7 627.8,865.2 628.4,865.0 628.9,864.8 629.5,863.8 630.1,864.8 630.6,866.1 631.2,865.1 631.7,866.3 632.3,866.5 632.8,865.1 633.4,866.2 633.9,867.4 634.5,866.7 635.0,868.4 635.6,866.2 636.1,868.7 636.7,867.6 637.2,866.8 637.8,868.9 638.3,868.5 638.9,867.0 639.4,868.1 640.0,867.7 640.5,868.7 641.1,866.9 641.6,866.8 642.2,867.4 642.7,866.7 643.3,868.5 643.8,868.2 644.4,864.8 644.9,865.5 645.5,866.2 646.0,866.6 646.6,865.6 647.1,866.5 647.7,866.2 648.2,865.8 648.8,867.1 649.3,867.3 649.9,866.8 650.4,865.6 651.0,866.7 651.5,867.3 652.1,867.3 652.6,869.0 653.2,866.7 653.7,866.1 654.3,867.0 654.8,867.3 655.4,866.3 655.9,866.9 656.5,868.0 657.0,866.4 657.6,866.3 658.1,866.9 658.7,867.0 659.2,867.0 659.8,865.7 660.3,866.5 660.9,867.2 661.4,866.4 662.0,866.4 662.5,868.2 663.1,866.8 663.6,869.2 664.2,868.6 664.8,867.9 665.3,868.0 665.9,870.8 666.4,869.1 667.0,870.3 667.5,867.0 668.1,869.7 668.6,868.6 669.2,868.7 669.7,869.1 670.3,868.3 670.8,868.7 671.4,870.0 671.9,867.5 672.5,869.2 673.0,867.5 673.6,867.5 674.1,866.3 674.7,869.1 675.2,867.8 675.8,867.6 676.3,867.0 676.9,868.5 677.4,867.3 678.0,865.4 678.5,865.5 679.1,867.3 679.6,867.2 680.2,866.2 680.7,866.2 681.3,865.4 681.8,866.2 682.4,866.9 682.9,866.7 683.5,868.1 684.0,866.2 684.6,866.8 685.1,866.6 685.7,866.4 686.2,865.4 686.8,869.0 687.3,866.1 687.9,866.8 688.4,866.1 689.0,865.8 689.5,866.0 690.1,865.5 690.6,864.5 691.2,865.6 691.7,864.0 692.3,864.2 692.8,865.2 693.4,862.9 693.9,865.0 694.5,864.3 695.0,865.0 695.6,864.0 696.1,864.6 696.7,865.0 697.2,865.2 697.8,865.6 698.4,866.8 698.9,866.8 699.5,865.6 700.0,865.3 700.6,865.2 701.1,866.0 701.7,863.9 702.2,864.4 702.8,865.1 703.3,865.5 703.9,864.2 704.4,863.4 705.0,863.8 705.5,863.7 706.1,865.6 706.6,863.8 707.2,863.7 707.7,863.6 708.3,862.9 708.8,863.6 709.4,861.8 709.9,863.4 710.5,862.4 711.0,861.7 711.6,876.9 712.1,874.8 712.7,876.9 713.2,876.4 713.8,876.5 714.3,877.6 714.9,877.3 715.4,878.4 716.0,878.8 716.5,879.0 717.1,878.3 717.6,881.4 718.2,879.3 718.7,879.1 719.3,881.9 719.8,878.5 720.4,883.0 720.9,881.7 721.5,881.9 722.0,881.9 722.6,883.3 723.1,883.6 723.7,885.1 724.2,886.9 724.8,887.2 725.3,890.4 725.9,888.4 726.4,890.2 727.0,892.4 727.5,892.5 728.1,895.9 728.6,903.3 729.2,918.5 729.7,936.7 730.3,956.0 730.8,973.3 731.4,987.2 731.9,999.1 732.5,1012.0 733.1,1025.4 733.6,1037.7 734.2,1046.8 734.7,1054.6 735.3,1062.1 735.8,1067.8 736.4,1074.0 736.9,1079.3 737.5,1085.5 738.0,1090.6 738.6,1095.1 739.1,1098.7 739.7,1100.8 740.2,1101.8 740.8,1101.2 741.3,1096.9 741.9,1092.9 742.4,1086.5 743.0,1079.3 743.5,1072.3 744.1,1064.0 744.6,1055.8 745.2,1048.6 745.7,1041.8 746.3,1035.6 746.8,1029.8 747.4,1025.6 747.9,1019.9 748.5,1017.5 749.0,1010.4 749.6,1002.7 750.1,995.4 750.7,975.8 751.2,947.0 751.8,978.1 752.3,990.8 752.9,992.5 753.4,994.6 754.0,997.0 754.5,999.4 755.1,1004.5 755.6,1011.4 756.2,1017.9 756.7,1024.4 757.3,1033.7 757.8,1039.5 758.4,1046.2 758.9,1051.7 759.5,1058.6 760.0,1066.1 760.6,1072.6 761.1,1078.2 761.7,1080.2 762.2,1085.4 762.8,1083.5 763.3,1084.0 763.9,1080.6 764.4,1078.8 765.0,1076.1 765.5,1073.3 766.1,1069.3 766.6,1065.8 767.2,1064.5 767.8,1063.0 768.3,1060.7 768.9,1057.0 769.4,1055.1 770.0,1051.4 770.5,1047.0 771.1,1046.2 771.6,1044.0 772.2,1043.0 772.7,1042.9 773.3,1041.9 773.8,1042.0 774.4,1042.1 774.9,1041.9 775.5,1042.4 776.0,1041.7 776.6,1042.8 777.1,1042.8 777.7,1045.1 778.2,1047.0 778.8,1048.4 779.3,1049.5 779.9,1054.0 780.4,1057.0 781.0,1060.0 781.5,1063.0 782.1,1067.3 782.6,1069.0 783.2,1071.6 783.7,1075.0 784.3,1077.7 784.8,1081.9 785.4,1084.3 785.9,1088.1 786.5,1088.9 787.0,1093.2 787.6,1092.2 788.1,1095.4 788.7,1095.2 789.2,1094.8 789.8,1093.0 790.3,1091.9 790.9,1091.5 791.4,1089.4 792.0,1087.7 792.5,1085.9 793.1,1084.8 793.6,1081.0 794.2,1080.9 794.7,1079.8 795.3,1079.4 795.8,1077.9 796.4,1077.4 796.9,1077.3 797.5,1075.1 798.0,1075.6 798.6,1073.8 799.1,1074.1 799.7,1073.7 800.2,1072.3 800.8,1071.7 801.3,1070.9 801.9,1070.8 802.5,1072.2 803.0,1071.1 803.6,1072.1 804.1,1071.4 804.7,1072.2 805.2,1074.7 805.8,1074.9 806.3,1075.3 806.9,1076.4 807.4,1077.9 808.0,1079.0 808.5,1080.2 809.1,1082.9 809.6,1082.9 810.2,1085.2 810.7,1089.7 811.3,1088.6 811.8,1090.3 812.4,1094.2 812.9,1093.2 813.5,1096.9 814.0,1095.9 814.6,1097.9 815.1,1097.4 815.7,1098.8 816.2,1099.0 816.8,1100.7 817.3,1100.7 817.9,1102.1 818.4,1102.0 819.0,1103.0 819.5,1103.1 820.1,1104.6 820.6,1105.6 821.2,1104.9 821.7,1105.1 822.3,1104.7 822.8,1105.0 823.4,1105.7 823.9,1106.9 824.5,1106.7 825.0,1106.9 825.6,1106.8 826.1,1107.3 826.7,1107.6 827.2,1109.2 827.8,1106.0 828.3,1107.1 828.9,1108.9 829.4,1108.6 830.0,1106.8 830.5,1109.2 831.1,1107.3 831.6,1107.2 832.2,1106.9 832.7,1106.8 833.3,1107.2 833.8,1104.1 834.4,1105.0 834.9,1103.4 835.5,1103.6 836.1,1103.8 836.6,1101.3 837.2,1103.1 837.7,1101.7 838.3,1101.5 838.8,1101.6 839.4,1100.2 839.9,1101.2 840.5,1100.9 841.0,1101.2 841.6,1101.0 842.1,1101.5 842.7,1100.9 843.2,1101.8 843.8,1101.7 844.3,1102.7 844.9,1103.1 845.4,1103.4 846.0,1105.6 846.5,1105.5 847.1,1106.2 847.6,1107.4 848.2,1107.1 848.7,1109.3 849.3,1108.2 849.8,1108.6 850.4,1110.9 850.9,1112.6 851.5,1113.2 852.0,1111.6 852.6,1113.5 853.1,1113.8 853.7,1113.9 854.2,1113.7 854.8,1114.4 855.3,1115.8 855.9,1116.4 856.4,1116.7 857.0,1116.1 857.5,1116.6 858.1,1117.4 858.6,1117.9 859.2,1117.0 859.7,1116.1 860.3,1117.2 860.8,1117.5 861.4,1117.8 861.9,1117.0 862.5,1117.1 863.0,1115.8 863.6,1115.7 864.1,1114.1 864.7,1113.6 865.2,1113.7 865.8,1113.3 866.3,1112.7 866.9,1114.0 867.4,1111.8 868.0,1111.3 868.5,1111.1 869.1,1111.4 869.6,1111.5 870.2,1112.7 870.8,1112.9 871.3,1111.5 871.9,1113.4 872.4,1113.9 873.0,1113.8 873.5,1112.9 874.1,1112.0 874.6,1113.8 875.2,1114.4 875.7,1114.9 876.3,1115.6 876.8,1117.8 877.4,1117.3 877.9,1117.5 878.5,1118.6 879.0,1118.7 879.6,1119.1 880.1,1120.7 880.7,1121.6 881.2,1121.2 881.8,1122.6 882.3,1123.1 882.9,1123.5 883.4,1124.1 884.0,1125.7 884.5,1125.3 885.1,1124.0 885.6,1125.1 886.2,1127.8 886.7,1127.4 887.3,1127.5 887.8,1125.2 888.4,1125.9 888.9,1126.4 889.5,1125.0 890.0,1124.6 890.6,1126.7 891.1,1126.7 891.7,1123.4 892.2,1124.6 892.8,1123.5 893.3,1125.3 893.9,1123.4 894.4,1121.7 895.0,1123.9 895.5,1123.3 896.1,1123.0 896.6,1121.6 897.2,1123.2 897.7,1120.2 898.3,1120.2 898.8,1122.3 899.4,1119.7 899.9,1122.1 900.5,1120.7 901.0,1118.9 901.6,1119.7 902.1,1119.2 902.7,1119.5 903.2,1118.2 903.8,1119.7 904.3,1117.8 904.9,1118.6 905.5,1120.0 906.0,1120.3 906.6,1120.5 907.1,1122.2 907.7,1121.1 908.2,1121.3 908.8,1122.4 909.3,1122.8 909.9,1124.0 910.4,1121.7 911.0,1124.9 911.5,1123.3 912.1,1124.3 912.6,1125.7 913.2,1125.6 913.7,1125.9 914.3,1125.4 914.8,1124.3 915.4,1125.3 915.9,1125.5 916.5,1126.2 917.0,1126.9 917.6,1125.0 918.1,1124.1 918.7,1125.1 919.2,1124.1 919.8,1125.1 920.3,1125.1 920.9,1124.1 921.4,1125.0 922.0,1126.6 922.5,1125.2 923.1,1123.6 923.6,1125.6 924.2,1126.1 924.7,1124.7 925.3,1125.3 925.8,1125.9 926.4,1124.9 926.9,1124.6 927.5,1126.8 928.0,1126.0 928.6,1126.1 929.1,1126.4 929.7,1126.3 930.2,1125.0 930.8,1126.1 931.3,1125.0 931.9,1124.7 932.4,1125.1 933.0,1126.7 933.5,1126.9 934.1,1129.9 934.6,1129.1 935.2,1129.0 935.7,1129.2 936.3,1129.1 936.8,1129.2 937.4,1129.8 937.9,1130.9 938.5,1131.2 939.0,1133.3 939.6,1133.3 940.2,1133.2 940.7,1134.3 941.3,1132.8 941.8,1133.4 942.4,1133.6 942.9,1132.1 943.5,1131.9 944.0,1133.7 944.6,1134.3 945.1,1133.1 945.7,1132.9 946.2,1132.3 946.8,1132.4 947.3,1133.6 947.9,1130.9 948.4,1132.0 949.0,1133.6 949.5,1131.1 950.1,1135.0 950.6,1132.9 951.2,1131.5 951.7,1132.8 952.3,1131.5 952.8,1131.1 953.4,1132.1 953.9,1131.8 954.5,1128.5 955.0,1131.5 955.6,1134.2 956.1,1133.3 956.7,1130.8 957.2,1135.3 957.8,1131.5 958.3,1132.3 958.9,1135.2 959.4,1135.2 960.0,1134.8 960.5,1135.6 961.1,1137.2 961.6,1135.7 962.2,1134.7 962.7,1137.5 963.3,1135.7 963.8,1139.6 964.4,1138.2 964.9,1138.5 965.5,1137.6 966.0,1135.5 966.6,1133.5 967.1,1137.5 967.7,1137.8 968.2,1132.8 968.8,1135.3 969.3,1133.6 969.9,1132.3 970.4,1132.3 971.0,1131.8 971.5,1131.8 972.1,1127.3 972.6,1129.5 973.2,1129.3 973.8,1127.9 974.3,1129.1 974.9,1127.5 975.4,1126.9 976.0,1129.5 976.5,1128.9 977.1,1125.7 977.6,1130.7 978.2,1125.9 978.7,1127.9 979.3,1128.9 979.8,1128.7 980.4,1125.2 980.9,1127.0 981.5,1127.0 982.0,1131.8 982.6,1135.1 983.1,1130.3 983.7,1129.8 984.2,1134.2 984.8,1127.7 985.3,1133.6 985.9,1130.7 986.4,1133.6 987.0,1130.7 987.5,1133.1 988.1,1137.6 988.6,1132.6 989.2,1132.4 989.7,1132.4 990.3,1131.5 990.8,1137.8 991.4,1134.1 991.9,1135.0" marker-start="url(#g4)" marker-mid="url(#g4)" marker-end="url(#g4)"/>
</g>
<circle cx="295.3" cy="773.2" r="2.8" fill="none" stroke="#006D2C" stroke-opacity=".5" stroke-width="1.35"/>
<circle cx="309.8" cy="777.4" r="2.8" fill="none" stroke="#006D2C" stroke-opacity=".5" stroke-width="1.35"/>
<circle cx="315.2" cy="786.4" r="2.8" fill="none" stroke="#006D2C" stroke-opacity=".5" stroke-width="1.35"/>
<g fill="none" stroke-width="5.5" stroke-linejoin="round" stroke-linecap="butt">
<polyline points="234.9,1167.9 307.0,1167.9 307.4,1166.6 307.7,1163.3 308.0,1158.8 308.4,1153.9 308.7,1148.1 309.1,1140.8 309.4,1132.1 309.8,1121.9 310.1,1110.3 310.4,1097.4 310.8,1083.0 311.1,1063.2 311.5,1032.8 311.8,997.4 312.2,963.0 312.5,935.5 312.9,920.7 313.2,912.5 313.5,906.1 313.9,901.1 314.2,896.9 314.6,893.3 314.9,890.3 315.3,888.0 315.6,886.1 316.0,884.5 316.3,883.5 316.6,882.7 317.0,882.3 317.3,882.0 317.7,882.0 318.0,882.2 318.4,882.5 318.7,882.9 319.1,883.3 319.4,884.1 319.7,884.9 320.1,885.7 320.4,886.4 320.8,887.0 321.1,887.6 321.5,888.2 321.8,888.8 322.2,889.3 322.5,889.9 322.8,890.5 323.2,891.1 323.5,891.7 325.6,895.5 327.7,899.1 329.7,902.5 331.8,905.8 333.9,908.9 335.9,911.8 338.0,914.6 340.1,917.2 342.1,919.8 344.2,922.2 346.3,924.4 348.3,926.6 350.4,928.7 352.4,930.7 354.5,932.5 356.6,934.3 358.6,936.0 360.7,937.6 362.8,939.2 364.8,940.6 366.9,942.0 369.0,943.4 371.0,944.6 373.1,945.8 375.2,947.0 377.2,948.0 379.3,949.1 381.4,950.1 383.4,951.0 385.5,951.9 387.6,952.7 389.6,953.6 391.7,954.3 393.8,955.1 395.8,955.8 397.9,956.4 400.0,957.1 402.0,957.7 404.1,958.2 406.2,958.8 408.2,959.3 410.3,959.8 412.3,960.3 414.4,960.7 416.5,961.1 418.5,961.5 420.6,961.9 422.7,962.3 424.7,962.6 426.8,963.0 428.9,963.3 430.9,963.6 433.0,963.9 433.1,963.9 441.4,964.9 449.7,965.8 457.9,966.4 466.2,967.0 474.4,967.4 482.7,967.8 491.0,968.1 499.2,968.4 507.5,968.5 515.8,968.7 524.0,968.8 532.3,969.0 540.5,969.0 548.8,969.1 557.1,969.2 565.3,969.2 573.6,969.2 581.9,969.2 590.1,969.2 598.4,969.2 606.6,969.1 614.9,969.0 623.2,968.9 631.4,968.8 639.7,968.6 648.0,968.5 656.2,968.3 664.5,968.2 672.7,968.0 681.0,967.8 689.3,967.7 692.0,967.6 692.7,967.6 693.4,967.6 694.1,967.6 694.8,967.6 695.5,967.5 696.1,967.5 696.8,967.5 697.5,967.5 698.2,967.5 698.9,967.5 699.6,967.4 700.3,967.4 701.0,967.4 701.7,967.4 702.3,967.4 703.0,967.3 703.7,967.3 704.4,967.3 705.1,967.3 705.8,967.3 706.5,967.3 707.2,967.2 707.9,967.2 708.5,967.2 709.2,967.2 709.9,967.2 710.6,967.1 711.3,967.1 712.0,967.1 712.7,967.1 713.4,967.3 714.0,967.8 714.7,968.6 715.4,969.7 716.1,970.9 716.8,972.4 717.5,974.1 718.2,975.8 718.9,977.7 719.6,979.6 720.2,981.5 720.9,983.4 721.6,985.4 722.3,987.4 723.0,989.3 723.7,991.2 724.4,993.1 725.1,995.0 725.8,996.8 726.4,998.6 727.1,1000.4 727.8,1002.2 728.5,1003.9 729.2,1005.6 729.9,1007.2 730.6,1008.9 731.3,1010.4 731.9,1012.0 732.6,1013.5 733.3,1015.0 734.0,1016.5 734.7,1018.0 735.4,1019.4 736.1,1020.8 736.8,1022.2 737.5,1023.5 738.1,1024.9 738.8,1026.2 739.5,1027.4 740.2,1028.7 740.9,1029.9 741.6,1031.2 742.3,1032.3 743.0,1033.5 747.1,1040.2 751.2,1046.3 755.4,1051.8 759.5,1056.9 763.6,1061.5 767.8,1065.8 771.9,1069.8 776.0,1073.5 780.1,1077.0 784.3,1080.2 788.4,1083.2 792.5,1086.0 796.7,1088.6 800.8,1091.1 804.9,1093.4 809.1,1095.6 813.2,1097.7 817.3,1099.7 821.5,1101.5 825.6,1103.3 829.7,1105.0 833.8,1106.6 838.0,1108.1 842.1,1109.6 846.2,1111.0 850.4,1112.3 854.5,1113.6 858.6,1114.8 862.8,1115.9 866.9,1117.1 871.0,1118.1 875.2,1119.2 879.3,1120.2 883.4,1121.1 887.5,1122.0 891.7,1122.9 895.8,1123.8 899.9,1124.6 904.1,1125.4 908.2,1126.1 912.3,1126.9 916.5,1127.6 920.6,1128.3 924.7,1128.9 928.9,1129.6 933.0,1130.2 937.1,1130.8 941.3,1131.4 945.4,1132.0 949.5,1132.5 953.6,1133.1 956.4,1133.4" stroke="#66C2A4"/>
<polyline points="234.9,1167.9 297.4,1167.9 297.7,1166.5 298.1,1163.0 298.4,1158.3 298.7,1153.1 299.1,1146.5 299.4,1138.0 299.8,1127.9 300.1,1116.4 300.5,1104.0 300.8,1090.8 301.2,1077.2 301.5,1061.2 301.8,1042.5 302.2,1022.0 302.5,1000.4 302.9,978.5 303.2,957.2 303.6,937.1 303.9,919.1 304.3,901.5 304.6,885.4 304.9,873.4 305.3,864.7 305.6,858.3 306.0,853.5 306.3,850.2 306.7,848.0 307.0,846.9 307.4,846.5 307.7,846.6 308.0,846.9 308.4,847.3 308.7,847.7 309.1,848.3 309.4,849.1 309.8,850.0 310.1,850.7 310.4,851.4 310.8,852.1 311.1,852.7 311.5,853.4 311.8,854.0 312.2,854.7 312.5,855.3 312.9,856.0 313.2,856.7 313.5,857.3 313.9,858.0 316.0,862.0 318.0,865.7 320.1,869.3 322.2,872.7 324.2,875.9 326.3,879.0 328.4,881.9 330.4,884.7 332.5,887.4 334.5,889.9 336.6,892.3 338.7,894.6 340.7,896.7 342.8,898.8 344.9,900.8 346.9,902.6 349.0,904.4 351.1,906.1 353.1,907.7 355.2,909.3 357.3,910.7 359.3,912.1 361.4,913.4 363.5,914.7 365.5,915.9 367.6,917.0 369.7,918.1 371.7,919.1 373.8,920.1 375.9,921.0 377.9,921.9 380.0,922.8 382.1,923.6 384.1,924.4 386.2,925.1 388.2,925.8 390.3,926.4 392.4,927.1 394.4,927.7 396.5,928.2 398.6,928.8 400.6,929.3 402.7,929.8 404.8,930.3 406.8,930.7 408.9,931.2 411.0,931.6 413.0,932.0 415.1,932.3 417.2,932.7 419.2,933.0 421.3,933.3 423.4,933.6 425.4,933.9 427.5,934.2 429.6,934.5 431.6,934.7 433.1,934.9 441.4,935.8 449.7,936.5 457.9,937.1 466.2,937.6 474.4,938.0 482.7,938.4 491.0,938.7 499.2,939.0 507.5,939.3 515.8,939.5 524.0,939.8 532.3,940.0 540.5,940.1 548.8,940.2 557.1,940.3 565.3,940.4 573.6,940.4 581.9,940.4 590.1,940.3 598.4,940.3 606.6,940.2 614.9,940.1 623.2,939.9 631.4,939.8 639.7,939.6 648.0,939.4 656.2,939.2 664.5,939.0 672.7,938.7 681.0,938.5 689.3,938.3 692.0,938.2 692.7,938.2 693.4,938.2 694.1,938.2 694.8,938.1 695.5,938.1 696.1,938.1 696.8,938.1 697.5,938.0 698.2,938.0 698.9,938.0 699.6,938.0 700.3,937.9 701.0,937.9 701.7,937.9 702.3,937.9 703.0,937.8 703.7,937.8 704.4,937.8 705.1,937.8 705.8,937.7 706.5,937.7 707.2,937.7 707.9,937.6 708.5,937.6 709.2,937.6 709.9,937.9 710.6,938.5 711.3,939.5 712.0,940.8 712.7,942.4 713.4,944.3 714.0,946.3 714.7,948.5 715.4,950.8 716.1,953.2 716.8,955.6 717.5,958.0 718.2,960.5 718.9,962.9 719.6,965.3 720.2,967.6 720.9,970.0 721.6,972.3 722.3,974.5 723.0,976.8 723.7,978.9 724.4,981.1 725.1,983.2 725.8,985.2 726.4,987.2 727.1,989.2 727.8,991.1 728.5,993.0 729.2,994.9 729.9,996.7 730.6,998.4 731.3,1000.2 731.9,1001.9 732.6,1003.6 733.3,1005.2 734.0,1006.8 734.7,1008.4 735.4,1010.0 736.1,1011.5 736.8,1013.0 737.5,1014.5 738.1,1015.9 738.8,1017.3 739.5,1018.7 740.2,1020.1 740.9,1021.4 741.6,1022.7 742.3,1024.0 743.0,1025.3 747.1,1032.5 751.2,1039.1 755.4,1045.0 759.5,1050.5 763.6,1055.5 767.8,1060.1 771.9,1064.4 776.0,1068.3 780.1,1072.0 784.3,1075.4 788.4,1078.6 792.5,1081.6 796.7,1084.4 800.8,1087.0 804.9,1089.5 809.1,1091.8 813.2,1094.0 817.3,1096.1 821.5,1098.1 825.6,1100.0 829.7,1101.8 833.8,1103.4 838.0,1105.1 842.1,1106.6 846.2,1108.1 850.4,1109.5 854.5,1110.8 858.6,1112.1 862.8,1113.3 866.9,1114.5 871.0,1115.6 875.2,1116.7 879.3,1117.7 883.4,1118.7 887.5,1119.7 891.7,1120.6 895.8,1121.5 899.9,1122.4 904.1,1123.2 908.2,1124.0 912.3,1124.8 916.5,1125.5 920.6,1126.3 924.7,1127.0 928.9,1127.6 933.0,1128.3 937.1,1128.9 941.3,1129.6 945.4,1130.2 949.5,1130.7 953.6,1131.3 956.4,1131.7" stroke="#41AE76"/>
<polyline points="234.9,1167.9 291.0,1167.9 291.4,1164.9 291.7,1158.2 292.1,1149.9 292.4,1136.7 292.8,1119.8 293.1,1101.3 293.4,1083.3 293.8,1067.1 294.1,1051.3 294.5,1035.8 294.8,1020.2 295.2,1004.2 295.5,987.6 295.9,970.1 296.2,951.3 296.5,931.1 296.9,907.3 297.2,877.5 297.6,853.8 297.9,839.0 298.3,828.7 298.6,821.4 299.0,817.0 299.3,814.7 299.6,813.9 300.0,814.1 300.3,814.3 300.7,814.7 301.0,815.1 301.4,815.7 301.7,816.5 302.0,817.4 302.4,818.2 302.7,818.9 303.1,819.7 303.4,820.5 303.8,821.2 304.1,822.0 304.5,822.7 304.8,823.5 305.1,824.2 305.5,825.0 305.8,825.7 306.2,826.5 306.5,827.2 306.9,827.9 307.2,828.6 307.6,829.3 309.6,833.5 311.7,837.4 313.8,841.2 315.8,844.8 317.9,848.2 320.0,851.4 322.0,854.5 324.1,857.4 326.1,860.2 328.2,862.8 330.3,865.3 332.3,867.7 334.4,870.0 336.5,872.1 338.5,874.2 340.6,876.2 342.7,878.0 344.7,879.8 346.8,881.5 348.9,883.1 350.9,884.6 353.0,886.0 355.1,887.4 357.1,888.7 359.2,890.0 361.3,891.2 363.3,892.3 365.4,893.4 367.5,894.4 369.5,895.3 371.6,896.3 373.7,897.1 375.7,898.0 377.8,898.8 379.9,899.5 381.9,900.2 384.0,900.9 386.0,901.6 388.1,902.2 390.2,902.8 392.2,903.3 394.3,903.9 396.4,904.4 398.4,904.8 400.5,905.3 402.6,905.7 404.6,906.1 406.7,906.5 408.8,906.9 410.8,907.2 412.9,907.6 415.0,907.9 417.0,908.2 419.1,908.5 421.2,908.8 423.2,909.0 425.3,909.3 427.4,909.5 429.4,909.7 431.5,909.9 433.1,910.1 441.4,910.8 449.7,911.4 457.9,911.8 466.2,912.2 474.4,912.5 482.7,912.7 491.0,912.9 499.2,913.0 507.5,913.0 515.8,913.0 524.0,913.0 532.3,912.9 540.5,912.8 548.8,912.7 557.1,912.6 565.3,912.5 573.6,912.3 581.9,912.1 590.1,911.9 598.4,911.7 606.6,911.5 614.9,911.3 623.2,911.0 631.4,910.7 639.7,910.4 648.0,910.1 656.2,909.8 664.5,909.5 672.7,909.2 681.0,908.8 689.3,908.6 692.0,908.5 692.7,908.5 693.4,908.4 694.1,908.4 694.8,908.4 695.5,908.4 696.1,908.3 696.8,908.3 697.5,908.3 698.2,908.2 698.9,908.2 699.6,908.2 700.3,908.1 701.0,908.1 701.7,908.1 702.3,908.0 703.0,908.0 703.7,908.0 704.4,907.9 705.1,907.9 705.8,907.9 706.5,907.9 707.2,908.2 707.9,908.9 708.5,910.1 709.2,911.7 709.9,913.6 710.6,915.8 711.3,918.2 712.0,920.8 712.7,923.5 713.4,926.3 714.0,929.2 714.7,932.0 715.4,934.9 716.1,937.7 716.8,940.6 717.5,943.4 718.2,946.1 718.9,948.8 719.6,951.4 720.2,954.0 720.9,956.6 721.6,959.1 722.3,961.5 723.0,963.9 723.7,966.2 724.4,968.5 725.1,970.7 725.8,972.9 726.4,975.1 727.1,977.2 727.8,979.2 728.5,981.2 729.2,983.2 729.9,985.2 730.6,987.1 731.3,988.9 731.9,990.7 732.6,992.5 733.3,994.3 734.0,996.0 734.7,997.7 735.4,999.3 736.1,1000.9 736.8,1002.5 737.5,1004.1 738.1,1005.6 738.8,1007.1 739.5,1008.6 740.2,1010.1 740.9,1011.5 741.6,1012.9 742.3,1014.3 743.0,1015.7 747.1,1023.3 751.2,1030.3 755.4,1036.6 759.5,1042.4 763.6,1047.8 767.8,1052.7 771.9,1057.2 776.0,1061.4 780.1,1065.3 784.3,1068.9 788.4,1072.3 792.5,1075.5 796.7,1078.5 800.8,1081.3 804.9,1083.9 809.1,1086.4 813.2,1088.8 817.3,1091.0 821.5,1093.1 825.6,1095.1 829.7,1097.0 833.8,1098.8 838.0,1100.5 842.1,1102.1 846.2,1103.7 850.4,1105.2 854.5,1106.6 858.6,1108.0 862.8,1109.3 866.9,1110.5 871.0,1111.7 875.2,1112.9 879.3,1114.0 883.4,1115.0 887.5,1116.1 891.7,1117.1 895.8,1118.0 899.9,1118.9 904.1,1119.8 908.2,1120.7 912.3,1121.5 916.5,1122.3 920.6,1123.1 924.7,1123.8 928.9,1124.5 933.0,1125.2 937.1,1125.9 941.3,1126.6 945.4,1127.2 949.5,1127.9 953.6,1128.5 956.4,1128.8" stroke="#238B45"/>
<polyline points="234.9,1167.9 287.7,1167.9 288.1,1153.9 288.4,1114.3 288.8,1074.0 289.1,1046.6 289.5,1022.7 289.8,1001.3 290.1,981.6 290.5,962.4 290.8,943.1 291.2,922.6 291.5,900.0 291.9,876.7 292.2,855.1 292.5,837.8 292.9,824.8 293.2,814.3 293.6,806.0 293.9,799.2 294.3,793.7 294.6,789.9 295.0,787.1 295.3,785.4 295.6,784.2 296.0,784.0 296.3,784.1 296.7,784.4 297.0,784.8 297.4,785.2 297.7,785.9 298.1,786.7 298.4,787.5 298.7,788.3 299.1,789.2 299.4,790.0 299.8,790.8 300.1,791.7 300.5,792.5 300.8,793.4 301.2,794.2 301.5,795.0 301.8,795.8 302.2,796.5 302.5,797.3 302.9,798.1 303.2,798.8 303.6,799.6 303.9,800.3 304.3,801.1 306.3,805.4 308.4,809.5 310.4,813.4 312.5,817.2 314.6,820.7 316.6,824.1 318.7,827.3 320.8,830.3 322.8,833.2 324.9,836.0 327.0,838.6 329.0,841.1 331.1,843.5 333.2,845.7 335.2,847.9 337.3,849.9 339.4,851.8 341.4,853.7 343.5,855.4 345.6,857.1 347.6,858.7 349.7,860.2 351.8,861.6 353.8,863.0 355.9,864.3 358.0,865.5 360.0,866.7 362.1,867.8 364.2,868.9 366.2,869.9 368.3,870.8 370.3,871.8 372.4,872.6 374.5,873.4 376.5,874.2 378.6,875.0 380.7,875.7 382.7,876.3 384.8,877.0 386.9,877.6 388.9,878.2 391.0,878.7 393.1,879.2 395.1,879.7 397.2,880.2 399.3,880.6 401.3,881.1 403.4,881.5 405.5,881.8 407.5,882.2 409.6,882.5 411.7,882.9 413.7,883.2 415.8,883.5 417.9,883.8 419.9,884.0 422.0,884.3 424.1,884.5 426.1,884.7 428.2,884.9 430.2,885.1 432.3,885.3 433.1,885.4 441.4,886.1 449.7,886.6 457.9,887.0 466.2,887.4 474.4,887.6 482.7,887.8 491.0,888.0 499.2,888.1 507.5,888.2 515.8,888.2 524.0,888.2 532.3,888.2 540.5,888.2 548.8,888.1 557.1,888.1 565.3,888.0 573.6,887.8 581.9,887.6 590.1,887.4 598.4,887.2 606.6,886.9 614.9,886.6 623.2,886.2 631.4,885.8 639.7,885.4 648.0,885.0 656.2,884.5 664.5,884.0 672.7,883.5 681.0,883.0 689.3,882.7 692.0,882.5 692.7,882.5 693.4,882.4 694.1,882.4 694.8,882.3 695.5,882.3 696.1,882.2 696.8,882.2 697.5,882.2 698.2,882.1 698.9,882.1 699.6,882.0 700.3,882.0 701.0,881.9 701.7,881.9 702.3,881.8 703.0,881.8 703.7,881.7 704.4,881.9 705.1,882.5 705.8,883.6 706.5,885.1 707.2,887.1 707.9,889.4 708.5,892.0 709.2,894.8 709.9,897.7 710.6,900.8 711.3,903.9 712.0,907.0 712.7,910.2 713.4,913.3 714.0,916.4 714.7,919.5 715.4,922.6 716.1,925.6 716.8,928.5 717.5,931.4 718.2,934.2 718.9,936.9 719.6,939.6 720.2,942.3 720.9,944.9 721.6,947.4 722.3,949.9 723.0,952.3 723.7,954.7 724.4,957.0 725.1,959.3 725.8,961.6 726.4,963.7 727.1,965.9 727.8,968.0 728.5,970.0 729.2,972.1 729.9,974.0 730.6,976.0 731.3,977.9 731.9,979.7 732.6,981.6 733.3,983.4 734.0,985.1 734.7,986.9 735.4,988.6 736.1,990.2 736.8,991.9 737.5,993.5 738.1,995.0 738.8,996.6 739.5,998.1 740.2,999.6 740.9,1001.1 741.6,1002.5 742.3,1004.0 743.0,1005.4 747.1,1013.3 751.2,1020.5 755.4,1027.1 759.5,1033.2 763.6,1038.7 767.8,1043.9 771.9,1048.6 776.0,1053.0 780.1,1057.1 784.3,1060.9 788.4,1064.5 792.5,1067.9 796.7,1071.0 800.8,1074.0 804.9,1076.8 809.1,1079.4 813.2,1081.9 817.3,1084.2 821.5,1086.5 825.6,1088.6 829.7,1090.6 833.8,1092.5 838.0,1094.4 842.1,1096.1 846.2,1097.8 850.4,1099.4 854.5,1100.9 858.6,1102.4 862.8,1103.8 866.9,1105.1 871.0,1106.4 875.2,1107.6 879.3,1108.8 883.4,1110.0 887.5,1111.1 891.7,1112.1 895.8,1113.2 899.9,1114.1 904.1,1115.1 908.2,1116.0 912.3,1116.9 916.5,1117.8 920.6,1118.6 924.7,1119.4 928.9,1120.2 933.0,1121.0 937.1,1121.7 941.3,1122.4 945.4,1123.1 949.5,1123.8 953.6,1124.4 956.4,1124.9" stroke="#006D2C"/>
<polyline points="234.9,1167.9 282.4,1167.9 282.7,1160.8 283.0,1147.0 283.4,1122.5 283.7,1092.2 284.1,1060.4 284.4,1022.2 284.8,982.1 285.1,945.5 285.5,917.8 285.8,895.6 286.1,875.7 286.5,857.8 286.8,842.0 287.2,828.1 287.5,816.1 287.9,805.6 288.2,796.4 288.6,788.5 288.9,781.8 289.2,776.0 289.6,770.8 289.9,766.5 290.3,763.2 290.6,760.4 291.0,758.3 291.3,756.8 291.7,755.6 292.0,754.8 292.3,754.5 292.7,754.6 293.0,754.9 293.4,755.3 293.7,755.7 294.1,756.3 294.4,757.0 294.8,757.9 295.1,758.8 295.4,759.6 295.8,760.5 296.1,761.5 296.5,762.4 296.8,763.4 297.2,764.3 297.5,765.3 297.8,766.2 298.2,767.0 298.5,767.9 298.9,768.7 300.9,773.5 303.0,778.1 305.1,782.5 307.1,786.7 309.2,790.6 311.3,794.4 313.3,798.0 315.4,801.4 317.5,804.6 319.5,807.7 321.6,810.7 323.7,813.4 325.7,816.1 327.8,818.6 329.9,821.0 331.9,823.3 334.0,825.5 336.1,827.5 338.1,829.5 340.2,831.3 342.3,833.1 344.3,834.8 346.4,836.4 348.5,837.9 350.5,839.4 352.6,840.7 354.7,842.0 356.7,843.3 358.8,844.5 360.8,845.6 362.9,846.7 365.0,847.7 367.0,848.6 369.1,849.5 371.2,850.4 373.2,851.2 375.3,852.0 377.4,852.8 379.4,853.5 381.5,854.1 383.6,854.8 385.6,855.4 387.7,855.9 389.8,856.5 391.8,857.0 393.9,857.5 396.0,857.9 398.0,858.4 400.1,858.8 402.2,859.2 404.2,859.6 406.3,859.9 408.4,860.2 410.4,860.6 412.5,860.9 414.6,861.1 416.6,861.4 418.7,861.7 420.7,861.9 422.8,862.1 424.9,862.3 426.9,862.5 429.0,862.7 431.1,862.9 433.1,863.1 441.4,863.7 449.7,864.1 457.9,864.4 466.2,864.7 474.4,864.9 482.7,864.9 491.0,864.8 499.2,864.7 507.5,864.4 515.8,864.1 524.0,863.7 532.3,863.3 540.5,862.9 548.8,862.5 557.1,862.1 565.3,861.8 573.6,861.4 581.9,861.1 590.1,860.7 598.4,860.4 606.6,860.0 614.9,859.7 623.2,859.4 631.4,859.0 639.7,858.7 648.0,858.3 656.2,858.0 664.5,857.6 672.7,857.3 681.0,857.0 689.3,856.8 692.0,856.7 692.7,856.7 693.4,856.6 694.1,856.6 694.8,856.6 695.5,856.6 696.1,856.5 696.8,856.5 697.5,856.5 698.2,856.5 698.9,856.4 699.6,856.4 700.3,856.4 701.0,856.3 701.7,856.3 702.3,856.4 703.0,856.8 703.7,857.7 704.4,859.1 705.1,861.0 705.8,863.4 706.5,866.1 707.2,869.1 707.9,872.3 708.5,875.7 709.2,879.1 709.9,882.6 710.6,886.1 711.3,889.6 712.0,893.1 712.7,896.6 713.4,900.0 714.0,903.3 714.7,906.6 715.4,909.9 716.1,913.0 716.8,916.1 717.5,919.2 718.2,922.1 718.9,925.0 719.6,927.9 720.2,930.6 720.9,933.4 721.6,936.0 722.3,938.6 723.0,941.2 723.7,943.6 724.4,946.1 725.1,948.5 725.8,950.8 726.4,953.1 727.1,955.3 727.8,957.5 728.5,959.7 729.2,961.8 729.9,963.9 730.6,965.9 731.3,967.9 731.9,969.8 732.6,971.7 733.3,973.6 734.0,975.5 734.7,977.3 735.4,979.0 736.1,980.8 736.8,982.5 737.5,984.2 738.1,985.8 738.8,987.5 739.5,989.1 740.2,990.6 740.9,992.2 741.6,993.7 742.3,995.2 743.0,996.6 747.1,1005.0 751.2,1012.5 755.4,1019.4 759.5,1025.7 763.6,1031.6 767.8,1036.9 771.9,1041.9 776.0,1046.5 780.1,1050.8 784.3,1054.8 788.4,1058.6 792.5,1062.1 796.7,1065.4 800.8,1068.5 804.9,1071.4 809.1,1074.2 813.2,1076.8 817.3,1079.3 821.5,1081.6 825.6,1083.8 829.7,1086.0 833.8,1088.0 838.0,1089.9 842.1,1091.7 846.2,1093.5 850.4,1095.2 854.5,1096.8 858.6,1098.3 862.8,1099.8 866.9,1101.2 871.0,1102.5 875.2,1103.8 879.3,1105.1 883.4,1106.3 887.5,1107.5 891.7,1108.6 895.8,1109.7 899.9,1110.7 904.1,1111.7 908.2,1112.7 912.3,1113.6 916.5,1114.5 920.6,1115.4 924.7,1116.3 928.9,1117.1 933.0,1117.9 937.1,1118.7 941.3,1119.4 945.4,1120.2 949.5,1120.9 953.6,1121.5 956.4,1122.0" stroke="#00441B"/>
</g>
<g stroke="#000" fill="none" stroke-width="5.4" stroke-linecap="butt">
<path d="M143.1,521 V96"/>
<path d="M140.6,518.5 H980"/>
<path d="M205,1176.1 V751"/>
<path d="M202.5,1173.6 H981"/>
</g>
<g fill="#000" stroke="#000" stroke-width="3" stroke-linejoin="round">
<path d="M143.1,82.5 L150.8,96 L135.4,96 Z"/>
<path d="M994,518.5 L980.3,526 L980.3,511 Z"/>
<path d="M205,737.5 L212.7,750.8 L197.3,750.8 Z"/>
<path d="M994.6,1173.6 L981,1181 L981,1166.2 Z"/>
</g>
<g stroke="#000" stroke-width="2.8" fill="none">
<path d="M136,152.2 H141"/>
<path d="M136,251.4 H141"/>
<path d="M136,350.5 H141"/>
<path d="M136,449.6 H141"/>
<path d="M210.9,520 V525.2"/>
<path d="M359.4,520 V525.2"/>
<path d="M508.0,520 V525.2"/>
<path d="M656.5,520 V525.2"/>
<path d="M805.1,520 V525.2"/>
<path d="M953.6,520 V525.2"/>
<path d="M198.3,758.2 H203"/>
<path d="M198.3,894.6 H203"/>
<path d="M198.3,1031.2 H203"/>
<path d="M198.3,1167.9 H203"/>
<path d="M267.9,1175 V1180.3"/>
<path d="M405.6,1175 V1180.3"/>
<path d="M543.3,1175 V1180.3"/>
<path d="M681.0,1175 V1180.3"/>
<path d="M818.7,1175 V1180.3"/>
<path d="M956.4,1175 V1180.3"/>
</g>
<g font-family='"Liberation Sans", sans-serif' fill="#000">
<text x="-1.5" y="23" font-size="43" font-weight="bold">a</text>
<text x="-2.8" y="681.6" font-size="42.6" font-weight="bold">b</text>
<g font-size="30.2">
<text transform="translate(125.6,161.5) scale(0.98,1)" text-anchor="end">400</text>
<text transform="translate(125.6,260.7) scale(0.98,1)" text-anchor="end">200</text>
<text transform="translate(125.6,359.8) scale(0.98,1)" text-anchor="end">0</text>
<text transform="translate(125.6,458.9) scale(0.98,1)" text-anchor="end">−200</text>
<text transform="translate(210.9,558.1) scale(0.98,1)" text-anchor="middle">0</text>
<text transform="translate(359.4,558.1) scale(0.98,1)" text-anchor="middle">100</text>
<text transform="translate(508.0,558.1) scale(0.98,1)" text-anchor="middle">200</text>
<text transform="translate(656.5,558.1) scale(0.98,1)" text-anchor="middle">300</text>
<text transform="translate(805.1,558.1) scale(0.98,1)" text-anchor="middle">400</text>
<text transform="translate(953.6,558.1) scale(0.98,1)" text-anchor="middle">500</text>
<text transform="translate(184.5,766.8) scale(0.972,1)" text-anchor="end">3,000,000</text>
<text transform="translate(184.5,903.2) scale(0.972,1)" text-anchor="end">2,000,000</text>
<text transform="translate(184.5,1039.8) scale(0.972,1)" text-anchor="end">1,000,000</text>
<text transform="translate(184.5,1176.5) scale(0.972,1)" text-anchor="end">0</text>
<text transform="translate(267.9,1213.1) scale(0.98,1)" text-anchor="middle">0</text>
<text transform="translate(405.6,1213.1) scale(0.98,1)" text-anchor="middle">100</text>
<text transform="translate(543.3,1213.1) scale(0.98,1)" text-anchor="middle">200</text>
<text transform="translate(681.0,1213.1) scale(0.98,1)" text-anchor="middle">300</text>
<text transform="translate(818.7,1213.1) scale(0.98,1)" text-anchor="middle">400</text>
<text transform="translate(956.4,1213.1) scale(0.98,1)" text-anchor="middle">500</text>
<text transform="translate(567.7,600.2) scale(0.98,1)" text-anchor="middle">Time (ns)</text>
<text transform="translate(598.0,1255.3) scale(0.98,1)" text-anchor="middle">Time (ns)</text>
<text transform="translate(34.9,305.1) rotate(-90) scale(0.985,1)" text-anchor="middle" letter-spacing="0.2">Current density (A cm<tspan font-size="20.5" dy="-13.5">−2</tspan><tspan dy="13.5">)</tspan></text>
<text transform="translate(29,955) rotate(-90) scale(0.98,1)" text-anchor="middle">Brightness (cd m<tspan font-size="20.5" dy="-13.5">−2</tspan><tspan dy="13.5">)</tspan></text>
</g>
<g font-size="24">
<text x="205.4" y="32.9" textLength="90.6" lengthAdjust="spacingAndGlyphs">Voltage:</text>
<circle cx="328.2" cy="24.9" r="3.3" fill="none" stroke="#FD8D3C" stroke-opacity="0.55" stroke-width="1.5"/>
<path d="M312.0,24.9 h32.9" stroke="#FD8D3C" stroke-width="5.1" fill="none"/>
<circle cx="328.2" cy="24.9" r="2.6" fill="#fff" fill-opacity="0.13"/>
<text x="356.1" y="32.9" textLength="50.6" lengthAdjust="spacingAndGlyphs">60 V</text>
<circle cx="452.2" cy="24.9" r="3.3" fill="none" stroke="#FC4E2A" stroke-opacity="0.55" stroke-width="1.5"/>
<path d="M436.0,24.9 h32.9" stroke="#FC4E2A" stroke-width="5.1" fill="none"/>
<circle cx="452.2" cy="24.9" r="2.6" fill="#fff" fill-opacity="0.13"/>
<text x="480.1" y="32.9" textLength="50.6" lengthAdjust="spacingAndGlyphs">70 V</text>
<circle cx="576.2" cy="24.9" r="3.3" fill="none" stroke="#E31A1C" stroke-opacity="0.55" stroke-width="1.5"/>
<path d="M560.0,24.9 h32.9" stroke="#E31A1C" stroke-width="5.1" fill="none"/>
<circle cx="576.2" cy="24.9" r="2.6" fill="#fff" fill-opacity="0.13"/>
<text x="604.1" y="32.9" textLength="50.6" lengthAdjust="spacingAndGlyphs">80 V</text>
<circle cx="700.2" cy="24.9" r="3.3" fill="none" stroke="#BD0026" stroke-opacity="0.55" stroke-width="1.5"/>
<path d="M684.0,24.9 h32.9" stroke="#BD0026" stroke-width="5.1" fill="none"/>
<circle cx="700.2" cy="24.9" r="2.6" fill="#fff" fill-opacity="0.13"/>
<text x="728.1" y="32.9" textLength="50.6" lengthAdjust="spacingAndGlyphs">90 V</text>
<circle cx="824.2" cy="24.9" r="3.3" fill="none" stroke="#800026" stroke-opacity="0.55" stroke-width="1.5"/>
<path d="M808.0,24.9 h32.9" stroke="#800026" stroke-width="5.1" fill="none"/>
<circle cx="824.2" cy="24.9" r="2.6" fill="#fff" fill-opacity="0.13"/>
<text x="852.3" y="32.9">100 V</text>
<text x="237.0" y="688.2" textLength="90.6" lengthAdjust="spacingAndGlyphs">Voltage:</text>
<circle cx="359.8" cy="680.2" r="3.3" fill="none" stroke="#66C2A4" stroke-opacity="0.55" stroke-width="1.5"/>
<path d="M343.6,680.2 h32.9" stroke="#66C2A4" stroke-width="5.1" fill="none"/>
<circle cx="359.8" cy="680.2" r="2.6" fill="#fff" fill-opacity="0.13"/>
<text x="387.7" y="688.2" textLength="50.6" lengthAdjust="spacingAndGlyphs">60 V</text>
<circle cx="483.8" cy="680.2" r="3.3" fill="none" stroke="#41AE76" stroke-opacity="0.55" stroke-width="1.5"/>
<path d="M467.6,680.2 h32.9" stroke="#41AE76" stroke-width="5.1" fill="none"/>
<circle cx="483.8" cy="680.2" r="2.6" fill="#fff" fill-opacity="0.13"/>
<text x="511.7" y="688.2" textLength="50.6" lengthAdjust="spacingAndGlyphs">70 V</text>
<circle cx="607.8" cy="680.2" r="3.3" fill="none" stroke="#238B45" stroke-opacity="0.55" stroke-width="1.5"/>
<path d="M591.6,680.2 h32.9" stroke="#238B45" stroke-width="5.1" fill="none"/>
<circle cx="607.8" cy="680.2" r="2.6" fill="#fff" fill-opacity="0.13"/>
<text x="635.7" y="688.2" textLength="50.6" lengthAdjust="spacingAndGlyphs">80 V</text>
<circle cx="731.8" cy="680.2" r="3.3" fill="none" stroke="#006D2C" stroke-opacity="0.55" stroke-width="1.5"/>
<path d="M715.6,680.2 h32.9" stroke="#006D2C" stroke-width="5.1" fill="none"/>
<circle cx="731.8" cy="680.2" r="2.6" fill="#fff" fill-opacity="0.13"/>
<text x="759.7" y="688.2" textLength="50.6" lengthAdjust="spacingAndGlyphs">90 V</text>
<circle cx="855.8" cy="680.2" r="3.3" fill="none" stroke="#00441B" stroke-opacity="0.55" stroke-width="1.5"/>
<path d="M839.6,680.2 h32.9" stroke="#00441B" stroke-width="5.1" fill="none"/>
<circle cx="855.8" cy="680.2" r="2.6" fill="#fff" fill-opacity="0.13"/>
<text x="883.9" y="688.2">100 V</text>
</g>
</g>
</svg></body></html>
